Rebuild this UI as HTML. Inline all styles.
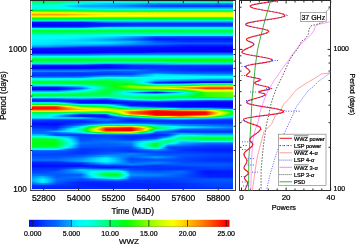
<!DOCTYPE html>
<html><head><meta charset="utf-8"><style>
html,body{margin:0;padding:0;background:#fff;width:357px;height:244px;overflow:hidden}
svg{display:block;will-change:transform}
</style></head><body>
<svg width="357" height="244" viewBox="0 0 357 244" shape-rendering="auto">
<defs><linearGradient id="g0"><stop offset="0.002" stop-color="#00ff32"/><stop offset="0.127" stop-color="#00ff36"/><stop offset="0.371" stop-color="#00ffc6"/><stop offset="0.495" stop-color="#00ff64"/><stop offset="0.644" stop-color="#00ff5e"/><stop offset="0.893" stop-color="#00ff32"/><stop offset="0.998" stop-color="#00ff32"/></linearGradient><linearGradient id="g1"><stop offset="0.002" stop-color="#00ff72"/><stop offset="0.122" stop-color="#00ff74"/><stop offset="0.206" stop-color="#00ffbc"/><stop offset="0.326" stop-color="#00fff1"/><stop offset="0.381" stop-color="#00fcfb"/><stop offset="0.505" stop-color="#00ffdd"/><stop offset="0.644" stop-color="#00ffec"/><stop offset="0.958" stop-color="#00ffdb"/><stop offset="0.998" stop-color="#00ffdb"/></linearGradient><linearGradient id="g2"><stop offset="0.002" stop-color="#00ff99"/><stop offset="0.122" stop-color="#00ff9c"/><stop offset="0.197" stop-color="#00ffea"/><stop offset="0.226" stop-color="#00f7fc"/><stop offset="0.371" stop-color="#00beff"/><stop offset="0.505" stop-color="#00b9ff"/><stop offset="0.629" stop-color="#0088ff"/><stop offset="0.998" stop-color="#0088ff"/></linearGradient><linearGradient id="g3"><stop offset="0.002" stop-color="#00ffc2"/><stop offset="0.122" stop-color="#00ffc5"/><stop offset="0.197" stop-color="#00fafb"/><stop offset="0.256" stop-color="#00d1ff"/><stop offset="0.460" stop-color="#00a7ff"/><stop offset="0.535" stop-color="#0090ff"/><stop offset="0.634" stop-color="#006eff"/><stop offset="0.998" stop-color="#0067ff"/></linearGradient><linearGradient id="g4"><stop offset="0.002" stop-color="#00ffe9"/><stop offset="0.122" stop-color="#00ffea"/><stop offset="0.152" stop-color="#00fafb"/><stop offset="0.211" stop-color="#00ccff"/><stop offset="0.246" stop-color="#00abff"/><stop offset="0.381" stop-color="#00a1ff"/><stop offset="0.634" stop-color="#0047ff"/><stop offset="0.794" stop-color="#0038ff"/><stop offset="0.998" stop-color="#0038ff"/></linearGradient><linearGradient id="g5"><stop offset="0.002" stop-color="#00ffed"/><stop offset="0.122" stop-color="#00ffee"/><stop offset="0.152" stop-color="#00f7fc"/><stop offset="0.226" stop-color="#00bdff"/><stop offset="0.251" stop-color="#00abff"/><stop offset="0.381" stop-color="#00a3ff"/><stop offset="0.634" stop-color="#004bff"/><stop offset="0.794" stop-color="#003bff"/><stop offset="0.998" stop-color="#003bff"/></linearGradient><linearGradient id="g6"><stop offset="0.002" stop-color="#00ffe2"/><stop offset="0.127" stop-color="#00ffe6"/><stop offset="0.177" stop-color="#00f9fc"/><stop offset="0.256" stop-color="#00d2ff"/><stop offset="0.525" stop-color="#00aaff"/><stop offset="0.644" stop-color="#008dff"/><stop offset="0.983" stop-color="#0086ff"/><stop offset="0.998" stop-color="#0086ff"/></linearGradient><linearGradient id="g7"><stop offset="0.002" stop-color="#00ffdb"/><stop offset="0.127" stop-color="#00ffdf"/><stop offset="0.201" stop-color="#00fafb"/><stop offset="0.361" stop-color="#00d6ff"/><stop offset="0.530" stop-color="#00ceff"/><stop offset="0.654" stop-color="#00beff"/><stop offset="0.998" stop-color="#00beff"/></linearGradient><linearGradient id="g8"><stop offset="0.002" stop-color="#00ff70"/><stop offset="0.137" stop-color="#00ff76"/><stop offset="0.381" stop-color="#00ffc2"/><stop offset="0.998" stop-color="#00ffc8"/></linearGradient><linearGradient id="g9"><stop offset="0.002" stop-color="#00ff23"/><stop offset="0.162" stop-color="#00ff2a"/><stop offset="0.286" stop-color="#00ff47"/><stop offset="0.386" stop-color="#00ff64"/><stop offset="0.998" stop-color="#00ff64"/></linearGradient><linearGradient id="g10"><stop offset="0.002" stop-color="#60ff00"/><stop offset="0.152" stop-color="#5aff00"/><stop offset="0.396" stop-color="#30ff00"/><stop offset="0.998" stop-color="#30ff00"/></linearGradient><linearGradient id="g11"><stop offset="0.002" stop-color="#f4ff00"/><stop offset="0.147" stop-color="#eeff00"/><stop offset="0.376" stop-color="#c3ff00"/><stop offset="0.998" stop-color="#c3ff00"/></linearGradient><linearGradient id="g12"><stop offset="0.002" stop-color="#ffd400"/><stop offset="0.137" stop-color="#ffd900"/><stop offset="0.331" stop-color="#faff00"/><stop offset="0.470" stop-color="#f3ff00"/><stop offset="0.998" stop-color="#f3ff00"/></linearGradient><linearGradient id="g13"><stop offset="0.002" stop-color="#ff9d00"/><stop offset="0.137" stop-color="#ffa200"/><stop offset="0.296" stop-color="#ffd700"/><stop offset="0.381" stop-color="#fdf200"/><stop offset="0.998" stop-color="#fdf200"/></linearGradient><linearGradient id="g14"><stop offset="0.002" stop-color="#ffc700"/><stop offset="0.137" stop-color="#ffcc00"/><stop offset="0.356" stop-color="#fcff00"/><stop offset="0.998" stop-color="#f9ff00"/></linearGradient><linearGradient id="g15"><stop offset="0.002" stop-color="#fef100"/><stop offset="0.147" stop-color="#fdf700"/><stop offset="0.236" stop-color="#f0ff00"/><stop offset="0.420" stop-color="#deff00"/><stop offset="0.998" stop-color="#deff00"/></linearGradient><linearGradient id="g16"><stop offset="0.002" stop-color="#6aff00"/><stop offset="0.152" stop-color="#64ff00"/><stop offset="0.396" stop-color="#39ff00"/><stop offset="0.998" stop-color="#39ff00"/></linearGradient><linearGradient id="g17"><stop offset="0.002" stop-color="#00ff0b"/><stop offset="0.600" stop-color="#00ff18"/><stop offset="0.998" stop-color="#00ff18"/></linearGradient><linearGradient id="g20"><stop offset="0.002" stop-color="#0088ff"/><stop offset="0.251" stop-color="#008bff"/><stop offset="0.381" stop-color="#00beff"/><stop offset="0.998" stop-color="#00beff"/></linearGradient><linearGradient id="g21"><stop offset="0.002" stop-color="#0010ff"/><stop offset="0.251" stop-color="#0015ff"/><stop offset="0.361" stop-color="#0063ff"/><stop offset="0.400" stop-color="#006cff"/><stop offset="0.998" stop-color="#0070ff"/></linearGradient><linearGradient id="g22"><stop offset="0.002" stop-color="#000dff"/><stop offset="0.286" stop-color="#0015ff"/><stop offset="0.535" stop-color="#0030ff"/><stop offset="0.998" stop-color="#0030ff"/></linearGradient><linearGradient id="g23"><stop offset="0.002" stop-color="#0006ff"/><stop offset="0.281" stop-color="#0012ff"/><stop offset="0.535" stop-color="#0030ff"/><stop offset="0.998" stop-color="#0030ff"/></linearGradient><linearGradient id="g24"><stop offset="0.002" stop-color="#0001ff"/><stop offset="0.246" stop-color="#000bff"/><stop offset="0.425" stop-color="#0034ff"/><stop offset="0.550" stop-color="#003fff"/><stop offset="0.998" stop-color="#003fff"/></linearGradient><linearGradient id="g25"><stop offset="0.002" stop-color="#001aff"/><stop offset="0.251" stop-color="#0023ff"/><stop offset="0.391" stop-color="#005cff"/><stop offset="0.525" stop-color="#0070ff"/><stop offset="0.998" stop-color="#0070ff"/></linearGradient><linearGradient id="g26"><stop offset="0.002" stop-color="#0065ff"/><stop offset="0.246" stop-color="#0067ff"/><stop offset="0.366" stop-color="#00e9ff"/><stop offset="0.998" stop-color="#00effe"/></linearGradient><linearGradient id="g27"><stop offset="0.002" stop-color="#00ffee"/><stop offset="0.321" stop-color="#00ffe8"/><stop offset="0.998" stop-color="#00ffe4"/></linearGradient><linearGradient id="g28"><stop offset="0.002" stop-color="#00ffac"/><stop offset="0.221" stop-color="#00ffb3"/><stop offset="0.276" stop-color="#00ffae"/><stop offset="0.391" stop-color="#00ff96"/><stop offset="0.595" stop-color="#00ff8c"/><stop offset="0.883" stop-color="#00ff96"/><stop offset="0.998" stop-color="#00ff96"/></linearGradient><linearGradient id="g29"><stop offset="0.002" stop-color="#00ff2f"/><stop offset="0.211" stop-color="#00ff36"/><stop offset="0.455" stop-color="#00ff3f"/><stop offset="0.634" stop-color="#00ff2d"/><stop offset="0.779" stop-color="#00ff3f"/><stop offset="0.998" stop-color="#00ff3f"/></linearGradient><linearGradient id="g30"><stop offset="0.002" stop-color="#00ff27"/><stop offset="0.266" stop-color="#00ff26"/><stop offset="0.396" stop-color="#00ff3d"/><stop offset="0.535" stop-color="#00ff36"/><stop offset="0.639" stop-color="#00ff2d"/><stop offset="0.789" stop-color="#00ff3d"/><stop offset="0.998" stop-color="#00ff3d"/></linearGradient><linearGradient id="g31"><stop offset="0.002" stop-color="#00ff59"/><stop offset="0.266" stop-color="#00ff5c"/><stop offset="0.396" stop-color="#00ff72"/><stop offset="0.998" stop-color="#00ff72"/></linearGradient><linearGradient id="g32"><stop offset="0.002" stop-color="#00ff72"/><stop offset="0.266" stop-color="#00ff78"/><stop offset="0.396" stop-color="#00ff8f"/><stop offset="0.998" stop-color="#00ff8f"/></linearGradient><linearGradient id="g33"><stop offset="0.002" stop-color="#00ffc6"/><stop offset="0.266" stop-color="#00ffcb"/><stop offset="0.400" stop-color="#00ffe0"/><stop offset="0.998" stop-color="#00ffe0"/></linearGradient><linearGradient id="g34"><stop offset="0.002" stop-color="#00ffee"/><stop offset="0.396" stop-color="#00fff6"/><stop offset="0.828" stop-color="#00f5fd"/><stop offset="0.998" stop-color="#00f5fd"/></linearGradient><linearGradient id="g35"><stop offset="0.002" stop-color="#00ffee"/><stop offset="0.197" stop-color="#00fff7"/><stop offset="0.376" stop-color="#00e8ff"/><stop offset="0.510" stop-color="#00aaff"/><stop offset="0.624" stop-color="#0060ff"/><stop offset="0.998" stop-color="#0060ff"/></linearGradient><linearGradient id="g36"><stop offset="0.002" stop-color="#00ffee"/><stop offset="0.137" stop-color="#00fff3"/><stop offset="0.301" stop-color="#00e3ff"/><stop offset="0.415" stop-color="#00c2ff"/><stop offset="0.505" stop-color="#0093ff"/><stop offset="0.614" stop-color="#0041ff"/><stop offset="0.998" stop-color="#003eff"/></linearGradient><linearGradient id="g37"><stop offset="0.002" stop-color="#00fff1"/><stop offset="0.167" stop-color="#00f9fb"/><stop offset="0.381" stop-color="#00bfff"/><stop offset="0.510" stop-color="#0072ff"/><stop offset="0.614" stop-color="#0029ff"/><stop offset="0.918" stop-color="#0020ff"/><stop offset="0.998" stop-color="#0020ff"/></linearGradient><linearGradient id="g38"><stop offset="0.002" stop-color="#00fbfb"/><stop offset="0.112" stop-color="#00f1fe"/><stop offset="0.266" stop-color="#00d4ff"/><stop offset="0.505" stop-color="#0067ff"/><stop offset="0.619" stop-color="#0021ff"/><stop offset="0.873" stop-color="#0017ff"/><stop offset="0.998" stop-color="#0017ff"/></linearGradient><linearGradient id="g39"><stop offset="0.002" stop-color="#00f9fc"/><stop offset="0.097" stop-color="#00effe"/><stop offset="0.291" stop-color="#00c5ff"/><stop offset="0.470" stop-color="#008eff"/><stop offset="0.510" stop-color="#007cff"/><stop offset="0.614" stop-color="#0038ff"/><stop offset="0.789" stop-color="#0026ff"/><stop offset="0.998" stop-color="#0026ff"/></linearGradient><linearGradient id="g40"><stop offset="0.002" stop-color="#00f5fd"/><stop offset="0.097" stop-color="#00ecff"/><stop offset="0.236" stop-color="#00ddff"/><stop offset="0.490" stop-color="#00b7ff"/><stop offset="0.624" stop-color="#0051ff"/><stop offset="0.759" stop-color="#0030ff"/><stop offset="0.998" stop-color="#0030ff"/></linearGradient><linearGradient id="g41"><stop offset="0.002" stop-color="#00effe"/><stop offset="0.082" stop-color="#00e8ff"/><stop offset="0.137" stop-color="#00ddff"/><stop offset="0.306" stop-color="#00e8ff"/><stop offset="0.381" stop-color="#00e1ff"/><stop offset="0.505" stop-color="#00afff"/><stop offset="0.624" stop-color="#005aff"/><stop offset="0.774" stop-color="#0044ff"/><stop offset="0.998" stop-color="#0044ff"/></linearGradient><linearGradient id="g42"><stop offset="0.002" stop-color="#00ecff"/><stop offset="0.077" stop-color="#00e4ff"/><stop offset="0.132" stop-color="#00d6ff"/><stop offset="0.296" stop-color="#00e4ff"/><stop offset="0.376" stop-color="#00deff"/><stop offset="0.545" stop-color="#0083ff"/><stop offset="0.679" stop-color="#0062ff"/><stop offset="0.803" stop-color="#0058ff"/><stop offset="0.998" stop-color="#0058ff"/></linearGradient><linearGradient id="g43"><stop offset="0.002" stop-color="#00e5ff"/><stop offset="0.072" stop-color="#00deff"/><stop offset="0.152" stop-color="#00cbff"/><stop offset="0.400" stop-color="#00a4ff"/><stop offset="0.759" stop-color="#003aff"/><stop offset="0.998" stop-color="#003aff"/></linearGradient><linearGradient id="g44"><stop offset="0.002" stop-color="#00bfff"/><stop offset="0.067" stop-color="#00baff"/><stop offset="0.132" stop-color="#00a4ff"/><stop offset="0.271" stop-color="#009dff"/><stop offset="0.410" stop-color="#0078ff"/><stop offset="0.585" stop-color="#003fff"/><stop offset="0.769" stop-color="#0020ff"/><stop offset="0.998" stop-color="#0020ff"/></linearGradient><linearGradient id="g45"><stop offset="0.002" stop-color="#00a3ff"/><stop offset="0.067" stop-color="#009eff"/><stop offset="0.261" stop-color="#0057ff"/><stop offset="0.410" stop-color="#0044ff"/><stop offset="0.530" stop-color="#002eff"/><stop offset="0.669" stop-color="#0020ff"/><stop offset="0.774" stop-color="#0010ff"/><stop offset="0.998" stop-color="#0010ff"/></linearGradient><linearGradient id="g46"><stop offset="0.002" stop-color="#0066ff"/><stop offset="0.087" stop-color="#005eff"/><stop offset="0.187" stop-color="#0037ff"/><stop offset="0.256" stop-color="#0020ff"/><stop offset="0.530" stop-color="#001aff"/><stop offset="0.789" stop-color="#0000ff"/><stop offset="0.998" stop-color="#0000ff"/></linearGradient><linearGradient id="g47"><stop offset="0.002" stop-color="#001bff"/><stop offset="0.649" stop-color="#0006ff"/><stop offset="0.998" stop-color="#0000fc"/></linearGradient><linearGradient id="g48"><stop offset="0.002" stop-color="#000fff"/><stop offset="0.540" stop-color="#0009ff"/><stop offset="0.813" stop-color="#0000f6"/><stop offset="0.998" stop-color="#0000f6"/></linearGradient><linearGradient id="g49"><stop offset="0.002" stop-color="#000aff"/><stop offset="0.475" stop-color="#0007ff"/><stop offset="0.595" stop-color="#0000f7"/><stop offset="0.998" stop-color="#0000f2"/></linearGradient><linearGradient id="g50"><stop offset="0.002" stop-color="#0003ff"/><stop offset="0.430" stop-color="#0006ff"/><stop offset="0.998" stop-color="#0000fe"/></linearGradient><linearGradient id="g51"><stop offset="0.002" stop-color="#0000ff"/><stop offset="0.281" stop-color="#0006ff"/><stop offset="0.396" stop-color="#0011ff"/><stop offset="0.530" stop-color="#000fff"/><stop offset="0.639" stop-color="#0028ff"/><stop offset="0.998" stop-color="#0028ff"/></linearGradient><linearGradient id="g52"><stop offset="0.002" stop-color="#0027ff"/><stop offset="0.261" stop-color="#002cff"/><stop offset="0.381" stop-color="#0053ff"/><stop offset="0.560" stop-color="#0055ff"/><stop offset="0.639" stop-color="#0067ff"/><stop offset="0.998" stop-color="#0067ff"/></linearGradient><linearGradient id="g53"><stop offset="0.002" stop-color="#0078ff"/><stop offset="0.286" stop-color="#007dff"/><stop offset="0.445" stop-color="#0088ff"/><stop offset="0.998" stop-color="#0088ff"/></linearGradient><linearGradient id="g54"><stop offset="0.002" stop-color="#00b0ff"/><stop offset="0.256" stop-color="#00b5ff"/><stop offset="0.386" stop-color="#00d4ff"/><stop offset="0.998" stop-color="#00d4ff"/></linearGradient><linearGradient id="g56"><stop offset="0.002" stop-color="#00ffc5"/><stop offset="0.719" stop-color="#00ffcc"/><stop offset="0.998" stop-color="#00ffce"/></linearGradient><linearGradient id="g57"><stop offset="0.002" stop-color="#00ff58"/><stop offset="0.485" stop-color="#00ff5e"/><stop offset="0.609" stop-color="#00ff5a"/><stop offset="0.704" stop-color="#00ff63"/><stop offset="0.779" stop-color="#00ff6c"/><stop offset="0.998" stop-color="#00ff6b"/></linearGradient><linearGradient id="g58"><stop offset="0.002" stop-color="#00ff1e"/><stop offset="0.525" stop-color="#00ff1b"/><stop offset="0.674" stop-color="#00ff12"/><stop offset="0.779" stop-color="#00ff18"/><stop offset="0.998" stop-color="#00ff12"/></linearGradient><linearGradient id="g59"><stop offset="0.002" stop-color="#00ff34"/><stop offset="0.316" stop-color="#00ff3b"/><stop offset="0.495" stop-color="#00ff3a"/><stop offset="0.699" stop-color="#00ff13"/><stop offset="0.799" stop-color="#07ff08"/><stop offset="0.898" stop-color="#17ff05"/><stop offset="0.998" stop-color="#17ff05"/></linearGradient><linearGradient id="g60"><stop offset="0.002" stop-color="#00ff75"/><stop offset="0.276" stop-color="#00ff7a"/><stop offset="0.405" stop-color="#00ff88"/><stop offset="0.644" stop-color="#00ff7c"/><stop offset="0.784" stop-color="#00ff53"/><stop offset="0.913" stop-color="#00ff45"/><stop offset="0.998" stop-color="#00ff45"/></linearGradient><linearGradient id="g61"><stop offset="0.002" stop-color="#00ff96"/><stop offset="0.256" stop-color="#00ff9b"/><stop offset="0.381" stop-color="#00ffc8"/><stop offset="0.629" stop-color="#00ffc3"/><stop offset="0.754" stop-color="#00ff96"/><stop offset="0.998" stop-color="#00ff96"/></linearGradient><linearGradient id="g62"><stop offset="0.002" stop-color="#00ebff"/><stop offset="0.256" stop-color="#00e6ff"/><stop offset="0.381" stop-color="#00beff"/><stop offset="0.629" stop-color="#00c2ff"/><stop offset="0.754" stop-color="#00ebff"/><stop offset="0.998" stop-color="#00ebff"/></linearGradient><linearGradient id="g63"><stop offset="0.002" stop-color="#0088ff"/><stop offset="0.246" stop-color="#0086ff"/><stop offset="0.366" stop-color="#0032ff"/><stop offset="0.450" stop-color="#0052ff"/><stop offset="0.500" stop-color="#0070ff"/><stop offset="0.590" stop-color="#007eff"/><stop offset="0.699" stop-color="#00a2ff"/><stop offset="0.998" stop-color="#00a6ff"/></linearGradient><linearGradient id="g64"><stop offset="0.002" stop-color="#0010ff"/><stop offset="0.386" stop-color="#0013ff"/><stop offset="0.530" stop-color="#0033ff"/><stop offset="0.779" stop-color="#0042ff"/><stop offset="0.998" stop-color="#0042ff"/></linearGradient><linearGradient id="g65"><stop offset="0.002" stop-color="#000aff"/><stop offset="0.381" stop-color="#000aff"/><stop offset="0.510" stop-color="#0030ff"/><stop offset="0.998" stop-color="#002fff"/></linearGradient><linearGradient id="g66"><stop offset="0.002" stop-color="#0002ff"/><stop offset="0.381" stop-color="#0005ff"/><stop offset="0.510" stop-color="#0031ff"/><stop offset="0.719" stop-color="#0031ff"/><stop offset="0.998" stop-color="#002bff"/></linearGradient><linearGradient id="g67"><stop offset="0.002" stop-color="#000cff"/><stop offset="0.266" stop-color="#0011ff"/><stop offset="0.405" stop-color="#002aff"/><stop offset="0.595" stop-color="#003dff"/><stop offset="0.938" stop-color="#0025ff"/><stop offset="0.998" stop-color="#0025ff"/></linearGradient><linearGradient id="g68"><stop offset="0.002" stop-color="#0049ff"/><stop offset="0.291" stop-color="#004fff"/><stop offset="0.505" stop-color="#0064ff"/><stop offset="0.674" stop-color="#003aff"/><stop offset="0.908" stop-color="#0021ff"/><stop offset="0.998" stop-color="#0021ff"/></linearGradient><linearGradient id="g69"><stop offset="0.002" stop-color="#006dff"/><stop offset="0.266" stop-color="#0072ff"/><stop offset="0.396" stop-color="#0088ff"/><stop offset="0.500" stop-color="#0084ff"/><stop offset="0.629" stop-color="#0046ff"/><stop offset="0.893" stop-color="#0023ff"/><stop offset="0.998" stop-color="#0023ff"/></linearGradient><linearGradient id="g70"><stop offset="0.002" stop-color="#008dff"/><stop offset="0.251" stop-color="#0089ff"/><stop offset="0.376" stop-color="#0054ff"/><stop offset="0.535" stop-color="#0063ff"/><stop offset="0.674" stop-color="#0054ff"/><stop offset="0.803" stop-color="#003fff"/><stop offset="0.998" stop-color="#003aff"/></linearGradient><linearGradient id="g71"><stop offset="0.002" stop-color="#0050ff"/><stop offset="0.291" stop-color="#004aff"/><stop offset="0.391" stop-color="#0045ff"/><stop offset="0.629" stop-color="#006dff"/><stop offset="0.769" stop-color="#0055ff"/><stop offset="0.998" stop-color="#0054ff"/></linearGradient><linearGradient id="g72"><stop offset="0.002" stop-color="#0042ff"/><stop offset="0.296" stop-color="#003bff"/><stop offset="0.391" stop-color="#0037ff"/><stop offset="0.500" stop-color="#004cff"/><stop offset="0.590" stop-color="#008bff"/><stop offset="0.619" stop-color="#009aff"/><stop offset="0.724" stop-color="#006cff"/><stop offset="0.863" stop-color="#0065ff"/><stop offset="0.998" stop-color="#0065ff"/></linearGradient><linearGradient id="g73"><stop offset="0.002" stop-color="#0037ff"/><stop offset="0.316" stop-color="#0038ff"/><stop offset="0.495" stop-color="#004fff"/><stop offset="0.619" stop-color="#00e0ff"/><stop offset="0.734" stop-color="#00bfff"/><stop offset="0.888" stop-color="#009eff"/><stop offset="0.998" stop-color="#009eff"/></linearGradient><linearGradient id="g74"><stop offset="0.002" stop-color="#0030ff"/><stop offset="0.246" stop-color="#0039ff"/><stop offset="0.376" stop-color="#007aff"/><stop offset="0.495" stop-color="#0080ff"/><stop offset="0.619" stop-color="#00edff"/><stop offset="0.759" stop-color="#00e5ff"/><stop offset="0.883" stop-color="#00c1ff"/><stop offset="0.998" stop-color="#00c1ff"/></linearGradient><linearGradient id="g75"><stop offset="0.002" stop-color="#0058ff"/><stop offset="0.211" stop-color="#0061ff"/><stop offset="0.271" stop-color="#0076ff"/><stop offset="0.376" stop-color="#00b0ff"/><stop offset="0.495" stop-color="#00a2ff"/><stop offset="0.609" stop-color="#00f6fc"/><stop offset="0.848" stop-color="#00fdfa"/><stop offset="0.998" stop-color="#00fffa"/></linearGradient><linearGradient id="g76"><stop offset="0.002" stop-color="#0088ff"/><stop offset="0.246" stop-color="#008bff"/><stop offset="0.326" stop-color="#00eaff"/><stop offset="0.361" stop-color="#00fff5"/><stop offset="0.386" stop-color="#00fff1"/><stop offset="0.535" stop-color="#00fefa"/><stop offset="0.699" stop-color="#00fff2"/><stop offset="0.998" stop-color="#00fff6"/></linearGradient><linearGradient id="g77"><stop offset="0.002" stop-color="#00f2fd"/><stop offset="0.251" stop-color="#00f6fc"/><stop offset="0.291" stop-color="#00ffef"/><stop offset="0.371" stop-color="#00ffbf"/><stop offset="0.450" stop-color="#00ffdd"/><stop offset="0.669" stop-color="#00fff7"/><stop offset="0.764" stop-color="#00f9fb"/><stop offset="0.878" stop-color="#00d4ff"/><stop offset="0.998" stop-color="#00d4ff"/></linearGradient><linearGradient id="g78"><stop offset="0.002" stop-color="#00ffe5"/><stop offset="0.246" stop-color="#00ffe1"/><stop offset="0.336" stop-color="#00ff81"/><stop offset="0.371" stop-color="#00ff5d"/><stop offset="0.500" stop-color="#00ffae"/><stop offset="0.570" stop-color="#00fff8"/><stop offset="0.629" stop-color="#00daff"/><stop offset="0.803" stop-color="#00a9ff"/><stop offset="0.883" stop-color="#0093ff"/><stop offset="0.998" stop-color="#0093ff"/></linearGradient><linearGradient id="g79"><stop offset="0.002" stop-color="#00ff9a"/><stop offset="0.142" stop-color="#00ff94"/><stop offset="0.236" stop-color="#00ff8a"/><stop offset="0.371" stop-color="#00ff48"/><stop offset="0.495" stop-color="#00ff93"/><stop offset="0.550" stop-color="#00ffe5"/><stop offset="0.570" stop-color="#00fbfb"/><stop offset="0.609" stop-color="#00c9ff"/><stop offset="0.634" stop-color="#00b6ff"/><stop offset="0.764" stop-color="#0084ff"/><stop offset="0.908" stop-color="#0073ff"/><stop offset="0.998" stop-color="#0073ff"/></linearGradient><linearGradient id="g80"><stop offset="0.002" stop-color="#00ff38"/><stop offset="0.147" stop-color="#00ff32"/><stop offset="0.351" stop-color="#00ff2c"/><stop offset="0.405" stop-color="#00ff3c"/><stop offset="0.495" stop-color="#00ff72"/><stop offset="0.540" stop-color="#00ffe1"/><stop offset="0.555" stop-color="#00fcfb"/><stop offset="0.585" stop-color="#00c9ff"/><stop offset="0.619" stop-color="#007dff"/><stop offset="0.699" stop-color="#004cff"/><stop offset="0.853" stop-color="#001dff"/><stop offset="0.998" stop-color="#001aff"/></linearGradient><linearGradient id="g81"><stop offset="0.002" stop-color="#00ff20"/><stop offset="0.321" stop-color="#00ff21"/><stop offset="0.381" stop-color="#00ff23"/><stop offset="0.490" stop-color="#00ff54"/><stop offset="0.510" stop-color="#00ff8c"/><stop offset="0.540" stop-color="#00ffe2"/><stop offset="0.550" stop-color="#00fffa"/><stop offset="0.565" stop-color="#00ddff"/><stop offset="0.609" stop-color="#0049ff"/><stop offset="0.619" stop-color="#0034ff"/><stop offset="0.749" stop-color="#0001ff"/><stop offset="0.953" stop-color="#000dff"/><stop offset="0.998" stop-color="#000dff"/></linearGradient><linearGradient id="g82"><stop offset="0.002" stop-color="#00ff6b"/><stop offset="0.157" stop-color="#00ff65"/><stop offset="0.256" stop-color="#00ff58"/><stop offset="0.376" stop-color="#00ff25"/><stop offset="0.490" stop-color="#00ff16"/><stop offset="0.505" stop-color="#00ff35"/><stop offset="0.570" stop-color="#00fff8"/><stop offset="0.585" stop-color="#00ddff"/><stop offset="0.614" stop-color="#0073ff"/><stop offset="0.624" stop-color="#0069ff"/><stop offset="0.694" stop-color="#0066ff"/><stop offset="0.744" stop-color="#0072ff"/><stop offset="0.858" stop-color="#00edff"/><stop offset="0.998" stop-color="#00f1fd"/></linearGradient><linearGradient id="g83"><stop offset="0.002" stop-color="#00ffc2"/><stop offset="0.132" stop-color="#00ffbd"/><stop offset="0.256" stop-color="#00ff89"/><stop offset="0.386" stop-color="#00ff28"/><stop offset="0.465" stop-color="#03ff09"/><stop offset="0.490" stop-color="#0dff07"/><stop offset="0.505" stop-color="#00ff14"/><stop offset="0.609" stop-color="#00ffd9"/><stop offset="0.624" stop-color="#00ffe3"/><stop offset="0.749" stop-color="#00ffcf"/><stop offset="0.868" stop-color="#00ff64"/><stop offset="0.998" stop-color="#00ff64"/></linearGradient><linearGradient id="g84"><stop offset="0.002" stop-color="#00ebff"/><stop offset="0.142" stop-color="#00f1fe"/><stop offset="0.197" stop-color="#00fff5"/><stop offset="0.256" stop-color="#00ffcc"/><stop offset="0.381" stop-color="#00ff2c"/><stop offset="0.425" stop-color="#04ff09"/><stop offset="0.490" stop-color="#5bff00"/><stop offset="0.500" stop-color="#50ff00"/><stop offset="0.545" stop-color="#00ff0c"/><stop offset="0.590" stop-color="#00ff5f"/><stop offset="0.619" stop-color="#00ff98"/><stop offset="0.704" stop-color="#00ff84"/><stop offset="0.744" stop-color="#00ff6f"/><stop offset="0.794" stop-color="#00ff0e"/><stop offset="0.833" stop-color="#4dff00"/><stop offset="0.868" stop-color="#8cff00"/><stop offset="0.998" stop-color="#8cff00"/></linearGradient><linearGradient id="g85"><stop offset="0.002" stop-color="#0075ff"/><stop offset="0.127" stop-color="#0079ff"/><stop offset="0.246" stop-color="#00c3ff"/><stop offset="0.276" stop-color="#00f6fc"/><stop offset="0.296" stop-color="#00ffe5"/><stop offset="0.341" stop-color="#00ff8e"/><stop offset="0.391" stop-color="#00ff2b"/><stop offset="0.415" stop-color="#05ff09"/><stop offset="0.470" stop-color="#67ff00"/><stop offset="0.495" stop-color="#8cff00"/><stop offset="0.619" stop-color="#7aff00"/><stop offset="0.694" stop-color="#a1ff00"/><stop offset="0.744" stop-color="#b1ff00"/><stop offset="0.803" stop-color="#faff00"/><stop offset="0.858" stop-color="#ffc900"/><stop offset="0.878" stop-color="#ffc000"/><stop offset="0.998" stop-color="#ffc000"/></linearGradient><linearGradient id="g86"><stop offset="0.002" stop-color="#000aff"/><stop offset="0.122" stop-color="#000cff"/><stop offset="0.206" stop-color="#005aff"/><stop offset="0.246" stop-color="#008eff"/><stop offset="0.286" stop-color="#00ecff"/><stop offset="0.301" stop-color="#00fff8"/><stop offset="0.341" stop-color="#00ffa6"/><stop offset="0.376" stop-color="#00ff58"/><stop offset="0.430" stop-color="#00ff0a"/><stop offset="0.495" stop-color="#64ff00"/><stop offset="0.604" stop-color="#efff00"/><stop offset="0.629" stop-color="#fdf800"/><stop offset="0.813" stop-color="#ff7c00"/><stop offset="0.873" stop-color="#ff5900"/><stop offset="0.998" stop-color="#ff5900"/></linearGradient><linearGradient id="g87"><stop offset="0.002" stop-color="#0005ff"/><stop offset="0.127" stop-color="#0009ff"/><stop offset="0.241" stop-color="#0056ff"/><stop offset="0.271" stop-color="#00a9ff"/><stop offset="0.296" stop-color="#00edfe"/><stop offset="0.306" stop-color="#00fefa"/><stop offset="0.336" stop-color="#00ffb2"/><stop offset="0.371" stop-color="#00ff50"/><stop offset="0.450" stop-color="#05ff09"/><stop offset="0.550" stop-color="#68ff00"/><stop offset="0.634" stop-color="#b9ff00"/><stop offset="0.694" stop-color="#f9ff00"/><stop offset="0.749" stop-color="#ffd400"/><stop offset="0.868" stop-color="#ff3600"/><stop offset="0.998" stop-color="#ff3600"/></linearGradient><linearGradient id="g88"><stop offset="0.002" stop-color="#0000ff"/><stop offset="0.122" stop-color="#0003ff"/><stop offset="0.197" stop-color="#0057ff"/><stop offset="0.246" stop-color="#00aaff"/><stop offset="0.276" stop-color="#00f0fe"/><stop offset="0.291" stop-color="#00fff1"/><stop offset="0.326" stop-color="#00ffa4"/><stop offset="0.366" stop-color="#00ff3d"/><stop offset="0.381" stop-color="#00ff39"/><stop offset="0.440" stop-color="#00ff40"/><stop offset="0.669" stop-color="#05ff09"/><stop offset="0.744" stop-color="#46ff00"/><stop offset="0.808" stop-color="#deff00"/><stop offset="0.828" stop-color="#fcfb00"/><stop offset="0.868" stop-color="#ffb800"/><stop offset="0.998" stop-color="#ffb800"/></linearGradient><linearGradient id="g89"><stop offset="0.002" stop-color="#005eff"/><stop offset="0.122" stop-color="#0061ff"/><stop offset="0.261" stop-color="#00fffa"/><stop offset="0.311" stop-color="#00ffa5"/><stop offset="0.366" stop-color="#00ff37"/><stop offset="0.381" stop-color="#00ff3c"/><stop offset="0.495" stop-color="#00ff95"/><stop offset="0.649" stop-color="#00ff54"/><stop offset="0.704" stop-color="#00ff3f"/><stop offset="0.739" stop-color="#00ff39"/><stop offset="0.759" stop-color="#00ff0f"/><stop offset="0.784" stop-color="#3eff00"/><stop offset="0.843" stop-color="#d1ff00"/><stop offset="0.868" stop-color="#fcff00"/><stop offset="0.998" stop-color="#fcff00"/></linearGradient><linearGradient id="g90"><stop offset="0.002" stop-color="#00b0ff"/><stop offset="0.122" stop-color="#00b3ff"/><stop offset="0.211" stop-color="#00fffa"/><stop offset="0.276" stop-color="#00ffb4"/><stop offset="0.366" stop-color="#00ff36"/><stop offset="0.376" stop-color="#00ff3e"/><stop offset="0.475" stop-color="#00ffd9"/><stop offset="0.510" stop-color="#00fffa"/><stop offset="0.555" stop-color="#00e6ff"/><stop offset="0.614" stop-color="#0089ff"/><stop offset="0.624" stop-color="#0094ff"/><stop offset="0.674" stop-color="#00eaff"/><stop offset="0.709" stop-color="#00fff4"/><stop offset="0.744" stop-color="#00ffcf"/><stop offset="0.799" stop-color="#00ff1a"/><stop offset="0.803" stop-color="#00ff0c"/><stop offset="0.828" stop-color="#51ff00"/><stop offset="0.863" stop-color="#b8ff00"/><stop offset="0.883" stop-color="#c1ff00"/><stop offset="0.998" stop-color="#ccff00"/></linearGradient><linearGradient id="g91"><stop offset="0.002" stop-color="#00ffee"/><stop offset="0.127" stop-color="#00ffea"/><stop offset="0.231" stop-color="#00ffa0"/><stop offset="0.366" stop-color="#00ff34"/><stop offset="0.376" stop-color="#00ff44"/><stop offset="0.440" stop-color="#00ffda"/><stop offset="0.460" stop-color="#00fbfb"/><stop offset="0.550" stop-color="#005cff"/><stop offset="0.614" stop-color="#000dff"/><stop offset="0.649" stop-color="#0032ff"/><stop offset="0.704" stop-color="#008eff"/><stop offset="0.744" stop-color="#00dcff"/><stop offset="0.759" stop-color="#00fdfb"/><stop offset="0.789" stop-color="#00ffad"/><stop offset="0.833" stop-color="#00ff22"/><stop offset="0.843" stop-color="#02ff0a"/><stop offset="0.863" stop-color="#3fff00"/><stop offset="0.878" stop-color="#4bff00"/><stop offset="0.998" stop-color="#70ff00"/></linearGradient><linearGradient id="g92"><stop offset="0.002" stop-color="#00ffb6"/><stop offset="0.127" stop-color="#00ffb1"/><stop offset="0.366" stop-color="#00ff37"/><stop offset="0.386" stop-color="#00ff5a"/><stop offset="0.445" stop-color="#00ffd1"/><stop offset="0.475" stop-color="#00fdfa"/><stop offset="0.614" stop-color="#0091ff"/><stop offset="0.714" stop-color="#00f2fd"/><stop offset="0.739" stop-color="#00fff7"/><stop offset="0.774" stop-color="#00ffb2"/><stop offset="0.838" stop-color="#00ff18"/><stop offset="0.848" stop-color="#07ff09"/><stop offset="0.868" stop-color="#31ff00"/><stop offset="0.998" stop-color="#5fff00"/></linearGradient><linearGradient id="g93"><stop offset="0.002" stop-color="#00ff3c"/><stop offset="0.236" stop-color="#00ff3b"/><stop offset="0.371" stop-color="#00ff4f"/><stop offset="0.475" stop-color="#00ffdc"/><stop offset="0.500" stop-color="#00ffee"/><stop offset="0.634" stop-color="#00ffe9"/><stop offset="0.744" stop-color="#00ffc3"/><stop offset="0.828" stop-color="#00ff1e"/><stop offset="0.843" stop-color="#05ff09"/><stop offset="0.868" stop-color="#31ff00"/><stop offset="0.998" stop-color="#5fff00"/></linearGradient><linearGradient id="g94"><stop offset="0.002" stop-color="#00ff27"/><stop offset="0.162" stop-color="#00ff2e"/><stop offset="0.376" stop-color="#00ff66"/><stop offset="0.445" stop-color="#00ffa1"/><stop offset="0.495" stop-color="#00ffd1"/><stop offset="0.624" stop-color="#00ffc8"/><stop offset="0.694" stop-color="#00ffa2"/><stop offset="0.744" stop-color="#00ff90"/><stop offset="0.823" stop-color="#00ff18"/><stop offset="0.838" stop-color="#06ff09"/><stop offset="0.868" stop-color="#31ff00"/><stop offset="0.998" stop-color="#5fff00"/></linearGradient><linearGradient id="g95"><stop offset="0.002" stop-color="#00ffa9"/><stop offset="0.197" stop-color="#00ffa1"/><stop offset="0.316" stop-color="#00ff8e"/><stop offset="0.405" stop-color="#00ff8f"/><stop offset="0.495" stop-color="#00ff88"/><stop offset="0.575" stop-color="#00ff6f"/><stop offset="0.629" stop-color="#00ff64"/><stop offset="0.689" stop-color="#00ff47"/><stop offset="0.749" stop-color="#00ff39"/><stop offset="0.813" stop-color="#02ff0a"/><stop offset="0.873" stop-color="#33ff00"/><stop offset="0.998" stop-color="#5fff00"/></linearGradient><linearGradient id="g96"><stop offset="0.002" stop-color="#00ffee"/><stop offset="0.137" stop-color="#00ffe9"/><stop offset="0.251" stop-color="#00ffca"/><stop offset="0.371" stop-color="#00ffec"/><stop offset="0.440" stop-color="#00ffa3"/><stop offset="0.500" stop-color="#00ff60"/><stop offset="0.619" stop-color="#00ff25"/><stop offset="0.699" stop-color="#00ff40"/><stop offset="0.749" stop-color="#00ff41"/><stop offset="0.863" stop-color="#04ff09"/><stop offset="0.998" stop-color="#2eff00"/></linearGradient><linearGradient id="g97"><stop offset="0.002" stop-color="#0088ff"/><stop offset="0.132" stop-color="#008dff"/><stop offset="0.246" stop-color="#00bdff"/><stop offset="0.366" stop-color="#0089ff"/><stop offset="0.440" stop-color="#00f8fc"/><stop offset="0.465" stop-color="#00ffde"/><stop offset="0.500" stop-color="#00ffa8"/><stop offset="0.619" stop-color="#00ff45"/><stop offset="0.749" stop-color="#00ffb6"/><stop offset="0.888" stop-color="#00ffcc"/><stop offset="0.998" stop-color="#00ffc7"/></linearGradient><linearGradient id="g98"><stop offset="0.002" stop-color="#0035ff"/><stop offset="0.132" stop-color="#0039ff"/><stop offset="0.251" stop-color="#0062ff"/><stop offset="0.371" stop-color="#0046ff"/><stop offset="0.470" stop-color="#00f0fe"/><stop offset="0.490" stop-color="#00fff2"/><stop offset="0.629" stop-color="#00ffda"/><stop offset="0.803" stop-color="#00f9fb"/><stop offset="0.898" stop-color="#00ebff"/><stop offset="0.998" stop-color="#00ebff"/></linearGradient><linearGradient id="g99"><stop offset="0.002" stop-color="#0025ff"/><stop offset="0.157" stop-color="#001fff"/><stop offset="0.326" stop-color="#000cff"/><stop offset="0.371" stop-color="#000cff"/><stop offset="0.455" stop-color="#005aff"/><stop offset="0.515" stop-color="#009cff"/><stop offset="0.614" stop-color="#00e9ff"/><stop offset="0.734" stop-color="#008eff"/><stop offset="0.878" stop-color="#0058ff"/><stop offset="0.998" stop-color="#0058ff"/></linearGradient><linearGradient id="g100"><stop offset="0.002" stop-color="#0039ff"/><stop offset="0.132" stop-color="#0034ff"/><stop offset="0.261" stop-color="#000dff"/><stop offset="0.376" stop-color="#000dff"/><stop offset="0.510" stop-color="#0047ff"/><stop offset="0.629" stop-color="#0056ff"/><stop offset="0.774" stop-color="#0032ff"/><stop offset="0.883" stop-color="#0014ff"/><stop offset="0.998" stop-color="#0014ff"/></linearGradient><linearGradient id="g101"><stop offset="0.002" stop-color="#00e8ff"/><stop offset="0.122" stop-color="#00e4ff"/><stop offset="0.206" stop-color="#003eff"/><stop offset="0.246" stop-color="#000aff"/><stop offset="0.550" stop-color="#0015ff"/><stop offset="0.639" stop-color="#0016ff"/><stop offset="0.769" stop-color="#0000ff"/><stop offset="0.998" stop-color="#0000ff"/></linearGradient><linearGradient id="g102"><stop offset="0.002" stop-color="#00ff9d"/><stop offset="0.117" stop-color="#00ff9d"/><stop offset="0.162" stop-color="#00fff9"/><stop offset="0.182" stop-color="#00deff"/><stop offset="0.241" stop-color="#0043ff"/><stop offset="0.400" stop-color="#002aff"/><stop offset="0.520" stop-color="#000fff"/><stop offset="0.858" stop-color="#0000ff"/><stop offset="0.998" stop-color="#0000ff"/></linearGradient><linearGradient id="g103"><stop offset="0.002" stop-color="#0bff08"/><stop offset="0.122" stop-color="#06ff09"/><stop offset="0.157" stop-color="#00ff43"/><stop offset="0.231" stop-color="#00ffda"/><stop offset="0.251" stop-color="#00fff1"/><stop offset="0.336" stop-color="#00f2fd"/><stop offset="0.371" stop-color="#00e6ff"/><stop offset="0.455" stop-color="#0044ff"/><stop offset="0.495" stop-color="#0010ff"/><stop offset="0.853" stop-color="#0000ff"/><stop offset="0.998" stop-color="#0000ff"/></linearGradient><linearGradient id="g104"><stop offset="0.002" stop-color="#ddff00"/><stop offset="0.122" stop-color="#d8ff00"/><stop offset="0.192" stop-color="#42ff00"/><stop offset="0.221" stop-color="#00ff0f"/><stop offset="0.246" stop-color="#00ff41"/><stop offset="0.366" stop-color="#00ffad"/><stop offset="0.396" stop-color="#00fff5"/><stop offset="0.410" stop-color="#00e7ff"/><stop offset="0.465" stop-color="#0053ff"/><stop offset="0.490" stop-color="#0022ff"/><stop offset="0.684" stop-color="#0004ff"/><stop offset="0.998" stop-color="#0000ff"/></linearGradient><linearGradient id="g105"><stop offset="0.002" stop-color="#ff4f00"/><stop offset="0.117" stop-color="#ff4f00"/><stop offset="0.127" stop-color="#ff6800"/><stop offset="0.172" stop-color="#feed00"/><stop offset="0.182" stop-color="#f7ff00"/><stop offset="0.216" stop-color="#8eff00"/><stop offset="0.241" stop-color="#34ff00"/><stop offset="0.251" stop-color="#25ff02"/><stop offset="0.306" stop-color="#00ff0c"/><stop offset="0.366" stop-color="#00ff30"/><stop offset="0.396" stop-color="#00ff84"/><stop offset="0.430" stop-color="#00ffe4"/><stop offset="0.440" stop-color="#00fffa"/><stop offset="0.460" stop-color="#00d4ff"/><stop offset="0.490" stop-color="#007aff"/><stop offset="0.540" stop-color="#0052ff"/><stop offset="0.629" stop-color="#0020ff"/><stop offset="0.759" stop-color="#0000ff"/><stop offset="0.998" stop-color="#0000ff"/></linearGradient><linearGradient id="g106"><stop offset="0.002" stop-color="#ff1800"/><stop offset="0.117" stop-color="#ff1800"/><stop offset="0.132" stop-color="#ff3500"/><stop offset="0.187" stop-color="#ffb200"/><stop offset="0.226" stop-color="#fcfc00"/><stop offset="0.281" stop-color="#b5ff00"/><stop offset="0.366" stop-color="#4bff00"/><stop offset="0.386" stop-color="#0bff08"/><stop offset="0.391" stop-color="#00ff0f"/><stop offset="0.420" stop-color="#00ff72"/><stop offset="0.450" stop-color="#00ffcf"/><stop offset="0.470" stop-color="#00fcfb"/><stop offset="0.495" stop-color="#00c8ff"/><stop offset="0.749" stop-color="#003fff"/><stop offset="0.888" stop-color="#0039ff"/><stop offset="0.998" stop-color="#0021ff"/></linearGradient><linearGradient id="g107"><stop offset="0.002" stop-color="#ff0500"/><stop offset="0.122" stop-color="#ff0a00"/><stop offset="0.192" stop-color="#ff9900"/><stop offset="0.241" stop-color="#feee00"/><stop offset="0.281" stop-color="#f4ff00"/><stop offset="0.371" stop-color="#aeff00"/><stop offset="0.430" stop-color="#18ff05"/><stop offset="0.440" stop-color="#00ff0c"/><stop offset="0.480" stop-color="#00ff73"/><stop offset="0.490" stop-color="#00ff8f"/><stop offset="0.500" stop-color="#00ff93"/><stop offset="0.614" stop-color="#00ff65"/><stop offset="0.654" stop-color="#00ffab"/><stop offset="0.704" stop-color="#00fffa"/><stop offset="0.744" stop-color="#00c9ff"/><stop offset="0.868" stop-color="#00c7ff"/><stop offset="0.998" stop-color="#0046ff"/></linearGradient><linearGradient id="g108"><stop offset="0.002" stop-color="#ff4500"/><stop offset="0.122" stop-color="#ff4700"/><stop offset="0.301" stop-color="#fdf400"/><stop offset="0.326" stop-color="#f2ff00"/><stop offset="0.396" stop-color="#b6ff00"/><stop offset="0.495" stop-color="#6cff00"/><stop offset="0.570" stop-color="#88ff00"/><stop offset="0.619" stop-color="#89ff00"/><stop offset="0.724" stop-color="#14ff06"/><stop offset="0.744" stop-color="#00ff0a"/><stop offset="0.868" stop-color="#00ff0e"/><stop offset="0.913" stop-color="#00ff6a"/><stop offset="0.968" stop-color="#00ffdd"/><stop offset="0.988" stop-color="#00fbfb"/><stop offset="0.998" stop-color="#00eefe"/></linearGradient><linearGradient id="g109"><stop offset="0.002" stop-color="#ffb300"/><stop offset="0.122" stop-color="#ffb500"/><stop offset="0.197" stop-color="#feee00"/><stop offset="0.241" stop-color="#f5ff00"/><stop offset="0.386" stop-color="#deff00"/><stop offset="0.495" stop-color="#f0ff00"/><stop offset="0.510" stop-color="#fdf400"/><stop offset="0.595" stop-color="#ff5700"/><stop offset="0.614" stop-color="#ff2a00"/><stop offset="0.624" stop-color="#ff2c00"/><stop offset="0.744" stop-color="#ff9d00"/><stop offset="0.863" stop-color="#ffb600"/><stop offset="0.893" stop-color="#fbff00"/><stop offset="0.928" stop-color="#8eff00"/><stop offset="0.958" stop-color="#1aff05"/><stop offset="0.963" stop-color="#06ff09"/><stop offset="0.983" stop-color="#00ff4d"/><stop offset="0.998" stop-color="#00ff8c"/></linearGradient><linearGradient id="g110"><stop offset="0.002" stop-color="#c2ff00"/><stop offset="0.152" stop-color="#bcff00"/><stop offset="0.221" stop-color="#a1ff00"/><stop offset="0.366" stop-color="#3eff00"/><stop offset="0.371" stop-color="#44ff00"/><stop offset="0.420" stop-color="#d9ff00"/><stop offset="0.435" stop-color="#fbff00"/><stop offset="0.465" stop-color="#ffbd00"/><stop offset="0.495" stop-color="#ff7500"/><stop offset="0.609" stop-color="#ff0200"/><stop offset="0.679" stop-color="#ff0900"/><stop offset="0.863" stop-color="#ff3900"/><stop offset="0.873" stop-color="#ff5900"/><stop offset="0.913" stop-color="#ffe800"/><stop offset="0.923" stop-color="#f8ff00"/><stop offset="0.953" stop-color="#89ff00"/><stop offset="0.978" stop-color="#18ff05"/><stop offset="0.983" stop-color="#00ff0a"/><stop offset="0.998" stop-color="#00ff49"/></linearGradient><linearGradient id="g111"><stop offset="0.002" stop-color="#00ff2f"/><stop offset="0.132" stop-color="#00ff34"/><stop offset="0.251" stop-color="#00ff63"/><stop offset="0.366" stop-color="#00ff4c"/><stop offset="0.376" stop-color="#00ff2b"/><stop offset="0.386" stop-color="#04ff09"/><stop offset="0.405" stop-color="#5bff00"/><stop offset="0.445" stop-color="#f5ff00"/><stop offset="0.455" stop-color="#fee900"/><stop offset="0.490" stop-color="#ff6400"/><stop offset="0.500" stop-color="#ff5400"/><stop offset="0.600" stop-color="#fc0000"/><stop offset="0.629" stop-color="#f00000"/><stop offset="0.803" stop-color="#f70000"/><stop offset="0.863" stop-color="#ff0000"/><stop offset="0.873" stop-color="#ff1b00"/><stop offset="0.913" stop-color="#ffb400"/><stop offset="0.933" stop-color="#fdf500"/><stop offset="0.938" stop-color="#f8ff00"/><stop offset="0.968" stop-color="#88ff00"/><stop offset="0.993" stop-color="#15ff06"/><stop offset="0.998" stop-color="#00ff0c"/></linearGradient><linearGradient id="g112"><stop offset="0.002" stop-color="#00ff60"/><stop offset="0.067" stop-color="#00ff66"/><stop offset="0.122" stop-color="#00ff84"/><stop offset="0.167" stop-color="#00ffdd"/><stop offset="0.187" stop-color="#00fefa"/><stop offset="0.221" stop-color="#00d5ff"/><stop offset="0.246" stop-color="#00b2ff"/><stop offset="0.366" stop-color="#00eaff"/><stop offset="0.371" stop-color="#00f4fd"/><stop offset="0.376" stop-color="#00ffef"/><stop offset="0.391" stop-color="#00ff9a"/><stop offset="0.410" stop-color="#00ff1d"/><stop offset="0.415" stop-color="#08ff08"/><stop offset="0.440" stop-color="#9dff00"/><stop offset="0.460" stop-color="#fcfe00"/><stop offset="0.480" stop-color="#ffaa00"/><stop offset="0.490" stop-color="#ff7b00"/><stop offset="0.495" stop-color="#ff6c00"/><stop offset="0.604" stop-color="#fb0000"/><stop offset="0.629" stop-color="#f00000"/><stop offset="0.774" stop-color="#f60000"/><stop offset="0.863" stop-color="#ff0800"/><stop offset="0.873" stop-color="#ff2300"/><stop offset="0.908" stop-color="#ffa900"/><stop offset="0.933" stop-color="#fdf900"/><stop offset="0.943" stop-color="#e4ff00"/><stop offset="0.978" stop-color="#5aff00"/><stop offset="0.993" stop-color="#15ff06"/><stop offset="0.998" stop-color="#00ff0c"/></linearGradient><linearGradient id="g113"><stop offset="0.002" stop-color="#00ffb9"/><stop offset="0.057" stop-color="#00ffbc"/><stop offset="0.117" stop-color="#00fcfb"/><stop offset="0.157" stop-color="#00d0ff"/><stop offset="0.241" stop-color="#004dff"/><stop offset="0.366" stop-color="#0049ff"/><stop offset="0.371" stop-color="#0057ff"/><stop offset="0.391" stop-color="#00e0ff"/><stop offset="0.396" stop-color="#00f8fc"/><stop offset="0.405" stop-color="#00ffce"/><stop offset="0.430" stop-color="#00ff25"/><stop offset="0.435" stop-color="#00ff0a"/><stop offset="0.455" stop-color="#83ff00"/><stop offset="0.475" stop-color="#eeff00"/><stop offset="0.480" stop-color="#fdf800"/><stop offset="0.495" stop-color="#ffbc00"/><stop offset="0.580" stop-color="#ff3600"/><stop offset="0.614" stop-color="#fe0000"/><stop offset="0.754" stop-color="#f30000"/><stop offset="0.828" stop-color="#ff0700"/><stop offset="0.863" stop-color="#ff1100"/><stop offset="0.868" stop-color="#ff1b00"/><stop offset="0.903" stop-color="#ffac00"/><stop offset="0.923" stop-color="#fdf300"/><stop offset="0.928" stop-color="#faff00"/><stop offset="0.953" stop-color="#98ff00"/><stop offset="0.978" stop-color="#20ff03"/><stop offset="0.983" stop-color="#06ff09"/><stop offset="0.998" stop-color="#00ff48"/></linearGradient><linearGradient id="g114"><stop offset="0.002" stop-color="#00ffc8"/><stop offset="0.057" stop-color="#00ffcb"/><stop offset="0.097" stop-color="#00fafb"/><stop offset="0.127" stop-color="#00d3ff"/><stop offset="0.211" stop-color="#0037ff"/><stop offset="0.246" stop-color="#000cff"/><stop offset="0.366" stop-color="#001cff"/><stop offset="0.376" stop-color="#0035ff"/><stop offset="0.396" stop-color="#008dff"/><stop offset="0.415" stop-color="#00edff"/><stop offset="0.420" stop-color="#00fbfb"/><stop offset="0.445" stop-color="#00ffa5"/><stop offset="0.480" stop-color="#00ff1e"/><stop offset="0.485" stop-color="#00ff0e"/><stop offset="0.500" stop-color="#39ff00"/><stop offset="0.535" stop-color="#c4ff00"/><stop offset="0.550" stop-color="#f5ff00"/><stop offset="0.565" stop-color="#ffde00"/><stop offset="0.609" stop-color="#ff4200"/><stop offset="0.619" stop-color="#ff2400"/><stop offset="0.744" stop-color="#ff1900"/><stop offset="0.868" stop-color="#ff9f00"/><stop offset="0.898" stop-color="#fdf800"/><stop offset="0.908" stop-color="#e9ff00"/><stop offset="0.948" stop-color="#5aff00"/><stop offset="0.968" stop-color="#06ff09"/><stop offset="0.983" stop-color="#00ff3c"/><stop offset="0.998" stop-color="#00ff7e"/></linearGradient><linearGradient id="g115"><stop offset="0.002" stop-color="#00ffc8"/><stop offset="0.057" stop-color="#00ffcc"/><stop offset="0.082" stop-color="#00fff9"/><stop offset="0.107" stop-color="#00d8ff"/><stop offset="0.147" stop-color="#0096ff"/><stop offset="0.226" stop-color="#0034ff"/><stop offset="0.256" stop-color="#0022ff"/><stop offset="0.371" stop-color="#0011ff"/><stop offset="0.410" stop-color="#0064ff"/><stop offset="0.435" stop-color="#00afff"/><stop offset="0.460" stop-color="#00f5fc"/><stop offset="0.465" stop-color="#00fffa"/><stop offset="0.500" stop-color="#00ff99"/><stop offset="0.545" stop-color="#00ff1d"/><stop offset="0.555" stop-color="#03ff09"/><stop offset="0.595" stop-color="#5dff00"/><stop offset="0.669" stop-color="#eeff00"/><stop offset="0.684" stop-color="#fdf700"/><stop offset="0.739" stop-color="#ffa000"/><stop offset="0.754" stop-color="#ffa900"/><stop offset="0.833" stop-color="#fdf900"/><stop offset="0.863" stop-color="#e6ff00"/><stop offset="0.873" stop-color="#ccff00"/><stop offset="0.913" stop-color="#39ff00"/><stop offset="0.928" stop-color="#00ff0d"/><stop offset="0.953" stop-color="#00ff6f"/><stop offset="0.978" stop-color="#00ffd5"/><stop offset="0.988" stop-color="#00fff6"/><stop offset="0.998" stop-color="#00e9ff"/></linearGradient><linearGradient id="g116"><stop offset="0.002" stop-color="#00ffe5"/><stop offset="0.057" stop-color="#00ffe7"/><stop offset="0.087" stop-color="#00f9fb"/><stop offset="0.132" stop-color="#00dcff"/><stop offset="0.246" stop-color="#00baff"/><stop offset="0.326" stop-color="#0048ff"/><stop offset="0.371" stop-color="#001dff"/><stop offset="0.475" stop-color="#0076ff"/><stop offset="0.495" stop-color="#008fff"/><stop offset="0.535" stop-color="#00effe"/><stop offset="0.550" stop-color="#00fff3"/><stop offset="0.585" stop-color="#00ffa9"/><stop offset="0.619" stop-color="#00ff56"/><stop offset="0.739" stop-color="#00ff0b"/><stop offset="0.803" stop-color="#00ff4b"/><stop offset="0.883" stop-color="#00ffb2"/><stop offset="0.943" stop-color="#00fbfb"/><stop offset="0.983" stop-color="#00ccff"/><stop offset="0.998" stop-color="#00b5ff"/></linearGradient><linearGradient id="g117"><stop offset="0.002" stop-color="#00beff"/><stop offset="0.157" stop-color="#00c6ff"/><stop offset="0.246" stop-color="#00bcff"/><stop offset="0.371" stop-color="#0058ff"/><stop offset="0.495" stop-color="#0046ff"/><stop offset="0.634" stop-color="#00c9ff"/><stop offset="0.724" stop-color="#00f9fb"/><stop offset="0.754" stop-color="#00fcfb"/><stop offset="0.853" stop-color="#00d0ff"/><stop offset="0.998" stop-color="#0089ff"/></linearGradient><linearGradient id="g118"><stop offset="0.002" stop-color="#005eff"/><stop offset="0.256" stop-color="#0052ff"/><stop offset="0.371" stop-color="#007aff"/><stop offset="0.460" stop-color="#003eff"/><stop offset="0.495" stop-color="#002fff"/><stop offset="0.744" stop-color="#0094ff"/><stop offset="0.878" stop-color="#0056ff"/><stop offset="0.998" stop-color="#0044ff"/></linearGradient><linearGradient id="g119"><stop offset="0.002" stop-color="#003aff"/><stop offset="0.092" stop-color="#0031ff"/><stop offset="0.246" stop-color="#002fff"/><stop offset="0.371" stop-color="#007aff"/><stop offset="0.475" stop-color="#002cff"/><stop offset="0.505" stop-color="#0025ff"/><stop offset="0.639" stop-color="#0038ff"/><stop offset="0.903" stop-color="#0030ff"/><stop offset="0.998" stop-color="#0030ff"/></linearGradient><linearGradient id="g120"><stop offset="0.002" stop-color="#002eff"/><stop offset="0.092" stop-color="#0025ff"/><stop offset="0.182" stop-color="#0021ff"/><stop offset="0.261" stop-color="#0029ff"/><stop offset="0.371" stop-color="#0057ff"/><stop offset="0.500" stop-color="#0028ff"/><stop offset="0.684" stop-color="#0031ff"/><stop offset="0.998" stop-color="#0030ff"/></linearGradient><linearGradient id="g121"><stop offset="0.002" stop-color="#0020ff"/><stop offset="0.142" stop-color="#0019ff"/><stop offset="0.271" stop-color="#002eff"/><stop offset="0.376" stop-color="#0057ff"/><stop offset="0.580" stop-color="#004aff"/><stop offset="0.779" stop-color="#0030ff"/><stop offset="0.998" stop-color="#0030ff"/></linearGradient><linearGradient id="g122"><stop offset="0.002" stop-color="#0012ff"/><stop offset="0.127" stop-color="#000fff"/><stop offset="0.336" stop-color="#0075ff"/><stop offset="0.391" stop-color="#008dff"/><stop offset="0.445" stop-color="#0091ff"/><stop offset="0.565" stop-color="#0074ff"/><stop offset="0.629" stop-color="#0050ff"/><stop offset="0.784" stop-color="#003bff"/><stop offset="0.998" stop-color="#0036ff"/></linearGradient><linearGradient id="g123"><stop offset="0.002" stop-color="#0012ff"/><stop offset="0.127" stop-color="#000fff"/><stop offset="0.246" stop-color="#005bff"/><stop offset="0.361" stop-color="#00edff"/><stop offset="0.470" stop-color="#00fff4"/><stop offset="0.500" stop-color="#00fff3"/><stop offset="0.560" stop-color="#00e4ff"/><stop offset="0.624" stop-color="#00a7ff"/><stop offset="0.769" stop-color="#0075ff"/><stop offset="0.998" stop-color="#0052ff"/></linearGradient><linearGradient id="g124"><stop offset="0.002" stop-color="#0020ff"/><stop offset="0.122" stop-color="#0017ff"/><stop offset="0.206" stop-color="#005fff"/><stop offset="0.246" stop-color="#0090ff"/><stop offset="0.286" stop-color="#00edff"/><stop offset="0.306" stop-color="#00ffee"/><stop offset="0.341" stop-color="#00ffa6"/><stop offset="0.371" stop-color="#00ff60"/><stop offset="0.435" stop-color="#00ff0e"/><stop offset="0.490" stop-color="#45ff00"/><stop offset="0.500" stop-color="#36ff00"/><stop offset="0.525" stop-color="#00ff0f"/><stop offset="0.555" stop-color="#00ff54"/><stop offset="0.590" stop-color="#00ffd2"/><stop offset="0.604" stop-color="#00fefa"/><stop offset="0.619" stop-color="#00deff"/><stop offset="0.759" stop-color="#0091ff"/><stop offset="0.998" stop-color="#005dff"/></linearGradient><linearGradient id="g125"><stop offset="0.002" stop-color="#002eff"/><stop offset="0.092" stop-color="#0025ff"/><stop offset="0.122" stop-color="#0021ff"/><stop offset="0.182" stop-color="#0074ff"/><stop offset="0.241" stop-color="#00daff"/><stop offset="0.251" stop-color="#00f8fc"/><stop offset="0.261" stop-color="#00ffde"/><stop offset="0.301" stop-color="#00ff23"/><stop offset="0.306" stop-color="#00ff10"/><stop offset="0.321" stop-color="#40ff00"/><stop offset="0.356" stop-color="#d3ff00"/><stop offset="0.366" stop-color="#f4ff00"/><stop offset="0.376" stop-color="#fcfc00"/><stop offset="0.490" stop-color="#ffc100"/><stop offset="0.500" stop-color="#ffd600"/><stop offset="0.515" stop-color="#fcfc00"/><stop offset="0.535" stop-color="#c6ff00"/><stop offset="0.565" stop-color="#5bff00"/><stop offset="0.585" stop-color="#06ff09"/><stop offset="0.600" stop-color="#00ff3b"/><stop offset="0.614" stop-color="#00ff7e"/><stop offset="0.624" stop-color="#00ff92"/><stop offset="0.709" stop-color="#00fffa"/><stop offset="0.754" stop-color="#00d9ff"/><stop offset="0.928" stop-color="#0090ff"/><stop offset="0.998" stop-color="#007aff"/></linearGradient><linearGradient id="g126"><stop offset="0.002" stop-color="#0033ff"/><stop offset="0.087" stop-color="#002bff"/><stop offset="0.122" stop-color="#0026ff"/><stop offset="0.177" stop-color="#007cff"/><stop offset="0.236" stop-color="#00ebff"/><stop offset="0.246" stop-color="#00fcfb"/><stop offset="0.256" stop-color="#00ffcc"/><stop offset="0.286" stop-color="#00ff12"/><stop offset="0.296" stop-color="#35ff00"/><stop offset="0.321" stop-color="#c2ff00"/><stop offset="0.331" stop-color="#f0ff00"/><stop offset="0.336" stop-color="#fdf700"/><stop offset="0.366" stop-color="#ff7100"/><stop offset="0.371" stop-color="#ff6300"/><stop offset="0.490" stop-color="#ff3000"/><stop offset="0.495" stop-color="#ff3900"/><stop offset="0.545" stop-color="#ffde00"/><stop offset="0.555" stop-color="#fdfa00"/><stop offset="0.565" stop-color="#d9ff00"/><stop offset="0.590" stop-color="#54ff00"/><stop offset="0.600" stop-color="#17ff05"/><stop offset="0.604" stop-color="#00ff10"/><stop offset="0.614" stop-color="#00ff48"/><stop offset="0.619" stop-color="#00ff5b"/><stop offset="0.704" stop-color="#00ffd8"/><stop offset="0.739" stop-color="#00fbfb"/><stop offset="0.978" stop-color="#0091ff"/><stop offset="0.998" stop-color="#0089ff"/></linearGradient><linearGradient id="g127"><stop offset="0.002" stop-color="#0044ff"/><stop offset="0.097" stop-color="#003bff"/><stop offset="0.122" stop-color="#003bff"/><stop offset="0.172" stop-color="#00a8ff"/><stop offset="0.206" stop-color="#00f1fd"/><stop offset="0.221" stop-color="#00fff2"/><stop offset="0.241" stop-color="#00ffce"/><stop offset="0.246" stop-color="#00ffba"/><stop offset="0.271" stop-color="#00ff1d"/><stop offset="0.276" stop-color="#08ff08"/><stop offset="0.301" stop-color="#9cff00"/><stop offset="0.321" stop-color="#fcff00"/><stop offset="0.341" stop-color="#ffab00"/><stop offset="0.366" stop-color="#ff2c00"/><stop offset="0.371" stop-color="#ff1e00"/><stop offset="0.490" stop-color="#fe0000"/><stop offset="0.500" stop-color="#ff1100"/><stop offset="0.550" stop-color="#ff9700"/><stop offset="0.560" stop-color="#ffc600"/><stop offset="0.570" stop-color="#fdf700"/><stop offset="0.575" stop-color="#edff00"/><stop offset="0.595" stop-color="#74ff00"/><stop offset="0.609" stop-color="#07ff08"/><stop offset="0.619" stop-color="#00ff38"/><stop offset="0.684" stop-color="#00ffd9"/><stop offset="0.704" stop-color="#00fafb"/><stop offset="0.729" stop-color="#00caff"/><stop offset="0.744" stop-color="#00a9ff"/><stop offset="0.918" stop-color="#007cff"/><stop offset="0.998" stop-color="#006fff"/></linearGradient><linearGradient id="g128"><stop offset="0.002" stop-color="#0055ff"/><stop offset="0.082" stop-color="#004eff"/><stop offset="0.117" stop-color="#0045ff"/><stop offset="0.132" stop-color="#005fff"/><stop offset="0.187" stop-color="#00ebff"/><stop offset="0.201" stop-color="#00fff7"/><stop offset="0.236" stop-color="#00ffaa"/><stop offset="0.246" stop-color="#00ff86"/><stop offset="0.266" stop-color="#00ff10"/><stop offset="0.276" stop-color="#36ff00"/><stop offset="0.301" stop-color="#c0ff00"/><stop offset="0.311" stop-color="#eeff00"/><stop offset="0.316" stop-color="#fdfa00"/><stop offset="0.346" stop-color="#ff7800"/><stop offset="0.366" stop-color="#ff1100"/><stop offset="0.371" stop-color="#ff0500"/><stop offset="0.490" stop-color="#f50000"/><stop offset="0.495" stop-color="#fb0000"/><stop offset="0.515" stop-color="#ff3c00"/><stop offset="0.550" stop-color="#ffac00"/><stop offset="0.565" stop-color="#fbff00"/><stop offset="0.575" stop-color="#b7ff00"/><stop offset="0.590" stop-color="#3bff00"/><stop offset="0.595" stop-color="#0dff07"/><stop offset="0.600" stop-color="#00ff25"/><stop offset="0.614" stop-color="#00ffb0"/><stop offset="0.619" stop-color="#00ffcc"/><stop offset="0.649" stop-color="#00fffa"/><stop offset="0.684" stop-color="#00cbff"/><stop offset="0.744" stop-color="#0058ff"/><stop offset="0.998" stop-color="#0058ff"/></linearGradient><linearGradient id="g129"><stop offset="0.002" stop-color="#005aff"/><stop offset="0.062" stop-color="#005eff"/><stop offset="0.122" stop-color="#0081ff"/><stop offset="0.177" stop-color="#00e8ff"/><stop offset="0.201" stop-color="#00fff3"/><stop offset="0.241" stop-color="#00ffb4"/><stop offset="0.246" stop-color="#00ff9f"/><stop offset="0.266" stop-color="#00ff25"/><stop offset="0.271" stop-color="#00ff0b"/><stop offset="0.286" stop-color="#59ff00"/><stop offset="0.311" stop-color="#dcff00"/><stop offset="0.321" stop-color="#fdf800"/><stop offset="0.351" stop-color="#ff7600"/><stop offset="0.366" stop-color="#ff2700"/><stop offset="0.371" stop-color="#ff1a00"/><stop offset="0.460" stop-color="#fa0000"/><stop offset="0.490" stop-color="#f00000"/><stop offset="0.500" stop-color="#ff0800"/><stop offset="0.550" stop-color="#ffc100"/><stop offset="0.560" stop-color="#fdfa00"/><stop offset="0.565" stop-color="#e0ff00"/><stop offset="0.580" stop-color="#61ff00"/><stop offset="0.585" stop-color="#30ff00"/><stop offset="0.590" stop-color="#00ff0c"/><stop offset="0.600" stop-color="#00ff6a"/><stop offset="0.609" stop-color="#00ffcf"/><stop offset="0.614" stop-color="#00fff7"/><stop offset="0.619" stop-color="#00f0fe"/><stop offset="0.679" stop-color="#00a0ff"/><stop offset="0.739" stop-color="#0047ff"/><stop offset="0.998" stop-color="#0044ff"/></linearGradient><linearGradient id="g130"><stop offset="0.002" stop-color="#0064ff"/><stop offset="0.057" stop-color="#0067ff"/><stop offset="0.142" stop-color="#00d6ff"/><stop offset="0.192" stop-color="#00fff8"/><stop offset="0.241" stop-color="#00ffca"/><stop offset="0.246" stop-color="#00ffba"/><stop offset="0.276" stop-color="#00ff18"/><stop offset="0.281" stop-color="#0aff08"/><stop offset="0.306" stop-color="#8cff00"/><stop offset="0.331" stop-color="#f6ff00"/><stop offset="0.341" stop-color="#ffe600"/><stop offset="0.366" stop-color="#ff8200"/><stop offset="0.371" stop-color="#ff7800"/><stop offset="0.490" stop-color="#ff8e00"/><stop offset="0.495" stop-color="#ff9a00"/><stop offset="0.515" stop-color="#fdf300"/><stop offset="0.520" stop-color="#f6ff00"/><stop offset="0.545" stop-color="#79ff00"/><stop offset="0.560" stop-color="#17ff05"/><stop offset="0.565" stop-color="#00ff14"/><stop offset="0.580" stop-color="#00ff7b"/><stop offset="0.590" stop-color="#00ffc5"/><stop offset="0.600" stop-color="#00fcfb"/><stop offset="0.609" stop-color="#00c3ff"/><stop offset="0.614" stop-color="#009cff"/><stop offset="0.619" stop-color="#0086ff"/><stop offset="0.744" stop-color="#0030ff"/><stop offset="0.998" stop-color="#0030ff"/></linearGradient><linearGradient id="g131"><stop offset="0.002" stop-color="#006eff"/><stop offset="0.122" stop-color="#0072ff"/><stop offset="0.187" stop-color="#00a9ff"/><stop offset="0.251" stop-color="#00fafb"/><stop offset="0.271" stop-color="#00ffcd"/><stop offset="0.326" stop-color="#00ff1a"/><stop offset="0.331" stop-color="#00ff0c"/><stop offset="0.356" stop-color="#4fff00"/><stop offset="0.371" stop-color="#78ff00"/><stop offset="0.490" stop-color="#daff00"/><stop offset="0.495" stop-color="#d1ff00"/><stop offset="0.525" stop-color="#40ff00"/><stop offset="0.535" stop-color="#0aff08"/><stop offset="0.540" stop-color="#00ff18"/><stop offset="0.575" stop-color="#00ffd4"/><stop offset="0.585" stop-color="#00fbfb"/><stop offset="0.595" stop-color="#00d1ff"/><stop offset="0.614" stop-color="#0060ff"/><stop offset="0.619" stop-color="#0053ff"/><stop offset="0.699" stop-color="#005eff"/><stop offset="0.913" stop-color="#0047ff"/><stop offset="0.998" stop-color="#0047ff"/></linearGradient><linearGradient id="g132"><stop offset="0.002" stop-color="#007bff"/><stop offset="0.062" stop-color="#0076ff"/><stop offset="0.122" stop-color="#0056ff"/><stop offset="0.241" stop-color="#0087ff"/><stop offset="0.291" stop-color="#00f3fd"/><stop offset="0.306" stop-color="#00ffee"/><stop offset="0.341" stop-color="#00ffa6"/><stop offset="0.366" stop-color="#00ff6a"/><stop offset="0.376" stop-color="#00ff6a"/><stop offset="0.495" stop-color="#00ffcd"/><stop offset="0.520" stop-color="#00fdfb"/><stop offset="0.545" stop-color="#00cfff"/><stop offset="0.604" stop-color="#0052ff"/><stop offset="0.619" stop-color="#003fff"/><stop offset="0.679" stop-color="#005cff"/><stop offset="0.744" stop-color="#00aeff"/><stop offset="0.878" stop-color="#0080ff"/><stop offset="0.998" stop-color="#0080ff"/></linearGradient><linearGradient id="g133"><stop offset="0.002" stop-color="#00b2ff"/><stop offset="0.057" stop-color="#00aeff"/><stop offset="0.117" stop-color="#004aff"/><stop offset="0.251" stop-color="#0048ff"/><stop offset="0.376" stop-color="#0088ff"/><stop offset="0.495" stop-color="#0080ff"/><stop offset="0.595" stop-color="#0031ff"/><stop offset="0.624" stop-color="#0027ff"/><stop offset="0.679" stop-color="#003cff"/><stop offset="0.724" stop-color="#00a6ff"/><stop offset="0.739" stop-color="#00ccff"/><stop offset="0.764" stop-color="#00cdff"/><stop offset="0.893" stop-color="#00b6ff"/><stop offset="0.998" stop-color="#00b6ff"/></linearGradient><linearGradient id="g134"><stop offset="0.002" stop-color="#00d2ff"/><stop offset="0.057" stop-color="#00ceff"/><stop offset="0.122" stop-color="#0058ff"/><stop offset="0.256" stop-color="#0033ff"/><stop offset="0.386" stop-color="#0041ff"/><stop offset="0.624" stop-color="#0025ff"/><stop offset="0.674" stop-color="#003bff"/><stop offset="0.684" stop-color="#0054ff"/><stop offset="0.719" stop-color="#00dfff"/><stop offset="0.729" stop-color="#00fbfb"/><stop offset="0.744" stop-color="#00ffda"/><stop offset="0.808" stop-color="#00fafb"/><stop offset="0.878" stop-color="#00dcff"/><stop offset="0.998" stop-color="#00dcff"/></linearGradient><linearGradient id="g135"><stop offset="0.002" stop-color="#00ffd9"/><stop offset="0.057" stop-color="#00ffdc"/><stop offset="0.087" stop-color="#00fafb"/><stop offset="0.137" stop-color="#00c8ff"/><stop offset="0.182" stop-color="#00a3ff"/><stop offset="0.241" stop-color="#003eff"/><stop offset="0.376" stop-color="#0048ff"/><stop offset="0.500" stop-color="#0022ff"/><stop offset="0.619" stop-color="#0033ff"/><stop offset="0.674" stop-color="#0077ff"/><stop offset="0.689" stop-color="#00a8ff"/><stop offset="0.709" stop-color="#00ebff"/><stop offset="0.719" stop-color="#00fffa"/><stop offset="0.744" stop-color="#00ffb9"/><stop offset="0.893" stop-color="#00ff9e"/><stop offset="0.998" stop-color="#00ff9e"/></linearGradient><linearGradient id="g136"><stop offset="0.002" stop-color="#00ffb2"/><stop offset="0.057" stop-color="#00ffb6"/><stop offset="0.117" stop-color="#00fbfb"/><stop offset="0.177" stop-color="#00c7ff"/><stop offset="0.241" stop-color="#0047ff"/><stop offset="0.376" stop-color="#0053ff"/><stop offset="0.500" stop-color="#0029ff"/><stop offset="0.619" stop-color="#0045ff"/><stop offset="0.674" stop-color="#009fff"/><stop offset="0.699" stop-color="#00f4fd"/><stop offset="0.704" stop-color="#00fffa"/><stop offset="0.729" stop-color="#00ffa5"/><stop offset="0.739" stop-color="#00ff7d"/><stop offset="0.749" stop-color="#00ff72"/><stop offset="0.933" stop-color="#00ff64"/><stop offset="0.998" stop-color="#00ff64"/></linearGradient><linearGradient id="g137"><stop offset="0.002" stop-color="#00ff48"/><stop offset="0.057" stop-color="#00ff4a"/><stop offset="0.122" stop-color="#00ff8f"/><stop offset="0.152" stop-color="#00ffdb"/><stop offset="0.167" stop-color="#00fefa"/><stop offset="0.192" stop-color="#00cdff"/><stop offset="0.241" stop-color="#004bff"/><stop offset="0.276" stop-color="#004bff"/><stop offset="0.376" stop-color="#0057ff"/><stop offset="0.500" stop-color="#0031ff"/><stop offset="0.614" stop-color="#0052ff"/><stop offset="0.624" stop-color="#006aff"/><stop offset="0.659" stop-color="#00e1ff"/><stop offset="0.674" stop-color="#00fff6"/><stop offset="0.729" stop-color="#00ff8d"/><stop offset="0.744" stop-color="#00ff71"/><stop offset="0.868" stop-color="#00ff1e"/><stop offset="0.998" stop-color="#00ff1e"/></linearGradient><linearGradient id="g138"><stop offset="0.002" stop-color="#00ff31"/><stop offset="0.117" stop-color="#00ff32"/><stop offset="0.127" stop-color="#00ff4c"/><stop offset="0.167" stop-color="#00ffd2"/><stop offset="0.182" stop-color="#00fffa"/><stop offset="0.201" stop-color="#00d2ff"/><stop offset="0.241" stop-color="#0054ff"/><stop offset="0.256" stop-color="#0050ff"/><stop offset="0.376" stop-color="#0061ff"/><stop offset="0.495" stop-color="#0037ff"/><stop offset="0.585" stop-color="#0086ff"/><stop offset="0.619" stop-color="#00b2ff"/><stop offset="0.644" stop-color="#00effe"/><stop offset="0.654" stop-color="#00fffa"/><stop offset="0.679" stop-color="#00ffca"/><stop offset="0.749" stop-color="#00ffb3"/><stop offset="0.868" stop-color="#00ff58"/><stop offset="0.998" stop-color="#00ff58"/></linearGradient><linearGradient id="g139"><stop offset="0.002" stop-color="#00ff27"/><stop offset="0.117" stop-color="#00ff2b"/><stop offset="0.122" stop-color="#00ff32"/><stop offset="0.172" stop-color="#00ffd9"/><stop offset="0.187" stop-color="#00fcfb"/><stop offset="0.206" stop-color="#00ccff"/><stop offset="0.241" stop-color="#005eff"/><stop offset="0.251" stop-color="#0058ff"/><stop offset="0.386" stop-color="#006dff"/><stop offset="0.495" stop-color="#005aff"/><stop offset="0.570" stop-color="#00a3ff"/><stop offset="0.619" stop-color="#00e1ff"/><stop offset="0.634" stop-color="#00fff3"/><stop offset="0.654" stop-color="#00ffb5"/><stop offset="0.674" stop-color="#00ff6a"/><stop offset="0.679" stop-color="#00ff66"/><stop offset="0.739" stop-color="#00ffd5"/><stop offset="0.813" stop-color="#00ffb4"/><stop offset="0.873" stop-color="#00ff96"/><stop offset="0.998" stop-color="#00ff96"/></linearGradient><linearGradient id="g140"><stop offset="0.002" stop-color="#00ff19"/><stop offset="0.117" stop-color="#00ff1c"/><stop offset="0.127" stop-color="#00ff31"/><stop offset="0.177" stop-color="#00ffd9"/><stop offset="0.192" stop-color="#00fbfb"/><stop offset="0.211" stop-color="#00c8ff"/><stop offset="0.241" stop-color="#0063ff"/><stop offset="0.251" stop-color="#005dff"/><stop offset="0.490" stop-color="#0081ff"/><stop offset="0.555" stop-color="#00eefe"/><stop offset="0.575" stop-color="#00fff5"/><stop offset="0.674" stop-color="#00ff5d"/><stop offset="0.679" stop-color="#00ff63"/><stop offset="0.714" stop-color="#00ffdd"/><stop offset="0.724" stop-color="#00fff9"/><stop offset="0.744" stop-color="#00d3ff"/><stop offset="0.858" stop-color="#00fefa"/><stop offset="0.998" stop-color="#00fff8"/></linearGradient><linearGradient id="g141"><stop offset="0.002" stop-color="#00ff0d"/><stop offset="0.117" stop-color="#00ff0e"/><stop offset="0.132" stop-color="#00ff30"/><stop offset="0.182" stop-color="#00ffd6"/><stop offset="0.197" stop-color="#00fdfa"/><stop offset="0.211" stop-color="#00daff"/><stop offset="0.241" stop-color="#0075ff"/><stop offset="0.251" stop-color="#006cff"/><stop offset="0.386" stop-color="#006dff"/><stop offset="0.495" stop-color="#008cff"/><stop offset="0.540" stop-color="#00ebff"/><stop offset="0.560" stop-color="#00fff3"/><stop offset="0.600" stop-color="#00ffaa"/><stop offset="0.619" stop-color="#00ff85"/><stop offset="0.674" stop-color="#00ff9f"/><stop offset="0.714" stop-color="#00fbfb"/><stop offset="0.734" stop-color="#00cfff"/><stop offset="0.744" stop-color="#00baff"/><stop offset="0.898" stop-color="#00a3ff"/><stop offset="0.998" stop-color="#00a3ff"/></linearGradient><linearGradient id="g142"><stop offset="0.002" stop-color="#00ff0a"/><stop offset="0.117" stop-color="#00ff0a"/><stop offset="0.132" stop-color="#00ff2c"/><stop offset="0.187" stop-color="#00ffdc"/><stop offset="0.197" stop-color="#00fff7"/><stop offset="0.211" stop-color="#00dfff"/><stop offset="0.241" stop-color="#0077ff"/><stop offset="0.251" stop-color="#006dff"/><stop offset="0.381" stop-color="#0063ff"/><stop offset="0.490" stop-color="#007bff"/><stop offset="0.500" stop-color="#0092ff"/><stop offset="0.530" stop-color="#00e8ff"/><stop offset="0.545" stop-color="#00fff5"/><stop offset="0.575" stop-color="#00ffaa"/><stop offset="0.614" stop-color="#00ff33"/><stop offset="0.619" stop-color="#00ff32"/><stop offset="0.689" stop-color="#00ffe0"/><stop offset="0.704" stop-color="#00fbfb"/><stop offset="0.724" stop-color="#00d3ff"/><stop offset="0.744" stop-color="#00a2ff"/><stop offset="0.873" stop-color="#006aff"/><stop offset="0.998" stop-color="#006aff"/></linearGradient><linearGradient id="g143"><stop offset="0.002" stop-color="#00ff14"/><stop offset="0.117" stop-color="#00ff14"/><stop offset="0.132" stop-color="#00ff36"/><stop offset="0.182" stop-color="#00ffd9"/><stop offset="0.197" stop-color="#00fafb"/><stop offset="0.216" stop-color="#00c4ff"/><stop offset="0.241" stop-color="#006cff"/><stop offset="0.251" stop-color="#0063ff"/><stop offset="0.386" stop-color="#005cff"/><stop offset="0.490" stop-color="#0071ff"/><stop offset="0.500" stop-color="#0089ff"/><stop offset="0.530" stop-color="#00e8ff"/><stop offset="0.545" stop-color="#00fff3"/><stop offset="0.575" stop-color="#00ffa0"/><stop offset="0.614" stop-color="#00ff24"/><stop offset="0.619" stop-color="#00ff28"/><stop offset="0.654" stop-color="#00ffd0"/><stop offset="0.664" stop-color="#00fff6"/><stop offset="0.679" stop-color="#00d4ff"/><stop offset="0.749" stop-color="#0088ff"/><stop offset="0.873" stop-color="#0055ff"/><stop offset="0.998" stop-color="#0055ff"/></linearGradient><linearGradient id="g144"><stop offset="0.002" stop-color="#00ff24"/><stop offset="0.117" stop-color="#00ff24"/><stop offset="0.127" stop-color="#00ff3b"/><stop offset="0.172" stop-color="#00ffd7"/><stop offset="0.187" stop-color="#00fdfb"/><stop offset="0.201" stop-color="#00ddff"/><stop offset="0.241" stop-color="#0061ff"/><stop offset="0.256" stop-color="#0059ff"/><stop offset="0.405" stop-color="#005eff"/><stop offset="0.490" stop-color="#006cff"/><stop offset="0.500" stop-color="#0084ff"/><stop offset="0.530" stop-color="#00e4ff"/><stop offset="0.545" stop-color="#00fff6"/><stop offset="0.575" stop-color="#00ffa3"/><stop offset="0.614" stop-color="#00ff24"/><stop offset="0.619" stop-color="#00ff2a"/><stop offset="0.644" stop-color="#00ffc5"/><stop offset="0.654" stop-color="#00fff6"/><stop offset="0.659" stop-color="#00f0fe"/><stop offset="0.674" stop-color="#0099ff"/><stop offset="0.679" stop-color="#0088ff"/><stop offset="0.759" stop-color="#0075ff"/><stop offset="0.873" stop-color="#0044ff"/><stop offset="0.998" stop-color="#0044ff"/></linearGradient><linearGradient id="g145"><stop offset="0.002" stop-color="#00ff30"/><stop offset="0.117" stop-color="#00ff30"/><stop offset="0.127" stop-color="#00ff4c"/><stop offset="0.167" stop-color="#00ffdb"/><stop offset="0.177" stop-color="#00fff8"/><stop offset="0.201" stop-color="#00cdff"/><stop offset="0.241" stop-color="#005dff"/><stop offset="0.261" stop-color="#0056ff"/><stop offset="0.490" stop-color="#0058ff"/><stop offset="0.500" stop-color="#0070ff"/><stop offset="0.535" stop-color="#00e2ff"/><stop offset="0.550" stop-color="#00fff7"/><stop offset="0.580" stop-color="#00ffa6"/><stop offset="0.614" stop-color="#00ff37"/><stop offset="0.619" stop-color="#00ff3f"/><stop offset="0.644" stop-color="#00ffdc"/><stop offset="0.649" stop-color="#00fff5"/><stop offset="0.654" stop-color="#00f0fe"/><stop offset="0.669" stop-color="#0094ff"/><stop offset="0.674" stop-color="#0074ff"/><stop offset="0.679" stop-color="#0063ff"/><stop offset="0.818" stop-color="#003dff"/><stop offset="0.918" stop-color="#0033ff"/><stop offset="0.998" stop-color="#0033ff"/></linearGradient><linearGradient id="g146"><stop offset="0.002" stop-color="#00ff4f"/><stop offset="0.117" stop-color="#00ff4f"/><stop offset="0.127" stop-color="#00ff69"/><stop offset="0.162" stop-color="#00ffdc"/><stop offset="0.172" stop-color="#00fff7"/><stop offset="0.197" stop-color="#00ccff"/><stop offset="0.241" stop-color="#0051ff"/><stop offset="0.291" stop-color="#004dff"/><stop offset="0.490" stop-color="#0047ff"/><stop offset="0.510" stop-color="#006eff"/><stop offset="0.560" stop-color="#00ecff"/><stop offset="0.575" stop-color="#00fff7"/><stop offset="0.609" stop-color="#00ffac"/><stop offset="0.614" stop-color="#00ff9f"/><stop offset="0.619" stop-color="#00ffa6"/><stop offset="0.634" stop-color="#00ffec"/><stop offset="0.639" stop-color="#00fafb"/><stop offset="0.649" stop-color="#00d2ff"/><stop offset="0.674" stop-color="#004fff"/><stop offset="0.679" stop-color="#0044ff"/><stop offset="0.828" stop-color="#0035ff"/><stop offset="0.998" stop-color="#002fff"/></linearGradient><linearGradient id="g147"><stop offset="0.002" stop-color="#00ffd8"/><stop offset="0.122" stop-color="#00ffdc"/><stop offset="0.142" stop-color="#00fafb"/><stop offset="0.172" stop-color="#00c3ff"/><stop offset="0.226" stop-color="#0057ff"/><stop offset="0.246" stop-color="#003dff"/><stop offset="0.425" stop-color="#0046ff"/><stop offset="0.495" stop-color="#0047ff"/><stop offset="0.575" stop-color="#00ebff"/><stop offset="0.595" stop-color="#00fff3"/><stop offset="0.614" stop-color="#00ffd2"/><stop offset="0.619" stop-color="#00ffd6"/><stop offset="0.629" stop-color="#00fff7"/><stop offset="0.644" stop-color="#00d4ff"/><stop offset="0.674" stop-color="#0054ff"/><stop offset="0.684" stop-color="#0049ff"/><stop offset="0.868" stop-color="#0028ff"/><stop offset="0.998" stop-color="#0028ff"/></linearGradient><linearGradient id="g148"><stop offset="0.002" stop-color="#00f7fc"/><stop offset="0.122" stop-color="#00f3fd"/><stop offset="0.157" stop-color="#009fff"/><stop offset="0.182" stop-color="#0061ff"/><stop offset="0.246" stop-color="#0032ff"/><stop offset="0.391" stop-color="#0042ff"/><stop offset="0.495" stop-color="#003cff"/><stop offset="0.595" stop-color="#0093ff"/><stop offset="0.614" stop-color="#00a9ff"/><stop offset="0.634" stop-color="#0091ff"/><stop offset="0.684" stop-color="#0053ff"/><stop offset="0.754" stop-color="#002fff"/><stop offset="0.923" stop-color="#0021ff"/><stop offset="0.998" stop-color="#0021ff"/></linearGradient><linearGradient id="g149"><stop offset="0.002" stop-color="#0074ff"/><stop offset="0.127" stop-color="#0070ff"/><stop offset="0.251" stop-color="#0031ff"/><stop offset="0.386" stop-color="#0043ff"/><stop offset="0.500" stop-color="#0035ff"/><stop offset="0.609" stop-color="#0078ff"/><stop offset="0.624" stop-color="#0078ff"/><stop offset="0.749" stop-color="#0030ff"/><stop offset="0.923" stop-color="#0021ff"/><stop offset="0.998" stop-color="#0021ff"/></linearGradient><linearGradient id="g150"><stop offset="0.002" stop-color="#0057ff"/><stop offset="0.152" stop-color="#0051ff"/><stop offset="0.251" stop-color="#0032ff"/><stop offset="0.381" stop-color="#0049ff"/><stop offset="0.500" stop-color="#0037ff"/><stop offset="0.614" stop-color="#004dff"/><stop offset="0.898" stop-color="#0027ff"/><stop offset="0.998" stop-color="#0027ff"/></linearGradient><linearGradient id="g151"><stop offset="0.002" stop-color="#0052ff"/><stop offset="0.137" stop-color="#004dff"/><stop offset="0.251" stop-color="#0032ff"/><stop offset="0.396" stop-color="#0057ff"/><stop offset="0.515" stop-color="#0053ff"/><stop offset="0.659" stop-color="#0043ff"/><stop offset="0.789" stop-color="#003cff"/><stop offset="0.918" stop-color="#0030ff"/><stop offset="0.998" stop-color="#0030ff"/></linearGradient><linearGradient id="g152"><stop offset="0.002" stop-color="#004aff"/><stop offset="0.162" stop-color="#0044ff"/><stop offset="0.251" stop-color="#0035ff"/><stop offset="0.495" stop-color="#0080ff"/><stop offset="0.624" stop-color="#004eff"/><stop offset="0.779" stop-color="#004aff"/><stop offset="0.913" stop-color="#003cff"/><stop offset="0.998" stop-color="#003cff"/></linearGradient><linearGradient id="g153"><stop offset="0.002" stop-color="#0045ff"/><stop offset="0.256" stop-color="#0048ff"/><stop offset="0.386" stop-color="#0072ff"/><stop offset="0.500" stop-color="#0081ff"/><stop offset="0.629" stop-color="#0057ff"/><stop offset="0.784" stop-color="#0050ff"/><stop offset="0.918" stop-color="#0043ff"/><stop offset="0.998" stop-color="#0043ff"/></linearGradient><linearGradient id="g154"><stop offset="0.002" stop-color="#0045ff"/><stop offset="0.182" stop-color="#004dff"/><stop offset="0.261" stop-color="#005eff"/><stop offset="0.371" stop-color="#009aff"/><stop offset="0.515" stop-color="#0072ff"/><stop offset="0.908" stop-color="#0044ff"/><stop offset="0.998" stop-color="#0044ff"/></linearGradient><linearGradient id="g155"><stop offset="0.002" stop-color="#004eff"/><stop offset="0.201" stop-color="#0057ff"/><stop offset="0.256" stop-color="#0064ff"/><stop offset="0.371" stop-color="#00acff"/><stop offset="0.495" stop-color="#006dff"/><stop offset="0.604" stop-color="#0091ff"/><stop offset="0.624" stop-color="#0093ff"/><stop offset="0.754" stop-color="#0052ff"/><stop offset="0.908" stop-color="#0040ff"/><stop offset="0.998" stop-color="#0040ff"/></linearGradient><linearGradient id="g156"><stop offset="0.002" stop-color="#0057ff"/><stop offset="0.137" stop-color="#005cff"/><stop offset="0.251" stop-color="#007eff"/><stop offset="0.366" stop-color="#00e0ff"/><stop offset="0.425" stop-color="#00a1ff"/><stop offset="0.495" stop-color="#0059ff"/><stop offset="0.619" stop-color="#009cff"/><stop offset="0.749" stop-color="#004dff"/><stop offset="0.908" stop-color="#003aff"/><stop offset="0.998" stop-color="#003aff"/></linearGradient><linearGradient id="g157"><stop offset="0.002" stop-color="#005cff"/><stop offset="0.132" stop-color="#0060ff"/><stop offset="0.251" stop-color="#0090ff"/><stop offset="0.346" stop-color="#00ecff"/><stop offset="0.371" stop-color="#00f7fc"/><stop offset="0.415" stop-color="#00beff"/><stop offset="0.490" stop-color="#004aff"/><stop offset="0.580" stop-color="#0069ff"/><stop offset="0.619" stop-color="#007bff"/><stop offset="0.764" stop-color="#0045ff"/><stop offset="0.908" stop-color="#0034ff"/><stop offset="0.998" stop-color="#0034ff"/></linearGradient><linearGradient id="g158"><stop offset="0.002" stop-color="#006cff"/><stop offset="0.137" stop-color="#0072ff"/><stop offset="0.246" stop-color="#0094ff"/><stop offset="0.341" stop-color="#00effe"/><stop offset="0.371" stop-color="#00fcfb"/><stop offset="0.410" stop-color="#00c9ff"/><stop offset="0.490" stop-color="#0049ff"/><stop offset="0.629" stop-color="#005aff"/><stop offset="0.898" stop-color="#0030ff"/><stop offset="0.998" stop-color="#0030ff"/></linearGradient><linearGradient id="g159"><stop offset="0.002" stop-color="#006aff"/><stop offset="0.132" stop-color="#006eff"/><stop offset="0.241" stop-color="#009fff"/><stop offset="0.336" stop-color="#00f4fd"/><stop offset="0.371" stop-color="#00fff3"/><stop offset="0.405" stop-color="#00deff"/><stop offset="0.490" stop-color="#0051ff"/><stop offset="0.634" stop-color="#0058ff"/><stop offset="0.898" stop-color="#0031ff"/><stop offset="0.998" stop-color="#0031ff"/></linearGradient><linearGradient id="g160"><stop offset="0.002" stop-color="#0044ff"/><stop offset="0.127" stop-color="#0049ff"/><stop offset="0.256" stop-color="#00a4ff"/><stop offset="0.341" stop-color="#00f2fd"/><stop offset="0.371" stop-color="#00fff9"/><stop offset="0.405" stop-color="#00d9ff"/><stop offset="0.490" stop-color="#005aff"/><stop offset="0.624" stop-color="#006eff"/><stop offset="0.774" stop-color="#0044ff"/><stop offset="0.933" stop-color="#0038ff"/><stop offset="0.998" stop-color="#0038ff"/></linearGradient><linearGradient id="g161"><stop offset="0.002" stop-color="#0024ff"/><stop offset="0.142" stop-color="#002aff"/><stop offset="0.246" stop-color="#0055ff"/><stop offset="0.366" stop-color="#00dbff"/><stop offset="0.430" stop-color="#00a7ff"/><stop offset="0.495" stop-color="#005dff"/><stop offset="0.619" stop-color="#0084ff"/><stop offset="0.754" stop-color="#004dff"/><stop offset="0.998" stop-color="#0044ff"/></linearGradient><linearGradient id="g162"><stop offset="0.002" stop-color="#001fff"/><stop offset="0.172" stop-color="#0026ff"/><stop offset="0.246" stop-color="#0032ff"/><stop offset="0.336" stop-color="#0094ff"/><stop offset="0.371" stop-color="#00bdff"/><stop offset="0.500" stop-color="#0077ff"/><stop offset="0.600" stop-color="#007eff"/><stop offset="0.634" stop-color="#007aff"/><stop offset="0.754" stop-color="#0053ff"/><stop offset="0.998" stop-color="#0050ff"/></linearGradient><linearGradient id="g163"><stop offset="0.002" stop-color="#0018ff"/><stop offset="0.236" stop-color="#0022ff"/><stop offset="0.321" stop-color="#0055ff"/><stop offset="0.371" stop-color="#007bff"/><stop offset="0.435" stop-color="#0070ff"/><stop offset="0.495" stop-color="#0087ff"/><stop offset="0.634" stop-color="#0056ff"/><stop offset="0.998" stop-color="#0057ff"/></linearGradient><linearGradient id="g164"><stop offset="0.002" stop-color="#0011ff"/><stop offset="0.256" stop-color="#0012ff"/><stop offset="0.381" stop-color="#0044ff"/><stop offset="0.440" stop-color="#004aff"/><stop offset="0.495" stop-color="#0066ff"/><stop offset="0.614" stop-color="#0036ff"/><stop offset="0.764" stop-color="#0056ff"/><stop offset="0.998" stop-color="#0057ff"/></linearGradient><linearGradient id="g165"><stop offset="0.002" stop-color="#0012ff"/><stop offset="0.281" stop-color="#001aff"/><stop offset="0.530" stop-color="#0037ff"/><stop offset="0.639" stop-color="#0035ff"/><stop offset="0.888" stop-color="#004eff"/><stop offset="0.998" stop-color="#004eff"/></linearGradient><linearGradient id="g166"><stop offset="0.002" stop-color="#0020ff"/><stop offset="0.132" stop-color="#0024ff"/><stop offset="0.246" stop-color="#004aff"/><stop offset="0.371" stop-color="#0011ff"/><stop offset="0.510" stop-color="#0032ff"/><stop offset="0.779" stop-color="#0038ff"/><stop offset="0.918" stop-color="#0045ff"/><stop offset="0.998" stop-color="#0045ff"/></linearGradient><linearGradient id="g167"><stop offset="0.002" stop-color="#002eff"/><stop offset="0.127" stop-color="#0031ff"/><stop offset="0.246" stop-color="#0069ff"/><stop offset="0.376" stop-color="#0045ff"/><stop offset="0.440" stop-color="#004bff"/><stop offset="0.565" stop-color="#0036ff"/><stop offset="0.729" stop-color="#0032ff"/><stop offset="0.938" stop-color="#0042ff"/><stop offset="0.998" stop-color="#0042ff"/></linearGradient><linearGradient id="g168"><stop offset="0.002" stop-color="#0031ff"/><stop offset="0.122" stop-color="#0035ff"/><stop offset="0.197" stop-color="#0083ff"/><stop offset="0.246" stop-color="#00c3ff"/><stop offset="0.376" stop-color="#0088ff"/><stop offset="0.430" stop-color="#0085ff"/><stop offset="0.495" stop-color="#0044ff"/><stop offset="0.644" stop-color="#0035ff"/><stop offset="0.764" stop-color="#003fff"/><stop offset="0.903" stop-color="#0033ff"/><stop offset="0.998" stop-color="#0038ff"/></linearGradient><linearGradient id="g169"><stop offset="0.002" stop-color="#003aff"/><stop offset="0.117" stop-color="#0044ff"/><stop offset="0.192" stop-color="#008eff"/><stop offset="0.246" stop-color="#00d0ff"/><stop offset="0.425" stop-color="#00dfff"/><stop offset="0.455" stop-color="#00a3ff"/><stop offset="0.490" stop-color="#0056ff"/><stop offset="0.619" stop-color="#0044ff"/><stop offset="0.749" stop-color="#0056ff"/><stop offset="0.868" stop-color="#001fff"/><stop offset="0.998" stop-color="#002aff"/></linearGradient><linearGradient id="g170"><stop offset="0.002" stop-color="#0043ff"/><stop offset="0.082" stop-color="#004bff"/><stop offset="0.142" stop-color="#0064ff"/><stop offset="0.241" stop-color="#00b3ff"/><stop offset="0.296" stop-color="#00f6fc"/><stop offset="0.316" stop-color="#00ffef"/><stop offset="0.371" stop-color="#00ffae"/><stop offset="0.425" stop-color="#00ffae"/><stop offset="0.450" stop-color="#00fff8"/><stop offset="0.465" stop-color="#00d8ff"/><stop offset="0.490" stop-color="#0075ff"/><stop offset="0.500" stop-color="#006aff"/><stop offset="0.629" stop-color="#0057ff"/><stop offset="0.744" stop-color="#006bff"/><stop offset="0.853" stop-color="#0019ff"/><stop offset="0.883" stop-color="#0014ff"/><stop offset="0.998" stop-color="#0021ff"/></linearGradient><linearGradient id="g171"><stop offset="0.002" stop-color="#0047ff"/><stop offset="0.082" stop-color="#004eff"/><stop offset="0.147" stop-color="#0068ff"/><stop offset="0.246" stop-color="#00a8ff"/><stop offset="0.291" stop-color="#00f4fd"/><stop offset="0.306" stop-color="#00fff3"/><stop offset="0.351" stop-color="#00ffab"/><stop offset="0.371" stop-color="#00ff8a"/><stop offset="0.425" stop-color="#00ff8d"/><stop offset="0.430" stop-color="#00ff98"/><stop offset="0.450" stop-color="#00ffe6"/><stop offset="0.455" stop-color="#00fff7"/><stop offset="0.465" stop-color="#00e8ff"/><stop offset="0.490" stop-color="#007dff"/><stop offset="0.500" stop-color="#0071ff"/><stop offset="0.629" stop-color="#005dff"/><stop offset="0.744" stop-color="#006dff"/><stop offset="0.853" stop-color="#0018ff"/><stop offset="0.883" stop-color="#0013ff"/><stop offset="0.998" stop-color="#0020ff"/></linearGradient><linearGradient id="g172"><stop offset="0.002" stop-color="#0058ff"/><stop offset="0.132" stop-color="#005dff"/><stop offset="0.241" stop-color="#0086ff"/><stop offset="0.286" stop-color="#00f2fd"/><stop offset="0.301" stop-color="#00ffed"/><stop offset="0.336" stop-color="#00ff9b"/><stop offset="0.366" stop-color="#00ff4b"/><stop offset="0.381" stop-color="#00ff48"/><stop offset="0.425" stop-color="#00ff57"/><stop offset="0.430" stop-color="#00ff64"/><stop offset="0.455" stop-color="#00ffda"/><stop offset="0.465" stop-color="#00fbfb"/><stop offset="0.475" stop-color="#00d8ff"/><stop offset="0.490" stop-color="#008dff"/><stop offset="0.495" stop-color="#0080ff"/><stop offset="0.744" stop-color="#0066ff"/><stop offset="0.863" stop-color="#0016ff"/><stop offset="0.998" stop-color="#0020ff"/></linearGradient><linearGradient id="g173"><stop offset="0.002" stop-color="#006dff"/><stop offset="0.077" stop-color="#0066ff"/><stop offset="0.137" stop-color="#0059ff"/><stop offset="0.241" stop-color="#005fff"/><stop offset="0.251" stop-color="#0077ff"/><stop offset="0.286" stop-color="#00eaff"/><stop offset="0.296" stop-color="#00fefa"/><stop offset="0.321" stop-color="#00ffb8"/><stop offset="0.366" stop-color="#00ff25"/><stop offset="0.381" stop-color="#00ff1f"/><stop offset="0.425" stop-color="#00ff24"/><stop offset="0.430" stop-color="#00ff30"/><stop offset="0.460" stop-color="#00ffd2"/><stop offset="0.470" stop-color="#00fdfa"/><stop offset="0.480" stop-color="#00d6ff"/><stop offset="0.490" stop-color="#009fff"/><stop offset="0.495" stop-color="#0090ff"/><stop offset="0.644" stop-color="#007cff"/><stop offset="0.754" stop-color="#0057ff"/><stop offset="0.868" stop-color="#001bff"/><stop offset="0.998" stop-color="#0020ff"/></linearGradient><linearGradient id="g174"><stop offset="0.002" stop-color="#0074ff"/><stop offset="0.062" stop-color="#0077ff"/><stop offset="0.127" stop-color="#0058ff"/><stop offset="0.241" stop-color="#005bff"/><stop offset="0.256" stop-color="#0080ff"/><stop offset="0.291" stop-color="#00e9ff"/><stop offset="0.306" stop-color="#00fff4"/><stop offset="0.336" stop-color="#00ffa7"/><stop offset="0.366" stop-color="#00ff4c"/><stop offset="0.386" stop-color="#00ff3b"/><stop offset="0.425" stop-color="#00ff29"/><stop offset="0.430" stop-color="#00ff33"/><stop offset="0.460" stop-color="#00ffd4"/><stop offset="0.470" stop-color="#00fcfb"/><stop offset="0.480" stop-color="#00d4ff"/><stop offset="0.490" stop-color="#009dff"/><stop offset="0.495" stop-color="#008eff"/><stop offset="0.634" stop-color="#007eff"/><stop offset="0.789" stop-color="#0041ff"/><stop offset="0.878" stop-color="#001fff"/><stop offset="0.998" stop-color="#0020ff"/></linearGradient><linearGradient id="g175"><stop offset="0.002" stop-color="#008aff"/><stop offset="0.052" stop-color="#00b0ff"/><stop offset="0.122" stop-color="#0059ff"/><stop offset="0.241" stop-color="#006cff"/><stop offset="0.266" stop-color="#00a2ff"/><stop offset="0.301" stop-color="#00eefe"/><stop offset="0.316" stop-color="#00fff6"/><stop offset="0.356" stop-color="#00ffa7"/><stop offset="0.371" stop-color="#00ff89"/><stop offset="0.425" stop-color="#00ff6c"/><stop offset="0.430" stop-color="#00ff77"/><stop offset="0.450" stop-color="#00ffd4"/><stop offset="0.460" stop-color="#00fff9"/><stop offset="0.475" stop-color="#00cbff"/><stop offset="0.490" stop-color="#0080ff"/><stop offset="0.495" stop-color="#0075ff"/><stop offset="0.679" stop-color="#0067ff"/><stop offset="0.779" stop-color="#0046ff"/><stop offset="0.878" stop-color="#0022ff"/><stop offset="0.998" stop-color="#0022ff"/></linearGradient><linearGradient id="g176"><stop offset="0.002" stop-color="#0091ff"/><stop offset="0.052" stop-color="#00c1ff"/><stop offset="0.072" stop-color="#00a7ff"/><stop offset="0.122" stop-color="#0060ff"/><stop offset="0.246" stop-color="#0072ff"/><stop offset="0.306" stop-color="#00eaff"/><stop offset="0.326" stop-color="#00fff6"/><stop offset="0.371" stop-color="#00ffad"/><stop offset="0.425" stop-color="#00ff97"/><stop offset="0.430" stop-color="#00ffa1"/><stop offset="0.450" stop-color="#00fff0"/><stop offset="0.460" stop-color="#00ecff"/><stop offset="0.490" stop-color="#0067ff"/><stop offset="0.495" stop-color="#005cff"/><stop offset="0.744" stop-color="#0051ff"/><stop offset="0.883" stop-color="#002fff"/><stop offset="0.998" stop-color="#002fff"/></linearGradient><linearGradient id="g177"><stop offset="0.002" stop-color="#00a0ff"/><stop offset="0.052" stop-color="#00ddff"/><stop offset="0.067" stop-color="#00cbff"/><stop offset="0.122" stop-color="#0068ff"/><stop offset="0.246" stop-color="#005bff"/><stop offset="0.386" stop-color="#00f0fe"/><stop offset="0.410" stop-color="#00fff5"/><stop offset="0.425" stop-color="#00ffe6"/><stop offset="0.440" stop-color="#00f8fc"/><stop offset="0.460" stop-color="#00c3ff"/><stop offset="0.490" stop-color="#005dff"/><stop offset="0.505" stop-color="#0055ff"/><stop offset="0.729" stop-color="#004bff"/><stop offset="0.998" stop-color="#0045ff"/></linearGradient><linearGradient id="g178"><stop offset="0.002" stop-color="#00aeff"/><stop offset="0.052" stop-color="#00f4fd"/><stop offset="0.067" stop-color="#00e4ff"/><stop offset="0.122" stop-color="#006eff"/><stop offset="0.246" stop-color="#0048ff"/><stop offset="0.425" stop-color="#00a1ff"/><stop offset="0.495" stop-color="#0044ff"/><stop offset="0.764" stop-color="#0048ff"/><stop offset="0.923" stop-color="#0056ff"/><stop offset="0.998" stop-color="#0056ff"/></linearGradient><linearGradient id="g179"><stop offset="0.002" stop-color="#00adff"/><stop offset="0.047" stop-color="#00f2fd"/><stop offset="0.057" stop-color="#00f6fc"/><stop offset="0.087" stop-color="#00bdff"/><stop offset="0.122" stop-color="#006dff"/><stop offset="0.251" stop-color="#0043ff"/><stop offset="0.430" stop-color="#0077ff"/><stop offset="0.495" stop-color="#0033ff"/><stop offset="0.659" stop-color="#0039ff"/><stop offset="0.903" stop-color="#0058ff"/><stop offset="0.998" stop-color="#0058ff"/></linearGradient><linearGradient id="g180"><stop offset="0.002" stop-color="#0099ff"/><stop offset="0.047" stop-color="#00f0fe"/><stop offset="0.057" stop-color="#00f6fc"/><stop offset="0.087" stop-color="#00b7ff"/><stop offset="0.122" stop-color="#0063ff"/><stop offset="0.251" stop-color="#0030ff"/><stop offset="0.450" stop-color="#0037ff"/><stop offset="0.575" stop-color="#002fff"/><stop offset="0.813" stop-color="#004bff"/><stop offset="0.948" stop-color="#0054ff"/><stop offset="0.998" stop-color="#0054ff"/></linearGradient><linearGradient id="g181"><stop offset="0.002" stop-color="#0083ff"/><stop offset="0.052" stop-color="#00ecff"/><stop offset="0.057" stop-color="#00ebff"/><stop offset="0.122" stop-color="#0058ff"/><stop offset="0.246" stop-color="#0022ff"/><stop offset="0.440" stop-color="#002fff"/><stop offset="0.659" stop-color="#0030ff"/><stop offset="0.908" stop-color="#004eff"/><stop offset="0.998" stop-color="#004eff"/></linearGradient><linearGradient id="g182"><stop offset="0.002" stop-color="#0071ff"/><stop offset="0.057" stop-color="#0099ff"/><stop offset="0.127" stop-color="#0052ff"/><stop offset="0.251" stop-color="#0020ff"/><stop offset="0.525" stop-color="#0027ff"/><stop offset="0.674" stop-color="#002cff"/><stop offset="0.908" stop-color="#0048ff"/><stop offset="0.998" stop-color="#0048ff"/></linearGradient><linearGradient id="g183"><stop offset="0.002" stop-color="#0053ff"/><stop offset="0.057" stop-color="#0078ff"/><stop offset="0.127" stop-color="#0042ff"/><stop offset="0.261" stop-color="#0020ff"/><stop offset="0.659" stop-color="#0026ff"/><stop offset="0.903" stop-color="#0044ff"/><stop offset="0.998" stop-color="#0044ff"/></linearGradient><linearGradient id="g184"><stop offset="0.002" stop-color="#0035ff"/><stop offset="0.082" stop-color="#0038ff"/><stop offset="0.286" stop-color="#0020ff"/><stop offset="0.659" stop-color="#0025ff"/><stop offset="0.903" stop-color="#0044ff"/><stop offset="0.998" stop-color="#0044ff"/></linearGradient><linearGradient id="g185"><stop offset="0.002" stop-color="#002fff"/><stop offset="0.177" stop-color="#0028ff"/><stop offset="0.311" stop-color="#0022ff"/><stop offset="0.669" stop-color="#0025ff"/><stop offset="0.908" stop-color="#0040ff"/><stop offset="0.998" stop-color="#0040ff"/></linearGradient><linearGradient id="g186"><stop offset="0.002" stop-color="#0028ff"/><stop offset="0.192" stop-color="#0025ff"/><stop offset="0.336" stop-color="#0026ff"/><stop offset="0.674" stop-color="#0024ff"/><stop offset="0.923" stop-color="#003aff"/><stop offset="0.998" stop-color="#003aff"/></linearGradient><linearGradient id="g187"><stop offset="0.002" stop-color="#0021ff"/><stop offset="0.301" stop-color="#0026ff"/><stop offset="0.405" stop-color="#0029ff"/><stop offset="0.619" stop-color="#0020ff"/><stop offset="0.823" stop-color="#002eff"/><stop offset="0.998" stop-color="#0034ff"/></linearGradient><linearGradient id="cb"><stop offset="0.0000" stop-color="#0010ff"/><stop offset="0.0025" stop-color="#0010ff"/><stop offset="0.0050" stop-color="#0010ff"/><stop offset="0.0075" stop-color="#0010ff"/><stop offset="0.0100" stop-color="#0010ff"/><stop offset="0.0125" stop-color="#0010ff"/><stop offset="0.0150" stop-color="#0010ff"/><stop offset="0.0175" stop-color="#0010ff"/><stop offset="0.0200" stop-color="#0011ff"/><stop offset="0.0225" stop-color="#0013ff"/><stop offset="0.0250" stop-color="#0015ff"/><stop offset="0.0275" stop-color="#0017ff"/><stop offset="0.0300" stop-color="#001aff"/><stop offset="0.0325" stop-color="#001cff"/><stop offset="0.0350" stop-color="#001eff"/><stop offset="0.0375" stop-color="#0020ff"/><stop offset="0.0400" stop-color="#0022ff"/><stop offset="0.0425" stop-color="#0024ff"/><stop offset="0.0450" stop-color="#0026ff"/><stop offset="0.0475" stop-color="#0028ff"/><stop offset="0.0500" stop-color="#002aff"/><stop offset="0.0525" stop-color="#002cff"/><stop offset="0.0550" stop-color="#002eff"/><stop offset="0.0575" stop-color="#0030ff"/><stop offset="0.0600" stop-color="#0032ff"/><stop offset="0.0625" stop-color="#0034ff"/><stop offset="0.0650" stop-color="#0036ff"/><stop offset="0.0675" stop-color="#0039ff"/><stop offset="0.0700" stop-color="#003bff"/><stop offset="0.0725" stop-color="#003dff"/><stop offset="0.0750" stop-color="#003fff"/><stop offset="0.0775" stop-color="#0041ff"/><stop offset="0.0800" stop-color="#0043ff"/><stop offset="0.0825" stop-color="#0045ff"/><stop offset="0.0850" stop-color="#0047ff"/><stop offset="0.0875" stop-color="#0049ff"/><stop offset="0.0900" stop-color="#004bff"/><stop offset="0.0925" stop-color="#004dff"/><stop offset="0.0950" stop-color="#004fff"/><stop offset="0.0975" stop-color="#0051ff"/><stop offset="0.1000" stop-color="#0052ff"/><stop offset="0.1025" stop-color="#0053ff"/><stop offset="0.1050" stop-color="#0055ff"/><stop offset="0.1075" stop-color="#0056ff"/><stop offset="0.1100" stop-color="#0057ff"/><stop offset="0.1125" stop-color="#0059ff"/><stop offset="0.1150" stop-color="#005aff"/><stop offset="0.1175" stop-color="#005bff"/><stop offset="0.1200" stop-color="#005cff"/><stop offset="0.1225" stop-color="#005eff"/><stop offset="0.1250" stop-color="#005fff"/><stop offset="0.1275" stop-color="#0060ff"/><stop offset="0.1300" stop-color="#0062ff"/><stop offset="0.1325" stop-color="#0063ff"/><stop offset="0.1350" stop-color="#0064ff"/><stop offset="0.1375" stop-color="#0067ff"/><stop offset="0.1400" stop-color="#006aff"/><stop offset="0.1425" stop-color="#006cff"/><stop offset="0.1450" stop-color="#006fff"/><stop offset="0.1475" stop-color="#0071ff"/><stop offset="0.1500" stop-color="#0074ff"/><stop offset="0.1525" stop-color="#0077ff"/><stop offset="0.1550" stop-color="#0079ff"/><stop offset="0.1575" stop-color="#007cff"/><stop offset="0.1600" stop-color="#007eff"/><stop offset="0.1625" stop-color="#0081ff"/><stop offset="0.1650" stop-color="#0083ff"/><stop offset="0.1675" stop-color="#0086ff"/><stop offset="0.1700" stop-color="#0089ff"/><stop offset="0.1725" stop-color="#008bff"/><stop offset="0.1750" stop-color="#008dff"/><stop offset="0.1775" stop-color="#008fff"/><stop offset="0.1800" stop-color="#0091ff"/><stop offset="0.1825" stop-color="#0093ff"/><stop offset="0.1850" stop-color="#0095ff"/><stop offset="0.1875" stop-color="#0097ff"/><stop offset="0.1900" stop-color="#0099ff"/><stop offset="0.1925" stop-color="#009bff"/><stop offset="0.1950" stop-color="#009dff"/><stop offset="0.1975" stop-color="#009fff"/><stop offset="0.2000" stop-color="#00a1ff"/><stop offset="0.2025" stop-color="#00a3ff"/><stop offset="0.2050" stop-color="#00a5ff"/><stop offset="0.2075" stop-color="#00a7ff"/><stop offset="0.2100" stop-color="#00a9ff"/><stop offset="0.2125" stop-color="#00e0ff"/><stop offset="0.2150" stop-color="#00e2ff"/><stop offset="0.2175" stop-color="#00e3ff"/><stop offset="0.2200" stop-color="#00e5ff"/><stop offset="0.2225" stop-color="#00e6ff"/><stop offset="0.2250" stop-color="#00e8ff"/><stop offset="0.2275" stop-color="#00e9ff"/><stop offset="0.2300" stop-color="#00ebff"/><stop offset="0.2325" stop-color="#00edff"/><stop offset="0.2350" stop-color="#00eeff"/><stop offset="0.2375" stop-color="#00f0ff"/><stop offset="0.2400" stop-color="#00f1ff"/><stop offset="0.2425" stop-color="#00f3ff"/><stop offset="0.2450" stop-color="#00f4ff"/><stop offset="0.2475" stop-color="#00f6ff"/><stop offset="0.2500" stop-color="#00f8ff"/><stop offset="0.2525" stop-color="#00f8fe"/><stop offset="0.2550" stop-color="#00f9fd"/><stop offset="0.2575" stop-color="#00f9fb"/><stop offset="0.2600" stop-color="#00fafa"/><stop offset="0.2625" stop-color="#00faf9"/><stop offset="0.2650" stop-color="#00fbf8"/><stop offset="0.2675" stop-color="#00fbf6"/><stop offset="0.2700" stop-color="#00fbf5"/><stop offset="0.2725" stop-color="#00fcf4"/><stop offset="0.2750" stop-color="#00fcf2"/><stop offset="0.2775" stop-color="#00fdf1"/><stop offset="0.2800" stop-color="#00fdf0"/><stop offset="0.2825" stop-color="#00feef"/><stop offset="0.2850" stop-color="#00feed"/><stop offset="0.2875" stop-color="#00ffec"/><stop offset="0.2900" stop-color="#00ffee"/><stop offset="0.2925" stop-color="#00ffeb"/><stop offset="0.2950" stop-color="#00ffe9"/><stop offset="0.2975" stop-color="#00ffe6"/><stop offset="0.3000" stop-color="#00ffe4"/><stop offset="0.3025" stop-color="#00ffe1"/><stop offset="0.3050" stop-color="#00ffdf"/><stop offset="0.3075" stop-color="#00ffdc"/><stop offset="0.3100" stop-color="#00ffda"/><stop offset="0.3125" stop-color="#00ffd8"/><stop offset="0.3150" stop-color="#00ffd5"/><stop offset="0.3175" stop-color="#00ffd3"/><stop offset="0.3200" stop-color="#00ffd0"/><stop offset="0.3225" stop-color="#00ffce"/><stop offset="0.3250" stop-color="#00ffcb"/><stop offset="0.3275" stop-color="#00ffc9"/><stop offset="0.3300" stop-color="#00ffc6"/><stop offset="0.3325" stop-color="#00ffc2"/><stop offset="0.3350" stop-color="#00ffbf"/><stop offset="0.3375" stop-color="#00ffbc"/><stop offset="0.3400" stop-color="#00ffb9"/><stop offset="0.3425" stop-color="#00ffb5"/><stop offset="0.3450" stop-color="#00ffb2"/><stop offset="0.3475" stop-color="#00ffaf"/><stop offset="0.3500" stop-color="#00ffac"/><stop offset="0.3525" stop-color="#00ffa8"/><stop offset="0.3550" stop-color="#00ffa5"/><stop offset="0.3575" stop-color="#00ffa2"/><stop offset="0.3600" stop-color="#00ff9f"/><stop offset="0.3625" stop-color="#00ff9c"/><stop offset="0.3650" stop-color="#00ff98"/><stop offset="0.3675" stop-color="#00ff95"/><stop offset="0.3700" stop-color="#00ff92"/><stop offset="0.3725" stop-color="#00ff8f"/><stop offset="0.3750" stop-color="#00ff8b"/><stop offset="0.3775" stop-color="#00ff88"/><stop offset="0.3800" stop-color="#00ff85"/><stop offset="0.3825" stop-color="#00ff82"/><stop offset="0.3850" stop-color="#00ff7e"/><stop offset="0.3875" stop-color="#00ff7b"/><stop offset="0.3900" stop-color="#00ff78"/><stop offset="0.3925" stop-color="#00ff75"/><stop offset="0.3950" stop-color="#00ff72"/><stop offset="0.3975" stop-color="#00ff6e"/><stop offset="0.4000" stop-color="#00ff6b"/><stop offset="0.4025" stop-color="#00ff68"/><stop offset="0.4050" stop-color="#00ff65"/><stop offset="0.4075" stop-color="#00ff61"/><stop offset="0.4100" stop-color="#00ff5e"/><stop offset="0.4125" stop-color="#00ff5b"/><stop offset="0.4150" stop-color="#00ff58"/><stop offset="0.4175" stop-color="#00ff54"/><stop offset="0.4200" stop-color="#00ff51"/><stop offset="0.4225" stop-color="#00ff4e"/><stop offset="0.4250" stop-color="#00ff4b"/><stop offset="0.4275" stop-color="#00ff48"/><stop offset="0.4300" stop-color="#00ff44"/><stop offset="0.4325" stop-color="#00ff41"/><stop offset="0.4350" stop-color="#00ff3e"/><stop offset="0.4375" stop-color="#00ff3b"/><stop offset="0.4400" stop-color="#00ff37"/><stop offset="0.4425" stop-color="#00ff34"/><stop offset="0.4450" stop-color="#00ff31"/><stop offset="0.4475" stop-color="#00ff2f"/><stop offset="0.4500" stop-color="#00ff2c"/><stop offset="0.4525" stop-color="#00ff29"/><stop offset="0.4550" stop-color="#00ff27"/><stop offset="0.4575" stop-color="#00ff24"/><stop offset="0.4600" stop-color="#00ff22"/><stop offset="0.4625" stop-color="#00ff1f"/><stop offset="0.4650" stop-color="#00ff1d"/><stop offset="0.4675" stop-color="#00ff1a"/><stop offset="0.4700" stop-color="#00ff17"/><stop offset="0.4725" stop-color="#00ff15"/><stop offset="0.4750" stop-color="#00ff12"/><stop offset="0.4775" stop-color="#00ff10"/><stop offset="0.4800" stop-color="#00ff0d"/><stop offset="0.4825" stop-color="#00ff0a"/><stop offset="0.4850" stop-color="#03ff09"/><stop offset="0.4875" stop-color="#06ff09"/><stop offset="0.4900" stop-color="#09ff08"/><stop offset="0.4925" stop-color="#0cff08"/><stop offset="0.4950" stop-color="#0fff07"/><stop offset="0.4975" stop-color="#12ff06"/><stop offset="0.5000" stop-color="#15ff06"/><stop offset="0.5025" stop-color="#18ff05"/><stop offset="0.5050" stop-color="#1bff04"/><stop offset="0.5075" stop-color="#1fff04"/><stop offset="0.5100" stop-color="#22ff03"/><stop offset="0.5125" stop-color="#25ff02"/><stop offset="0.5150" stop-color="#28ff02"/><stop offset="0.5175" stop-color="#2bff01"/><stop offset="0.5200" stop-color="#2eff00"/><stop offset="0.5225" stop-color="#31ff00"/><stop offset="0.5250" stop-color="#34ff00"/><stop offset="0.5275" stop-color="#37ff00"/><stop offset="0.5300" stop-color="#3aff00"/><stop offset="0.5325" stop-color="#3eff00"/><stop offset="0.5350" stop-color="#41ff00"/><stop offset="0.5375" stop-color="#44ff00"/><stop offset="0.5400" stop-color="#47ff00"/><stop offset="0.5425" stop-color="#4aff00"/><stop offset="0.5450" stop-color="#4dff00"/><stop offset="0.5475" stop-color="#50ff00"/><stop offset="0.5500" stop-color="#53ff00"/><stop offset="0.5525" stop-color="#56ff00"/><stop offset="0.5550" stop-color="#59ff00"/><stop offset="0.5575" stop-color="#5dff00"/><stop offset="0.5600" stop-color="#60ff00"/><stop offset="0.5625" stop-color="#63ff00"/><stop offset="0.5650" stop-color="#65ff00"/><stop offset="0.5675" stop-color="#68ff00"/><stop offset="0.5700" stop-color="#6bff00"/><stop offset="0.5725" stop-color="#6eff00"/><stop offset="0.5750" stop-color="#71ff00"/><stop offset="0.5775" stop-color="#74ff00"/><stop offset="0.5800" stop-color="#76ff00"/><stop offset="0.5825" stop-color="#79ff00"/><stop offset="0.5850" stop-color="#7cff00"/><stop offset="0.5875" stop-color="#7fff00"/><stop offset="0.5900" stop-color="#82ff00"/><stop offset="0.5925" stop-color="#85ff00"/><stop offset="0.5950" stop-color="#87ff00"/><stop offset="0.5975" stop-color="#8aff00"/><stop offset="0.6000" stop-color="#8dff00"/><stop offset="0.6025" stop-color="#90ff00"/><stop offset="0.6050" stop-color="#92ff00"/><stop offset="0.6075" stop-color="#95ff00"/><stop offset="0.6100" stop-color="#97ff00"/><stop offset="0.6125" stop-color="#9aff00"/><stop offset="0.6150" stop-color="#9dff00"/><stop offset="0.6175" stop-color="#9fff00"/><stop offset="0.6200" stop-color="#a2ff00"/><stop offset="0.6225" stop-color="#a4ff00"/><stop offset="0.6250" stop-color="#a7ff00"/><stop offset="0.6275" stop-color="#a9ff00"/><stop offset="0.6300" stop-color="#acff00"/><stop offset="0.6325" stop-color="#afff00"/><stop offset="0.6350" stop-color="#b1ff00"/><stop offset="0.6375" stop-color="#b4ff00"/><stop offset="0.6400" stop-color="#b6ff00"/><stop offset="0.6425" stop-color="#b9ff00"/><stop offset="0.6450" stop-color="#bcff00"/><stop offset="0.6475" stop-color="#beff00"/><stop offset="0.6500" stop-color="#c1ff00"/><stop offset="0.6525" stop-color="#c3ff00"/><stop offset="0.6550" stop-color="#c6ff00"/><stop offset="0.6575" stop-color="#c8ff00"/><stop offset="0.6600" stop-color="#cbff00"/><stop offset="0.6625" stop-color="#ceff00"/><stop offset="0.6650" stop-color="#d0ff00"/><stop offset="0.6675" stop-color="#d3ff00"/><stop offset="0.6700" stop-color="#d5ff00"/><stop offset="0.6725" stop-color="#d8ff00"/><stop offset="0.6750" stop-color="#dbff00"/><stop offset="0.6775" stop-color="#ddff00"/><stop offset="0.6800" stop-color="#dfff00"/><stop offset="0.6825" stop-color="#e1ff00"/><stop offset="0.6850" stop-color="#e3ff00"/><stop offset="0.6875" stop-color="#e5ff00"/><stop offset="0.6900" stop-color="#e7ff00"/><stop offset="0.6925" stop-color="#e9ff00"/><stop offset="0.6950" stop-color="#ebff00"/><stop offset="0.6975" stop-color="#edff00"/><stop offset="0.7000" stop-color="#f0ff00"/><stop offset="0.7025" stop-color="#f2ff00"/><stop offset="0.7050" stop-color="#f4ff00"/><stop offset="0.7075" stop-color="#f6ff00"/><stop offset="0.7100" stop-color="#f8ff00"/><stop offset="0.7125" stop-color="#faff00"/><stop offset="0.7150" stop-color="#fcff00"/><stop offset="0.7175" stop-color="#fcfd00"/><stop offset="0.7200" stop-color="#fcfc00"/><stop offset="0.7225" stop-color="#fdfa00"/><stop offset="0.7250" stop-color="#fdf800"/><stop offset="0.7275" stop-color="#fdf600"/><stop offset="0.7300" stop-color="#fdf500"/><stop offset="0.7325" stop-color="#fdf300"/><stop offset="0.7350" stop-color="#fef100"/><stop offset="0.7375" stop-color="#feef00"/><stop offset="0.7400" stop-color="#feee00"/><stop offset="0.7425" stop-color="#feec00"/><stop offset="0.7450" stop-color="#feea00"/><stop offset="0.7475" stop-color="#ffe800"/><stop offset="0.7500" stop-color="#ffe700"/><stop offset="0.7525" stop-color="#ffe500"/><stop offset="0.7550" stop-color="#ffe300"/><stop offset="0.7575" stop-color="#ffe100"/><stop offset="0.7600" stop-color="#ffde00"/><stop offset="0.7625" stop-color="#ffdc00"/><stop offset="0.7650" stop-color="#ffda00"/><stop offset="0.7675" stop-color="#ffd700"/><stop offset="0.7700" stop-color="#ffd500"/><stop offset="0.7725" stop-color="#ffd300"/><stop offset="0.7750" stop-color="#ffd000"/><stop offset="0.7775" stop-color="#ffce00"/><stop offset="0.7800" stop-color="#ffcc00"/><stop offset="0.7825" stop-color="#ffc900"/><stop offset="0.7850" stop-color="#ffc700"/><stop offset="0.7875" stop-color="#ffc500"/><stop offset="0.7900" stop-color="#ffc200"/><stop offset="0.7925" stop-color="#ffc000"/><stop offset="0.7950" stop-color="#ffbe00"/><stop offset="0.7975" stop-color="#ffbb00"/><stop offset="0.8000" stop-color="#ffb900"/><stop offset="0.8025" stop-color="#ffb700"/><stop offset="0.8050" stop-color="#ffb400"/><stop offset="0.8075" stop-color="#ffb200"/><stop offset="0.8100" stop-color="#ffb000"/><stop offset="0.8125" stop-color="#ffad00"/><stop offset="0.8150" stop-color="#ffab00"/><stop offset="0.8175" stop-color="#ffa900"/><stop offset="0.8200" stop-color="#ffa600"/><stop offset="0.8225" stop-color="#ffa400"/><stop offset="0.8250" stop-color="#ffa200"/><stop offset="0.8275" stop-color="#ff9f00"/><stop offset="0.8300" stop-color="#ff9d00"/><stop offset="0.8325" stop-color="#ff9b00"/><stop offset="0.8350" stop-color="#ff9800"/><stop offset="0.8375" stop-color="#ff9600"/><stop offset="0.8400" stop-color="#ff9400"/><stop offset="0.8425" stop-color="#ff9100"/><stop offset="0.8450" stop-color="#ff8f00"/><stop offset="0.8475" stop-color="#ff8d00"/><stop offset="0.8500" stop-color="#ff8b00"/><stop offset="0.8525" stop-color="#ff8800"/><stop offset="0.8550" stop-color="#ff8600"/><stop offset="0.8575" stop-color="#ff8400"/><stop offset="0.8600" stop-color="#ff8100"/><stop offset="0.8625" stop-color="#ff7f00"/><stop offset="0.8650" stop-color="#ff7d00"/><stop offset="0.8675" stop-color="#ff7a00"/><stop offset="0.8700" stop-color="#ff7800"/><stop offset="0.8725" stop-color="#ff7500"/><stop offset="0.8750" stop-color="#ff7300"/><stop offset="0.8775" stop-color="#ff7000"/><stop offset="0.8800" stop-color="#ff6e00"/><stop offset="0.8825" stop-color="#ff6b00"/><stop offset="0.8850" stop-color="#ff6800"/><stop offset="0.8875" stop-color="#ff6600"/><stop offset="0.8900" stop-color="#ff6300"/><stop offset="0.8925" stop-color="#ff6100"/><stop offset="0.8950" stop-color="#ff5e00"/><stop offset="0.8975" stop-color="#ff5b00"/><stop offset="0.9000" stop-color="#ff5900"/><stop offset="0.9025" stop-color="#ff5600"/><stop offset="0.9050" stop-color="#ff5400"/><stop offset="0.9075" stop-color="#ff5100"/><stop offset="0.9100" stop-color="#ff4e00"/><stop offset="0.9125" stop-color="#ff4c00"/><stop offset="0.9150" stop-color="#ff4900"/><stop offset="0.9175" stop-color="#ff4600"/><stop offset="0.9200" stop-color="#ff4300"/><stop offset="0.9225" stop-color="#ff4000"/><stop offset="0.9250" stop-color="#ff3d00"/><stop offset="0.9275" stop-color="#ff3b00"/><stop offset="0.9300" stop-color="#ff3800"/><stop offset="0.9325" stop-color="#ff3500"/><stop offset="0.9350" stop-color="#ff3200"/><stop offset="0.9375" stop-color="#ff2f00"/><stop offset="0.9400" stop-color="#ff2c00"/><stop offset="0.9425" stop-color="#ff2900"/><stop offset="0.9450" stop-color="#ff2700"/><stop offset="0.9475" stop-color="#ff2400"/><stop offset="0.9500" stop-color="#ff2100"/><stop offset="0.9525" stop-color="#ff1f00"/><stop offset="0.9550" stop-color="#ff1d00"/><stop offset="0.9575" stop-color="#ff1b00"/><stop offset="0.9600" stop-color="#ff1800"/><stop offset="0.9625" stop-color="#ff1600"/><stop offset="0.9650" stop-color="#ff1400"/><stop offset="0.9675" stop-color="#ff1100"/><stop offset="0.9700" stop-color="#ff0f00"/><stop offset="0.9725" stop-color="#ff0d00"/><stop offset="0.9750" stop-color="#ff0a00"/><stop offset="0.9775" stop-color="#ff0800"/><stop offset="0.9800" stop-color="#ff0600"/><stop offset="0.9825" stop-color="#ff0300"/><stop offset="0.9850" stop-color="#ff0100"/><stop offset="0.9875" stop-color="#fe0000"/><stop offset="0.9900" stop-color="#fc0000"/><stop offset="0.9925" stop-color="#fa0000"/><stop offset="0.9950" stop-color="#f80000"/><stop offset="0.9975" stop-color="#f60000"/><stop offset="1.0000" stop-color="#f40000"/></linearGradient><clipPath id="rp"><rect x="239.5" y="0.5" width="91.0" height="190.0"/></clipPath></defs>
<rect x="31" y="1" width="202" height="189" fill="#e2dad8"/><rect x="32" y="1" width="201" height="1" fill="url(#g0)"/><rect x="32" y="2" width="201" height="1" fill="url(#g1)"/><rect x="32" y="3" width="201" height="1" fill="url(#g2)"/><rect x="32" y="4" width="201" height="1" fill="url(#g3)"/><rect x="32" y="5" width="201" height="1" fill="url(#g4)"/><rect x="32" y="6" width="201" height="1" fill="url(#g5)"/><rect x="32" y="7" width="201" height="1" fill="url(#g6)"/><rect x="32" y="8" width="201" height="1" fill="url(#g7)"/><rect x="32" y="9" width="201" height="1" fill="url(#g8)"/><rect x="32" y="10" width="201" height="1" fill="url(#g9)"/><rect x="32" y="11" width="201" height="1" fill="url(#g10)"/><rect x="32" y="12" width="201" height="1" fill="url(#g11)"/><rect x="32" y="13" width="201" height="1" fill="url(#g12)"/><rect x="32" y="14" width="201" height="1" fill="url(#g13)"/><rect x="32" y="15" width="201" height="1" fill="url(#g14)"/><rect x="32" y="16" width="201" height="1" fill="url(#g15)"/><rect x="32" y="17" width="201" height="1" fill="url(#g16)"/><rect x="32" y="18" width="201" height="1" fill="url(#g17)"/><rect x="32" y="19" width="201" height="1" fill="#00ff58"/><rect x="32" y="20" width="201" height="1" fill="#00ffc8"/><rect x="32" y="21" width="201" height="1" fill="url(#g20)"/><rect x="32" y="22" width="201" height="1" fill="url(#g21)"/><rect x="32" y="23" width="201" height="1" fill="url(#g22)"/><rect x="32" y="24" width="201" height="1" fill="url(#g23)"/><rect x="32" y="25" width="201" height="1" fill="url(#g24)"/><rect x="32" y="26" width="201" height="1" fill="url(#g25)"/><rect x="32" y="27" width="201" height="1" fill="url(#g26)"/><rect x="32" y="28" width="201" height="1" fill="url(#g27)"/><rect x="32" y="29" width="201" height="1" fill="url(#g28)"/><rect x="32" y="30" width="201" height="1" fill="url(#g29)"/><rect x="32" y="31" width="201" height="1" fill="url(#g30)"/><rect x="32" y="32" width="201" height="1" fill="url(#g31)"/><rect x="32" y="33" width="201" height="1" fill="url(#g32)"/><rect x="32" y="34" width="201" height="1" fill="url(#g33)"/><rect x="32" y="35" width="201" height="1" fill="url(#g34)"/><rect x="32" y="36" width="201" height="1" fill="url(#g35)"/><rect x="32" y="37" width="201" height="1" fill="url(#g36)"/><rect x="32" y="38" width="201" height="1" fill="url(#g37)"/><rect x="32" y="39" width="201" height="1" fill="url(#g38)"/><rect x="32" y="40" width="201" height="1" fill="url(#g39)"/><rect x="32" y="41" width="201" height="1" fill="url(#g40)"/><rect x="32" y="42" width="201" height="1" fill="url(#g41)"/><rect x="32" y="43" width="201" height="1" fill="url(#g42)"/><rect x="32" y="44" width="201" height="1" fill="url(#g43)"/><rect x="32" y="45" width="201" height="1" fill="url(#g44)"/><rect x="32" y="46" width="201" height="1" fill="url(#g45)"/><rect x="32" y="47" width="201" height="1" fill="url(#g46)"/><rect x="32" y="48" width="201" height="1" fill="url(#g47)"/><rect x="32" y="49" width="201" height="1" fill="url(#g48)"/><rect x="32" y="50" width="201" height="1" fill="url(#g49)"/><rect x="32" y="51" width="201" height="1" fill="url(#g50)"/><rect x="32" y="52" width="201" height="1" fill="url(#g51)"/><rect x="32" y="53" width="201" height="1" fill="url(#g52)"/><rect x="32" y="54" width="201" height="1" fill="url(#g53)"/><rect x="32" y="55" width="201" height="1" fill="url(#g54)"/><rect x="32" y="56" width="201" height="1" fill="#00ffee"/><rect x="32" y="57" width="201" height="1" fill="url(#g56)"/><rect x="32" y="58" width="201" height="1" fill="url(#g57)"/><rect x="32" y="59" width="201" height="1" fill="url(#g58)"/><rect x="32" y="60" width="201" height="1" fill="url(#g59)"/><rect x="32" y="61" width="201" height="1" fill="url(#g60)"/><rect x="32" y="62" width="201" height="1" fill="url(#g61)"/><rect x="32" y="63" width="201" height="1" fill="url(#g62)"/><rect x="32" y="64" width="201" height="1" fill="url(#g63)"/><rect x="32" y="65" width="201" height="1" fill="url(#g64)"/><rect x="32" y="66" width="201" height="1" fill="url(#g65)"/><rect x="32" y="67" width="201" height="1" fill="url(#g66)"/><rect x="32" y="68" width="201" height="1" fill="url(#g67)"/><rect x="32" y="69" width="201" height="1" fill="url(#g68)"/><rect x="32" y="70" width="201" height="1" fill="url(#g69)"/><rect x="32" y="71" width="201" height="1" fill="url(#g70)"/><rect x="32" y="72" width="201" height="1" fill="url(#g71)"/><rect x="32" y="73" width="201" height="1" fill="url(#g72)"/><rect x="32" y="74" width="201" height="1" fill="url(#g73)"/><rect x="32" y="75" width="201" height="1" fill="url(#g74)"/><rect x="32" y="76" width="201" height="1" fill="url(#g75)"/><rect x="32" y="77" width="201" height="1" fill="url(#g76)"/><rect x="32" y="78" width="201" height="1" fill="url(#g77)"/><rect x="32" y="79" width="201" height="1" fill="url(#g78)"/><rect x="32" y="80" width="201" height="1" fill="url(#g79)"/><rect x="32" y="81" width="201" height="1" fill="url(#g80)"/><rect x="32" y="82" width="201" height="1" fill="url(#g81)"/><rect x="32" y="83" width="201" height="1" fill="url(#g82)"/><rect x="32" y="84" width="201" height="1" fill="url(#g83)"/><rect x="32" y="85" width="201" height="1" fill="url(#g84)"/><rect x="32" y="86" width="201" height="1" fill="url(#g85)"/><rect x="32" y="87" width="201" height="1" fill="url(#g86)"/><rect x="32" y="88" width="201" height="1" fill="url(#g87)"/><rect x="32" y="89" width="201" height="1" fill="url(#g88)"/><rect x="32" y="90" width="201" height="1" fill="url(#g89)"/><rect x="32" y="91" width="201" height="1" fill="url(#g90)"/><rect x="32" y="92" width="201" height="1" fill="url(#g91)"/><rect x="32" y="93" width="201" height="1" fill="url(#g92)"/><rect x="32" y="94" width="201" height="1" fill="url(#g93)"/><rect x="32" y="95" width="201" height="1" fill="url(#g94)"/><rect x="32" y="96" width="201" height="1" fill="url(#g95)"/><rect x="32" y="97" width="201" height="1" fill="url(#g96)"/><rect x="32" y="98" width="201" height="1" fill="url(#g97)"/><rect x="32" y="99" width="201" height="1" fill="url(#g98)"/><rect x="32" y="100" width="201" height="1" fill="url(#g99)"/><rect x="32" y="101" width="201" height="1" fill="url(#g100)"/><rect x="32" y="102" width="201" height="1" fill="url(#g101)"/><rect x="32" y="103" width="201" height="1" fill="url(#g102)"/><rect x="32" y="104" width="201" height="1" fill="url(#g103)"/><rect x="32" y="105" width="201" height="1" fill="url(#g104)"/><rect x="32" y="106" width="201" height="1" fill="url(#g105)"/><rect x="32" y="107" width="201" height="1" fill="url(#g106)"/><rect x="32" y="108" width="201" height="1" fill="url(#g107)"/><rect x="32" y="109" width="201" height="1" fill="url(#g108)"/><rect x="32" y="110" width="201" height="1" fill="url(#g109)"/><rect x="32" y="111" width="201" height="1" fill="url(#g110)"/><rect x="32" y="112" width="201" height="1" fill="url(#g111)"/><rect x="32" y="113" width="201" height="1" fill="url(#g112)"/><rect x="32" y="114" width="201" height="1" fill="url(#g113)"/><rect x="32" y="115" width="201" height="1" fill="url(#g114)"/><rect x="32" y="116" width="201" height="1" fill="url(#g115)"/><rect x="32" y="117" width="201" height="1" fill="url(#g116)"/><rect x="32" y="118" width="201" height="1" fill="url(#g117)"/><rect x="32" y="119" width="201" height="1" fill="url(#g118)"/><rect x="32" y="120" width="201" height="1" fill="url(#g119)"/><rect x="32" y="121" width="201" height="1" fill="url(#g120)"/><rect x="32" y="122" width="201" height="1" fill="url(#g121)"/><rect x="32" y="123" width="201" height="1" fill="url(#g122)"/><rect x="32" y="124" width="201" height="1" fill="url(#g123)"/><rect x="32" y="125" width="201" height="1" fill="url(#g124)"/><rect x="32" y="126" width="201" height="1" fill="url(#g125)"/><rect x="32" y="127" width="201" height="1" fill="url(#g126)"/><rect x="32" y="128" width="201" height="1" fill="url(#g127)"/><rect x="32" y="129" width="201" height="1" fill="url(#g128)"/><rect x="32" y="130" width="201" height="1" fill="url(#g129)"/><rect x="32" y="131" width="201" height="1" fill="url(#g130)"/><rect x="32" y="132" width="201" height="1" fill="url(#g131)"/><rect x="32" y="133" width="201" height="1" fill="url(#g132)"/><rect x="32" y="134" width="201" height="1" fill="url(#g133)"/><rect x="32" y="135" width="201" height="1" fill="url(#g134)"/><rect x="32" y="136" width="201" height="1" fill="url(#g135)"/><rect x="32" y="137" width="201" height="1" fill="url(#g136)"/><rect x="32" y="138" width="201" height="1" fill="url(#g137)"/><rect x="32" y="139" width="201" height="1" fill="url(#g138)"/><rect x="32" y="140" width="201" height="1" fill="url(#g139)"/><rect x="32" y="141" width="201" height="1" fill="url(#g140)"/><rect x="32" y="142" width="201" height="1" fill="url(#g141)"/><rect x="32" y="143" width="201" height="1" fill="url(#g142)"/><rect x="32" y="144" width="201" height="1" fill="url(#g143)"/><rect x="32" y="145" width="201" height="1" fill="url(#g144)"/><rect x="32" y="146" width="201" height="1" fill="url(#g145)"/><rect x="32" y="147" width="201" height="1" fill="url(#g146)"/><rect x="32" y="148" width="201" height="1" fill="url(#g147)"/><rect x="32" y="149" width="201" height="1" fill="url(#g148)"/><rect x="32" y="150" width="201" height="1" fill="url(#g149)"/><rect x="32" y="151" width="201" height="1" fill="url(#g150)"/><rect x="32" y="152" width="201" height="1" fill="url(#g151)"/><rect x="32" y="153" width="201" height="1" fill="url(#g152)"/><rect x="32" y="154" width="201" height="1" fill="url(#g153)"/><rect x="32" y="155" width="201" height="1" fill="url(#g154)"/><rect x="32" y="156" width="201" height="1" fill="url(#g155)"/><rect x="32" y="157" width="201" height="1" fill="url(#g156)"/><rect x="32" y="158" width="201" height="1" fill="url(#g157)"/><rect x="32" y="159" width="201" height="1" fill="url(#g158)"/><rect x="32" y="160" width="201" height="1" fill="url(#g159)"/><rect x="32" y="161" width="201" height="1" fill="url(#g160)"/><rect x="32" y="162" width="201" height="1" fill="url(#g161)"/><rect x="32" y="163" width="201" height="1" fill="url(#g162)"/><rect x="32" y="164" width="201" height="1" fill="url(#g163)"/><rect x="32" y="165" width="201" height="1" fill="url(#g164)"/><rect x="32" y="166" width="201" height="1" fill="url(#g165)"/><rect x="32" y="167" width="201" height="1" fill="url(#g166)"/><rect x="32" y="168" width="201" height="1" fill="url(#g167)"/><rect x="32" y="169" width="201" height="1" fill="url(#g168)"/><rect x="32" y="170" width="201" height="1" fill="url(#g169)"/><rect x="32" y="171" width="201" height="1" fill="url(#g170)"/><rect x="32" y="172" width="201" height="1" fill="url(#g171)"/><rect x="32" y="173" width="201" height="1" fill="url(#g172)"/><rect x="32" y="174" width="201" height="1" fill="url(#g173)"/><rect x="32" y="175" width="201" height="1" fill="url(#g174)"/><rect x="32" y="176" width="201" height="1" fill="url(#g175)"/><rect x="32" y="177" width="201" height="1" fill="url(#g176)"/><rect x="32" y="178" width="201" height="1" fill="url(#g177)"/><rect x="32" y="179" width="201" height="1" fill="url(#g178)"/><rect x="32" y="180" width="201" height="1" fill="url(#g179)"/><rect x="32" y="181" width="201" height="1" fill="url(#g180)"/><rect x="32" y="182" width="201" height="1" fill="url(#g181)"/><rect x="32" y="183" width="201" height="1" fill="url(#g182)"/><rect x="32" y="184" width="201" height="1" fill="url(#g183)"/><rect x="32" y="185" width="201" height="1" fill="url(#g184)"/><rect x="32" y="186" width="201" height="1" fill="url(#g185)"/><rect x="32" y="187" width="201" height="1" fill="url(#g186)"/><rect x="32" y="188" width="201" height="1" fill="url(#g187)"/><line x1="30.5" y1="0" x2="30.5" y2="191" stroke="#707070"/><line x1="30" y1="0.5" x2="236" y2="0.5" stroke="#202020"/><line x1="235.5" y1="0" x2="235.5" y2="191" stroke="#404040"/><line x1="30" y1="190.5" x2="236" y2="190.5" stroke="#404040"/><line x1="43.7" y1="190.5" x2="43.7" y2="187.5" stroke="#2a2a2a"/><line x1="43.7" y1="0.5" x2="43.7" y2="3.5" stroke="#2a2a2a"/><text x="43.7" y="201.2" font-family="'Liberation Sans', sans-serif" stroke="#000" stroke-width="0.22" fill="#000" font-size="8.5" text-anchor="middle">52800</text><line x1="78.6" y1="190.5" x2="78.6" y2="187.5" stroke="#2a2a2a"/><line x1="78.6" y1="0.5" x2="78.6" y2="3.5" stroke="#2a2a2a"/><text x="78.6" y="201.2" font-family="'Liberation Sans', sans-serif" stroke="#000" stroke-width="0.22" fill="#000" font-size="8.5" text-anchor="middle">54000</text><line x1="113.5" y1="190.5" x2="113.5" y2="187.5" stroke="#2a2a2a"/><line x1="113.5" y1="0.5" x2="113.5" y2="3.5" stroke="#2a2a2a"/><text x="113.5" y="201.2" font-family="'Liberation Sans', sans-serif" stroke="#000" stroke-width="0.22" fill="#000" font-size="8.5" text-anchor="middle">55200</text><line x1="148.4" y1="190.5" x2="148.4" y2="187.5" stroke="#2a2a2a"/><line x1="148.4" y1="0.5" x2="148.4" y2="3.5" stroke="#2a2a2a"/><text x="148.4" y="201.2" font-family="'Liberation Sans', sans-serif" stroke="#000" stroke-width="0.22" fill="#000" font-size="8.5" text-anchor="middle">56400</text><line x1="183.3" y1="190.5" x2="183.3" y2="187.5" stroke="#2a2a2a"/><line x1="183.3" y1="0.5" x2="183.3" y2="3.5" stroke="#2a2a2a"/><text x="183.3" y="201.2" font-family="'Liberation Sans', sans-serif" stroke="#000" stroke-width="0.22" fill="#000" font-size="8.5" text-anchor="middle">57600</text><line x1="218.2" y1="190.5" x2="218.2" y2="187.5" stroke="#2a2a2a"/><line x1="218.2" y1="0.5" x2="218.2" y2="3.5" stroke="#2a2a2a"/><text x="218.2" y="201.2" font-family="'Liberation Sans', sans-serif" stroke="#000" stroke-width="0.22" fill="#000" font-size="8.5" text-anchor="middle">58800</text><line x1="30.5" y1="49.4" x2="33.5" y2="49.4" stroke="#2a2a2a"/><line x1="235.5" y1="49.4" x2="232.5" y2="49.4" stroke="#2a2a2a"/><line x1="30.5" y1="10.4" x2="32.5" y2="10.4" stroke="#2a2a2a"/><line x1="235.5" y1="10.4" x2="233.5" y2="10.4" stroke="#2a2a2a"/><line x1="30.5" y1="54.5" x2="32.5" y2="54.5" stroke="#2a2a2a"/><line x1="235.5" y1="54.5" x2="233.5" y2="54.5" stroke="#2a2a2a"/><line x1="30.5" y1="61.2" x2="32.5" y2="61.2" stroke="#2a2a2a"/><line x1="235.5" y1="61.2" x2="233.5" y2="61.2" stroke="#2a2a2a"/><line x1="30.5" y1="68.4" x2="32.5" y2="68.4" stroke="#2a2a2a"/><line x1="235.5" y1="68.4" x2="233.5" y2="68.4" stroke="#2a2a2a"/><line x1="30.5" y1="76.4" x2="32.5" y2="76.4" stroke="#2a2a2a"/><line x1="235.5" y1="76.4" x2="233.5" y2="76.4" stroke="#2a2a2a"/><line x1="30.5" y1="85.5" x2="32.5" y2="85.5" stroke="#2a2a2a"/><line x1="235.5" y1="85.5" x2="233.5" y2="85.5" stroke="#2a2a2a"/><line x1="30.5" y1="96.1" x2="32.5" y2="96.1" stroke="#2a2a2a"/><line x1="235.5" y1="96.1" x2="233.5" y2="96.1" stroke="#2a2a2a"/><line x1="30.5" y1="109.3" x2="32.5" y2="109.3" stroke="#2a2a2a"/><line x1="235.5" y1="109.3" x2="233.5" y2="109.3" stroke="#2a2a2a"/><line x1="30.5" y1="126.3" x2="32.5" y2="126.3" stroke="#2a2a2a"/><line x1="235.5" y1="126.3" x2="233.5" y2="126.3" stroke="#2a2a2a"/><line x1="30.5" y1="150.5" x2="32.5" y2="150.5" stroke="#2a2a2a"/><line x1="235.5" y1="150.5" x2="233.5" y2="150.5" stroke="#2a2a2a"/><text x="26.8" y="52.1" font-family="'Liberation Sans', sans-serif" stroke="#000" stroke-width="0.22" fill="#000" font-size="8.2" text-anchor="end">1000</text><text x="26.8" y="191.8" font-family="'Liberation Sans', sans-serif" stroke="#000" stroke-width="0.22" fill="#000" font-size="8.2" text-anchor="end">100</text><text transform="translate(6.4,95.6) rotate(-90)" font-family="'Liberation Sans', sans-serif" stroke="#000" stroke-width="0.22" fill="#000" font-size="8.2" text-anchor="middle">Period (days)</text><text x="132.7" y="214" font-family="'Liberation Sans', sans-serif" stroke="#000" stroke-width="0.22" fill="#000" font-size="8.2" text-anchor="middle">Time (MJD)</text><rect x="29" y="219.8" width="200.5" height="7" fill="url(#cb)"/><line x1="29" y1="226.4" x2="229.5" y2="226.4" stroke="#000" stroke-opacity="0.25" stroke-width="0.8"/><line x1="32.7" y1="220" x2="32.7" y2="226.5" stroke="#222" stroke-width="0.8"/><text x="32.7" y="235.5" font-family="'Liberation Sans', sans-serif" stroke="#000" stroke-width="0.22" fill="#000" font-size="7" text-anchor="middle">0.000</text><line x1="71.4" y1="220" x2="71.4" y2="226.5" stroke="#222" stroke-width="0.8"/><text x="71.4" y="235.5" font-family="'Liberation Sans', sans-serif" stroke="#000" stroke-width="0.22" fill="#000" font-size="7" text-anchor="middle">5.000</text><line x1="110.1" y1="220" x2="110.1" y2="226.5" stroke="#222" stroke-width="0.8"/><text x="110.1" y="235.5" font-family="'Liberation Sans', sans-serif" stroke="#000" stroke-width="0.22" fill="#000" font-size="7" text-anchor="middle">10.00</text><line x1="148.8" y1="220" x2="148.8" y2="226.5" stroke="#222" stroke-width="0.8"/><text x="148.8" y="235.5" font-family="'Liberation Sans', sans-serif" stroke="#000" stroke-width="0.22" fill="#000" font-size="7" text-anchor="middle">15.00</text><line x1="187.5" y1="220" x2="187.5" y2="226.5" stroke="#222" stroke-width="0.8"/><text x="187.5" y="235.5" font-family="'Liberation Sans', sans-serif" stroke="#000" stroke-width="0.22" fill="#000" font-size="7" text-anchor="middle">20.00</text><line x1="226.2" y1="220" x2="226.2" y2="226.5" stroke="#222" stroke-width="0.8"/><text x="226.2" y="235.5" font-family="'Liberation Sans', sans-serif" stroke="#000" stroke-width="0.22" fill="#000" font-size="7" text-anchor="middle">25.00</text><text x="129" y="243.6" font-family="'Liberation Sans', sans-serif" stroke="#000" stroke-width="0.22" fill="#000" font-size="8" text-anchor="middle">WWZ</text><rect x="239.5" y="0.5" width="91.0" height="190.0" fill="#fff" stroke="#2a2a2a" stroke-width="1"/><line x1="241.5" y1="190.5" x2="241.5" y2="187.5" stroke="#2a2a2a"/><line x1="241.5" y1="0.5" x2="241.5" y2="3.5" stroke="#2a2a2a"/><line x1="250.4" y1="190.5" x2="250.4" y2="188.5" stroke="#2a2a2a"/><line x1="250.4" y1="0.5" x2="250.4" y2="2.5" stroke="#2a2a2a"/><line x1="259.3" y1="190.5" x2="259.3" y2="188.5" stroke="#2a2a2a"/><line x1="259.3" y1="0.5" x2="259.3" y2="2.5" stroke="#2a2a2a"/><line x1="268.3" y1="190.5" x2="268.3" y2="188.5" stroke="#2a2a2a"/><line x1="268.3" y1="0.5" x2="268.3" y2="2.5" stroke="#2a2a2a"/><line x1="277.2" y1="190.5" x2="277.2" y2="188.5" stroke="#2a2a2a"/><line x1="277.2" y1="0.5" x2="277.2" y2="2.5" stroke="#2a2a2a"/><line x1="286.1" y1="190.5" x2="286.1" y2="187.5" stroke="#2a2a2a"/><line x1="286.1" y1="0.5" x2="286.1" y2="3.5" stroke="#2a2a2a"/><line x1="295.0" y1="190.5" x2="295.0" y2="188.5" stroke="#2a2a2a"/><line x1="295.0" y1="0.5" x2="295.0" y2="2.5" stroke="#2a2a2a"/><line x1="303.9" y1="190.5" x2="303.9" y2="188.5" stroke="#2a2a2a"/><line x1="303.9" y1="0.5" x2="303.9" y2="2.5" stroke="#2a2a2a"/><line x1="312.9" y1="190.5" x2="312.9" y2="188.5" stroke="#2a2a2a"/><line x1="312.9" y1="0.5" x2="312.9" y2="2.5" stroke="#2a2a2a"/><line x1="321.8" y1="190.5" x2="321.8" y2="188.5" stroke="#2a2a2a"/><line x1="321.8" y1="0.5" x2="321.8" y2="2.5" stroke="#2a2a2a"/><line x1="330.7" y1="190.5" x2="330.7" y2="187.5" stroke="#2a2a2a"/><line x1="330.7" y1="0.5" x2="330.7" y2="3.5" stroke="#2a2a2a"/><text x="241.5" y="200" font-family="'Liberation Sans', sans-serif" stroke="#000" stroke-width="0.22" fill="#000" font-size="8" text-anchor="middle">0</text><text x="286.1" y="200" font-family="'Liberation Sans', sans-serif" stroke="#000" stroke-width="0.22" fill="#000" font-size="8" text-anchor="middle">20</text><text x="330.7" y="200" font-family="'Liberation Sans', sans-serif" stroke="#000" stroke-width="0.22" fill="#000" font-size="8" text-anchor="middle">40</text><text x="283.8" y="209.6" font-family="'Liberation Sans', sans-serif" stroke="#000" stroke-width="0.22" fill="#000" font-size="7.3" text-anchor="middle">Powers</text><line x1="239.5" y1="147.3" x2="241.5" y2="147.3" stroke="#2a2a2a"/><line x1="330.5" y1="147.3" x2="328.5" y2="147.3" stroke="#2a2a2a"/><line x1="239.5" y1="122.7" x2="241.5" y2="122.7" stroke="#2a2a2a"/><line x1="330.5" y1="122.7" x2="328.5" y2="122.7" stroke="#2a2a2a"/><line x1="239.5" y1="105.2" x2="241.5" y2="105.2" stroke="#2a2a2a"/><line x1="330.5" y1="105.2" x2="328.5" y2="105.2" stroke="#2a2a2a"/><line x1="239.5" y1="91.6" x2="241.5" y2="91.6" stroke="#2a2a2a"/><line x1="330.5" y1="91.6" x2="328.5" y2="91.6" stroke="#2a2a2a"/><line x1="239.5" y1="80.5" x2="241.5" y2="80.5" stroke="#2a2a2a"/><line x1="330.5" y1="80.5" x2="328.5" y2="80.5" stroke="#2a2a2a"/><line x1="239.5" y1="71.1" x2="241.5" y2="71.1" stroke="#2a2a2a"/><line x1="330.5" y1="71.1" x2="328.5" y2="71.1" stroke="#2a2a2a"/><line x1="239.5" y1="63.0" x2="241.5" y2="63.0" stroke="#2a2a2a"/><line x1="330.5" y1="63.0" x2="328.5" y2="63.0" stroke="#2a2a2a"/><line x1="239.5" y1="55.8" x2="241.5" y2="55.8" stroke="#2a2a2a"/><line x1="330.5" y1="55.8" x2="328.5" y2="55.8" stroke="#2a2a2a"/><line x1="239.5" y1="7.2" x2="241.5" y2="7.2" stroke="#2a2a2a"/><line x1="330.5" y1="7.2" x2="328.5" y2="7.2" stroke="#2a2a2a"/><line x1="239.5" y1="49.4" x2="242.5" y2="49.4" stroke="#2a2a2a"/><line x1="330.5" y1="49.4" x2="327.5" y2="49.4" stroke="#2a2a2a"/><text x="333.6" y="51.1" font-family="'Liberation Sans', sans-serif" stroke="#000" stroke-width="0.22" fill="#000" font-size="6.9">1000</text><text x="333.6" y="191.1" font-family="'Liberation Sans', sans-serif" stroke="#000" stroke-width="0.22" fill="#000" font-size="6.9">100</text><text transform="translate(350.3,94.3) rotate(90)" font-family="'Liberation Sans', sans-serif" stroke="#000" stroke-width="0.22" fill="#000" font-size="7.0" text-anchor="middle">Period (days)</text><g fill="none" clip-path="url(#rp)"><polyline points="270.8,0.0 265.5,18.0 260.8,36.0 257.5,50.0 255.3,66.0 253.5,84.0 252.0,100.0 251.0,120.0 249.9,140.0 248.8,160.0 248.6,191.0" stroke="#3cb43c" stroke-width="1"/><polyline points="330.5,71.0 329.3,73.1 321.2,74.0 315.8,77.7 309.5,81.3 302.2,85.8 296.8,89.4 294.0,92.6 289.7,98.0 284.3,103.4 279.8,111.6 275.2,116.0 271.6,124.0 264.0,131.6 259.0,150.0 256.7,160.0 254.5,175.0 252.3,191.0" stroke="#ff8a8a" stroke-width="0.8"/><polyline points="330.5,21.6 325.0,23.0 318.1,24.4 315.3,26.5 313.9,30.6 311.0,34.5 306.0,39.5 300.8,44.0 297.0,48.5 292.0,55.0 288.0,61.0 282.0,69.0 277.5,76.0 274.6,79.7 268.0,90.8 263.5,101.6 259.9,112.5 258.1,122.0 255.1,130.0 253.0,140.0 252.2,150.0 251.5,160.0 250.8,191.0" stroke="#ff80ff" stroke-width="0.8"/><polyline points="330.5,5.5 328.6,9.7 326.5,11.1 322.3,22.3 316.7,24.4 311.1,25.8 309.0,29.2 308.4,34.0 305.3,38.8 301.7,41.0 297.5,49.0 292.7,55.0 289.0,61.5 286.5,67.0 283.0,75.0 279.0,83.0 276.1,89.0 273.4,96.2 270.7,105.2 268.9,114.3 267.1,122.0 266.2,126.0 263.5,145.0 262.0,160.0 261.1,170.0 261.1,191.0" stroke="#333" stroke-width="0.8" stroke-dasharray="1.5,1.5"/><polyline points="330.5,72.5 324.8,76.8 318.5,81.3 313.1,86.7 307.7,91.2 303.1,97.5 296.5,106.6 292.4,115.9 286.2,129.2 279.7,144.5 275.1,157.5 270.0,175.0 266.3,191.0" stroke="#3030ff" stroke-width="0.8" stroke-dasharray="1,1.5"/><polyline points="280.4,-1.0 280.3,-0.7 280.0,-0.5 279.5,-0.2 278.9,0.0 278.1,0.3 277.1,0.5 276.0,0.8 274.7,1.1 273.3,1.3 271.8,1.6 270.3,1.8 268.6,2.1 266.9,2.3 265.2,2.6 263.6,2.9 261.9,3.1 260.2,3.4 258.7,3.6 257.2,3.9 255.8,4.1 254.5,4.4 253.4,4.7 252.4,4.9 251.6,5.2 251.0,5.4 250.5,5.7 250.2,5.9 250.1,6.2 250.2,6.5 250.3,6.7 250.7,7.0 251.1,7.2 251.6,7.5 252.3,7.7 253.1,8.0 254.0,8.2 254.9,8.5 256.0,8.7 257.1,9.0 258.4,9.2 259.6,9.5 261.0,9.7 262.4,10.0 263.8,10.2 265.2,10.5 266.7,10.7 268.2,11.0 269.7,11.2 271.1,11.5 272.5,11.7 273.9,12.0 275.3,12.2 276.5,12.5 277.8,12.7 278.9,13.0 280.0,13.2 280.9,13.5 281.8,13.7 282.6,14.0 283.3,14.2 283.8,14.5 284.2,14.7 284.6,15.0 284.7,15.2 284.8,15.5 284.7,15.8 284.5,16.0 284.1,16.3 283.6,16.5 282.9,16.8 282.0,17.0 281.1,17.3 280.0,17.5 278.7,17.8 277.4,18.0 276.0,18.3 274.5,18.6 272.9,18.8 271.3,19.1 269.6,19.3 267.8,19.6 266.1,19.8 264.3,20.1 262.6,20.3 260.8,20.6 259.1,20.8 257.5,21.1 255.9,21.3 254.4,21.6 253.0,21.9 251.7,22.1 250.4,22.4 249.3,22.6 248.4,22.9 247.5,23.1 246.8,23.4 246.3,23.6 245.9,23.9 245.7,24.1 245.6,24.4 245.7,24.7 245.9,24.9 246.3,25.2 246.8,25.4 247.5,25.7 248.3,25.9 249.2,26.2 250.2,26.4 251.3,26.7 252.5,27.0 253.8,27.2 255.1,27.5 256.4,27.7 257.7,28.0 259.0,28.2 260.3,28.5 261.6,28.7 262.8,29.0 263.9,29.3 264.9,29.5 265.8,29.8 266.6,30.0 267.3,30.3 267.8,30.5 268.2,30.8 268.4,31.0 268.5,31.3 268.4,31.6 268.3,31.8 268.1,32.1 267.7,32.3 267.3,32.6 266.7,32.8 266.1,33.1 265.4,33.3 264.7,33.6 263.9,33.8 263.0,34.1 262.0,34.3 261.1,34.6 260.1,34.8 259.0,35.1 258.0,35.3 256.9,35.6 255.9,35.8 254.8,36.1 253.8,36.3 252.9,36.6 251.9,36.8 251.0,37.1 250.2,37.3 249.5,37.6 248.8,37.8 248.2,38.1 247.6,38.3 247.2,38.6 246.8,38.8 246.6,39.1 246.5,39.3 246.4,39.6 246.5,39.9 246.6,40.1 247.0,40.4 247.4,40.6 247.9,40.9 248.5,41.2 249.1,41.4 249.8,41.7 250.4,41.9 251.1,42.2 251.7,42.4 252.3,42.7 252.8,43.0 253.2,43.2 253.6,43.5 253.7,43.7 253.8,44.0 253.8,44.3 253.7,44.5 253.5,44.8 253.4,45.0 253.1,45.3 252.8,45.5 252.5,45.8 252.1,46.0 251.6,46.3 251.2,46.6 250.7,46.8 250.2,47.1 249.6,47.3 249.1,47.6 248.5,47.8 247.9,48.1 247.3,48.4 246.7,48.6 246.2,48.9 245.6,49.1 245.1,49.4 244.6,49.6 244.2,49.9 243.7,50.2 243.3,50.4 243.0,50.7 242.7,50.9 242.4,51.2 242.3,51.4 242.1,51.7 242.0,51.9 242.0,52.2 242.1,52.5 242.3,52.7 242.7,53.0 243.1,53.2 243.8,53.5 244.5,53.7 245.4,54.0 246.4,54.2 247.5,54.5 248.7,54.7 250.0,55.0 251.3,55.2 252.7,55.5 254.2,55.7 255.6,56.0 257.1,56.2 258.6,56.5 260.0,56.8 261.5,57.0 262.9,57.3 264.2,57.5 265.5,57.8 266.7,58.0 267.8,58.3 268.8,58.5 269.7,58.8 270.4,59.0 271.1,59.3 271.5,59.5 271.9,59.8 272.1,60.0 272.2,60.3 272.1,60.6 271.7,60.8 271.2,61.1 270.4,61.3 269.5,61.6 268.3,61.8 267.0,62.1 265.6,62.4 264.0,62.6 262.3,62.9 260.6,63.1 258.9,63.4 257.2,63.7 255.5,63.9 253.8,64.2 252.2,64.4 250.8,64.7 249.5,65.0 248.3,65.2 247.4,65.5 246.6,65.7 246.1,66.0 245.7,66.2 245.6,66.5 245.6,66.8 245.7,67.0 245.8,67.3 246.0,67.5 246.3,67.8 246.5,68.0 246.8,68.3 247.1,68.6 247.5,68.8 247.8,69.1 248.2,69.3 248.5,69.6 248.8,69.9 249.0,70.1 249.3,70.4 249.5,70.6 249.6,70.9 249.7,71.1 249.7,71.4 249.7,71.7 249.6,71.9 249.4,72.2 249.2,72.4 249.0,72.7 248.7,72.9 248.4,73.2 248.1,73.5 247.7,73.7 247.4,74.0 247.1,74.2 246.9,74.5 246.7,74.7 246.5,75.0 246.4,75.2 246.4,75.5 246.5,75.8 246.9,76.0 247.6,76.3 248.4,76.5 249.5,76.8 250.7,77.0 252.0,77.3 253.3,77.5 254.7,77.8 256.0,78.1 257.2,78.3 258.3,78.6 259.1,78.8 259.8,79.1 260.2,79.3 260.3,79.6 260.2,79.9 260.0,80.1 259.6,80.4 259.1,80.6 258.5,80.9 257.8,81.1 257.1,81.4 256.4,81.6 255.8,81.9 255.3,82.1 254.9,82.4 254.7,82.6 254.6,82.9 254.7,83.2 254.9,83.4 255.3,83.7 255.8,83.9 256.5,84.2 257.3,84.5 258.2,84.7 259.1,85.0 260.2,85.2 261.2,85.5 262.4,85.8 263.5,86.0 264.5,86.3 265.6,86.5 266.5,86.8 267.4,87.0 268.2,87.3 268.9,87.6 269.4,87.8 269.8,88.1 270.0,88.3 270.1,88.6 269.9,88.9 269.4,89.1 268.7,89.4 267.6,89.6 266.4,89.9 265.1,90.1 263.7,90.4 262.4,90.6 261.2,90.9 260.1,91.1 259.4,91.4 258.9,91.6 258.7,91.9 258.9,92.2 259.5,92.4 260.3,92.7 261.4,93.0 262.5,93.2 263.6,93.5 264.4,93.8 265.0,94.0 265.2,94.3 265.2,94.5 265.0,94.8 264.8,95.0 264.5,95.3 264.1,95.5 263.6,95.8 263.1,96.0 262.5,96.3 261.8,96.5 261.1,96.8 260.3,97.0 259.5,97.3 258.6,97.5 257.8,97.8 256.9,98.0 255.9,98.3 255.0,98.5 254.1,98.8 253.3,99.0 252.4,99.3 251.6,99.5 250.8,99.8 250.1,100.0 249.4,100.3 248.8,100.5 248.3,100.8 247.8,101.0 247.4,101.3 247.1,101.5 246.9,101.8 246.7,102.0 246.7,102.3 246.8,102.6 247.0,102.8 247.3,103.1 247.8,103.3 248.3,103.6 249.0,103.8 249.9,104.1 250.8,104.3 251.8,104.6 252.9,104.8 254.2,105.1 255.5,105.3 256.8,105.6 258.2,105.8 259.7,106.1 261.2,106.3 262.8,106.6 264.3,106.8 265.9,107.1 267.4,107.3 269.0,107.6 270.5,107.8 272.0,108.1 273.4,108.3 274.7,108.6 276.0,108.8 277.3,109.1 278.4,109.3 279.4,109.6 280.3,109.8 281.2,110.1 281.9,110.3 282.4,110.6 282.9,110.8 283.2,111.1 283.4,111.3 283.5,111.6 283.4,111.9 283.1,112.1 282.6,112.4 281.9,112.6 281.0,112.9 279.9,113.1 278.7,113.4 277.3,113.6 275.8,113.9 274.1,114.1 272.3,114.4 270.5,114.7 268.6,114.9 266.6,115.2 264.6,115.4 262.5,115.7 260.5,115.9 258.5,116.2 256.6,116.4 254.8,116.7 253.0,117.0 251.3,117.2 249.8,117.5 248.4,117.7 247.2,118.0 246.1,118.2 245.2,118.5 244.5,118.7 244.0,119.0 243.7,119.2 243.6,119.5 243.6,119.8 243.7,120.0 243.9,120.3 244.1,120.5 244.4,120.8 244.8,121.0 245.2,121.3 245.7,121.5 246.2,121.8 246.8,122.0 247.4,122.3 248.1,122.6 248.8,122.8 249.5,123.1 250.2,123.3 251.0,123.6 251.7,123.8 252.5,124.1 253.2,124.3 254.0,124.6 254.7,124.8 255.4,125.1 256.1,125.3 256.8,125.6 257.4,125.9 258.0,126.1 258.5,126.4 259.0,126.6 259.4,126.9 259.8,127.1 260.1,127.4 260.3,127.6 260.5,127.9 260.6,128.1 260.6,128.4 260.6,128.7 260.5,128.9 260.5,129.2 260.4,129.4 260.3,129.7 260.2,129.9 260.0,130.2 259.8,130.4 259.6,130.7 259.4,130.9 259.1,131.2 258.9,131.4 258.6,131.7 258.3,131.9 258.0,132.2 257.7,132.4 257.4,132.7 257.0,132.9 256.7,133.2 256.3,133.4 255.9,133.7 255.6,133.9 255.2,134.2 254.8,134.5 254.5,134.7 254.1,135.0 253.7,135.2 253.4,135.5 253.0,135.7 252.7,136.0 252.4,136.2 252.1,136.5 251.8,136.7 251.5,137.0 251.3,137.2 251.0,137.5 250.8,137.7 250.6,138.0 250.4,138.2 250.2,138.5 250.1,138.7 250.0,139.0 249.9,139.2 249.9,139.5 249.8,139.7 249.8,140.0 249.8,140.3 249.9,140.5 250.0,140.8 250.2,141.0 250.4,141.3 250.6,141.5 250.8,141.8 251.1,142.0 251.3,142.3 251.6,142.5 251.8,142.8 252.0,143.0 252.2,143.3 252.4,143.5 252.5,143.8 252.6,144.0 252.6,144.3 252.6,144.6 252.5,144.8 252.5,145.1 252.4,145.3 252.3,145.6 252.1,145.8 252.0,146.1 251.8,146.3 251.6,146.6 251.3,146.8 251.1,147.1 250.8,147.3 250.5,147.6 250.3,147.8 249.9,148.1 249.6,148.3 249.3,148.6 249.0,148.8 248.6,149.1 248.3,149.3 248.0,149.6 247.6,149.8 247.3,150.1 247.0,150.3 246.7,150.6 246.3,150.8 246.1,151.1 245.8,151.3 245.5,151.6 245.3,151.8 245.0,152.1 244.8,152.3 244.6,152.6 244.5,152.8 244.3,153.1 244.2,153.3 244.1,153.6 244.1,153.8 244.0,154.1 244.0,154.3 244.0,154.6 244.0,154.8 244.1,155.1 244.2,155.3 244.3,155.6 244.4,155.8 244.5,156.1 244.6,156.4 244.8,156.6 244.9,156.9 245.1,157.1 245.3,157.4 245.4,157.7 245.6,157.9 245.8,158.2 246.0,158.4 246.1,158.7 246.3,158.9 246.4,159.2 246.5,159.5 246.6,159.7 246.7,160.0 246.8,160.2 246.9,160.5 246.9,160.7 246.9,161.0 246.9,161.2 246.9,161.5 246.8,161.8 246.8,162.0 246.7,162.2 246.6,162.5 246.5,162.8 246.4,163.0 246.2,163.2 246.1,163.5 245.9,163.8 245.8,164.0 245.6,164.2 245.5,164.5 245.3,164.8 245.1,165.0 245.0,165.2 244.8,165.5 244.7,165.8 244.5,166.0 244.4,166.2 244.3,166.5 244.2,166.8 244.1,167.0 244.1,167.2 244.0,167.5 244.0,167.8 244.0,168.0 244.0,168.2 244.1,168.5 244.2,168.8 244.4,169.0 244.6,169.2 244.9,169.5 245.2,169.8 245.5,170.0 245.8,170.2 246.2,170.5 246.5,170.8 246.8,171.0 247.1,171.2 247.4,171.5 247.7,171.8 247.9,172.0 248.1,172.2 248.2,172.5 248.3,172.8 248.3,173.0 248.3,173.2 248.2,173.5 248.1,173.8 247.9,174.0 247.7,174.2 247.5,174.5 247.3,174.8 247.0,175.0 246.7,175.2 246.4,175.5 246.1,175.8 245.8,176.0 245.5,176.2 245.3,176.5 245.1,176.8 244.9,177.0 244.7,177.2 244.6,177.5 244.5,177.8 244.5,178.0 244.5,178.2 244.6,178.5 244.7,178.8 244.8,179.0 244.9,179.2 245.1,179.5 245.3,179.8 245.5,180.0 245.8,180.2 246.0,180.5 246.2,180.8 246.5,181.0 246.7,181.2 246.9,181.5 247.1,181.8 247.2,182.0 247.3,182.2 247.4,182.5 247.5,182.8 247.5,183.0 247.5,183.2 247.5,183.5 247.4,183.8 247.4,184.0 247.3,184.2 247.3,184.5 247.2,184.8 247.1,185.0 247.0,185.2 246.9,185.5 246.8,185.8 246.7,186.0 246.6,186.2 246.5,186.5 246.3,186.8 246.2,187.0 246.1,187.2 245.9,187.5 245.8,187.8 245.7,188.0 245.6,188.2 245.5,188.5 245.4,188.8 245.3,189.0 245.2,189.2 245.1,189.5 245.1,189.8 245.0,190.0 245.0,190.2 244.9,190.5 244.9,190.8 244.9,191.0" stroke="#ff1a1a" stroke-width="1.15" stroke-linejoin="round"/><polyline points="282.3,-1.0 282.2,-0.7 281.9,-0.5 281.5,-0.2 280.8,0.0 279.9,0.3 278.9,0.5 277.7,0.8 276.4,1.1 274.9,1.3 273.3,1.6 271.7,1.8 270.0,2.1 268.2,2.3 266.4,2.6 264.7,2.9 262.9,3.1 261.2,3.4 259.5,3.6 258.0,3.9 256.5,4.1 255.2,4.4 254.0,4.7 253.0,4.9 252.1,5.2 251.4,5.4 250.9,5.7 250.6,5.9 250.5,6.2 250.6,6.5 250.8,6.7 251.1,7.0 251.6,7.2 252.1,7.5 252.8,7.7 253.7,8.0 254.6,8.2 255.6,8.5 256.7,8.7 257.9,9.0 259.2,9.2 260.5,9.5 262.0,9.7 263.4,10.0 264.9,10.2 266.4,10.5 268.0,10.7 269.5,11.0 271.1,11.2 272.6,11.5 274.1,11.7 275.5,12.0 276.9,12.2 278.3,12.5 279.6,12.7 280.8,13.0 281.9,13.2 282.9,13.5 283.8,13.7 284.7,14.0 285.3,14.2 285.9,14.5 286.4,14.7 286.7,15.0 286.9,15.2 287.0,15.5 286.9,15.8 286.6,16.0 286.2,16.3 285.7,16.5 284.9,16.8 284.1,17.0 283.0,17.3 281.9,17.5 280.6,17.8 279.2,18.0 277.7,18.3 276.1,18.6 274.5,18.8 272.7,19.1 271.0,19.3 269.1,19.6 267.3,19.8 265.5,20.1 263.6,20.3 261.8,20.6 260.0,20.8 258.3,21.1 256.6,21.3 255.0,21.6 253.6,21.9 252.2,22.1 250.9,22.4 249.7,22.6 248.7,22.9 247.8,23.1 247.1,23.4 246.5,23.6 246.1,23.9 245.9,24.1 245.8,24.4 245.9,24.7 246.1,24.9 246.5,25.2 247.1,25.4 247.8,25.7 248.6,25.9 249.6,26.2 250.6,26.4 251.8,26.7 253.1,27.0 254.4,27.2 255.7,27.5 257.1,27.7 258.5,28.0 259.9,28.2 261.3,28.5 262.6,28.7 263.8,29.0 265.0,29.3 266.1,29.5 267.0,29.8 267.9,30.0 268.6,30.3 269.1,30.5 269.5,30.8 269.8,31.0 269.9,31.3 269.8,31.6 269.6,31.8 269.4,32.1 269.0,32.3 268.6,32.6 268.0,32.8 267.4,33.1 266.6,33.3 265.8,33.6 265.0,33.8 264.0,34.1 263.1,34.3 262.0,34.6 261.0,34.8 259.9,35.1 258.8,35.3 257.7,35.6 256.6,35.8 255.5,36.1 254.5,36.3 253.4,36.6 252.4,36.8 251.5,37.1 250.6,37.3 249.9,37.6 249.1,37.8 248.5,38.1 247.9,38.3 247.5,38.6 247.1,38.8 246.9,39.1 246.7,39.3 246.6,39.6 246.7,39.9 246.9,40.1 247.2,40.4 247.7,40.6 248.2,40.9 248.8,41.2 249.5,41.4 250.2,41.7 250.9,41.9 251.6,42.2 252.3,42.4 252.9,42.7 253.4,43.0 253.8,43.2 254.2,43.5 254.3,43.7 254.4,44.0 254.4,44.3 254.3,44.5 254.1,44.8 253.9,45.0 253.7,45.3 253.4,45.5 253.0,45.8 252.6,46.0 252.2,46.3 251.7,46.6 251.1,46.8 250.6,47.1 250.0,47.3 249.4,47.6 248.8,47.8 248.2,48.1 247.6,48.4 247.0,48.6 246.4,48.9 245.8,49.1 245.3,49.4 244.8,49.6 244.3,49.9 243.8,50.2 243.4,50.4 243.1,50.7 242.8,50.9 242.5,51.2 242.3,51.4 242.1,51.7 242.1,51.9 242.0,52.2 242.1,52.5 242.3,52.7 242.7,53.0 243.2,53.2 243.9,53.5 244.7,53.7 245.6,54.0 246.7,54.2 247.8,54.5 249.1,54.7 250.4,55.0 251.8,55.2 253.3,55.5 254.8,55.7 256.3,56.0 257.9,56.2 259.4,56.5 261.0,56.8 262.5,57.0 263.9,57.3 265.4,57.5 266.7,57.8 267.9,58.0 269.1,58.3 270.1,58.5 271.1,58.8 271.9,59.0 272.5,59.3 273.1,59.5 273.4,59.8 273.7,60.0 273.7,60.3 273.6,60.6 273.3,60.8 272.7,61.1 271.9,61.3 270.8,61.6 269.6,61.8 268.3,62.1 266.8,62.4 265.1,62.6 263.4,62.9 261.6,63.1 259.8,63.4 257.9,63.7 256.2,63.9 254.4,64.2 252.8,64.4 251.3,64.7 249.9,65.0 248.7,65.2 247.7,65.5 246.9,65.7 246.3,66.0 245.9,66.2 245.8,66.5 245.8,66.8 245.9,67.0 246.1,67.3 246.3,67.5 246.5,67.8 246.8,68.0 247.1,68.3 247.4,68.6 247.8,68.8 248.1,69.1 248.5,69.3 248.8,69.6 249.1,69.9 249.4,70.1 249.7,70.4 249.9,70.6 250.0,70.9 250.1,71.1 250.1,71.4 250.1,71.7 250.0,71.9 249.8,72.2 249.6,72.4 249.3,72.7 249.0,72.9 248.7,73.2 248.4,73.5 248.0,73.7 247.7,74.0 247.4,74.2 247.2,74.5 246.9,74.7 246.8,75.0 246.7,75.2 246.6,75.5 246.8,75.8 247.2,76.0 247.9,76.3 248.8,76.5 249.9,76.8 251.1,77.0 252.5,77.3 253.9,77.5 255.4,77.8 256.7,78.1 258.0,78.3 259.1,78.6 260.0,78.8 260.7,79.1 261.1,79.3 261.2,79.6 261.2,79.9 260.9,80.1 260.5,80.4 259.9,80.6 259.3,80.9 258.6,81.1 257.9,81.4 257.2,81.6 256.5,81.9 256.0,82.1 255.6,82.4 255.3,82.6 255.3,82.9 255.3,83.2 255.6,83.4 256.0,83.7 256.5,83.9 257.2,84.2 258.1,84.5 259.0,84.7 260.0,85.0 261.1,85.2 262.2,85.5 263.4,85.8 264.6,86.0 265.7,86.3 266.8,86.5 267.8,86.8 268.7,87.0 269.5,87.3 270.2,87.6 270.8,87.8 271.2,88.1 271.4,88.3 271.5,88.6 271.4,88.9 270.8,89.1 270.0,89.4 268.9,89.6 267.7,89.9 266.3,90.1 264.8,90.4 263.4,90.6 262.1,90.9 261.1,91.1 260.2,91.4 259.7,91.6 259.6,91.9 259.8,92.2 260.4,92.4 261.3,92.7 262.4,93.0 263.6,93.2 264.7,93.5 265.6,93.8 266.2,94.0 266.4,94.3 266.3,94.5 266.2,94.8 266.0,95.0 265.6,95.3 265.2,95.5 264.7,95.8 264.2,96.0 263.5,96.3 262.8,96.5 262.1,96.8 261.3,97.0 260.4,97.3 259.5,97.5 258.6,97.8 257.6,98.0 256.7,98.3 255.7,98.5 254.8,98.8 253.9,99.0 253.0,99.3 252.1,99.5 251.3,99.8 250.5,100.0 249.8,100.3 249.2,100.5 248.6,100.8 248.1,101.0 247.7,101.3 247.4,101.5 247.1,101.8 247.0,102.0 247.0,102.3 247.0,102.6 247.2,102.8 247.6,103.1 248.1,103.3 248.7,103.6 249.4,103.8 250.3,104.1 251.2,104.3 252.3,104.6 253.5,104.8 254.8,105.1 256.2,105.3 257.6,105.6 259.1,105.8 260.6,106.1 262.2,106.3 263.8,106.6 265.5,106.8 267.1,107.1 268.7,107.3 270.4,107.6 271.9,107.8 273.5,108.1 275.0,108.3 276.4,108.6 277.8,108.8 279.0,109.1 280.2,109.3 281.3,109.6 282.3,109.8 283.1,110.1 283.9,110.3 284.5,110.6 285.0,110.8 285.3,111.1 285.5,111.3 285.6,111.6 285.5,111.9 285.2,112.1 284.6,112.4 283.9,112.6 283.0,112.9 281.8,113.1 280.5,113.4 279.1,113.6 277.5,113.9 275.7,114.1 273.9,114.4 271.9,114.7 269.9,114.9 267.8,115.2 265.7,115.4 263.6,115.7 261.5,115.9 259.4,116.2 257.4,116.4 255.4,116.7 253.6,117.0 251.8,117.2 250.2,117.5 248.8,117.7 247.5,118.0 246.3,118.2 245.4,118.5 244.7,118.7 244.1,119.0 243.8,119.2 243.7,119.5 243.7,119.8 243.8,120.0 244.0,120.3 244.3,120.5 244.6,120.8 245.0,121.0 245.4,121.3 245.9,121.5 246.5,121.8 247.1,122.0 247.7,122.3 248.4,122.6 249.1,122.8 249.9,123.1 250.6,123.3 251.4,123.6 252.2,123.8 253.0,124.1 253.8,124.3 254.6,124.6 255.4,124.8 256.1,125.1 256.9,125.3 257.5,125.6 258.2,125.9 258.8,126.1 259.4,126.4 259.9,126.6 260.3,126.9 260.7,127.1 261.0,127.4 261.2,127.6 261.4,127.9 261.5,128.1 261.6,128.4 261.5,128.7 261.5,128.9 261.4,129.2 261.3,129.4 261.2,129.7 261.1,129.9 260.9,130.2 260.7,130.4 260.5,130.7 260.3,130.9 260.0,131.2 259.8,131.4 259.5,131.7 259.2,131.9 258.8,132.2 258.5,132.4 258.1,132.7 257.8,132.9 257.4,133.2 257.0,133.4 256.7,133.7 256.3,133.9 255.9,134.2 255.5,134.5 255.1,134.7 254.7,135.0 254.4,135.2 254.0,135.5 253.6,135.7 253.3,136.0 252.9,136.2 252.6,136.5 252.3,136.7 252.0,137.0 251.7,137.2 251.5,137.5 251.3,137.7 251.0,138.0 250.9,138.2 250.7,138.5 250.5,138.7 250.4,139.0 250.3,139.2 250.3,139.5 250.2,139.7 250.2,140.0 250.2,140.3 250.3,140.5 250.4,140.8 250.6,141.0 250.8,141.3 251.0,141.5 251.3,141.8 251.5,142.0 251.8,142.3 252.1,142.5 252.3,142.8 252.6,143.0 252.8,143.3 252.9,143.5 253.1,143.8 253.1,144.0 253.2,144.3 253.1,144.6 253.1,144.8 253.0,145.1 252.9,145.3 252.8,145.6 252.7,145.8 252.5,146.1 252.3,146.3 252.1,146.6 251.8,146.8 251.6,147.1 251.3,147.3 251.0,147.6 250.7,147.8 250.4,148.1 250.0,148.3 249.7,148.6 249.3,148.8 249.0,149.1 248.6,149.3 248.3,149.6 247.9,149.8 247.6,150.1 247.2,150.3 246.9,150.6 246.6,150.8 246.3,151.1 246.0,151.3 245.7,151.6 245.4,151.8 245.2,152.1 245.0,152.3 244.8,152.6 244.6,152.8 244.5,153.1 244.3,153.3 244.2,153.6 244.2,153.8 244.1,154.1 244.1,154.3 244.1,154.6 244.2,154.8 244.2,155.1 244.3,155.3 244.4,155.6 244.5,155.8 244.6,156.1 244.8,156.4 244.9,156.6 245.1,156.9 245.3,157.1 245.5,157.4 245.6,157.7 245.8,157.9 246.0,158.2 246.2,158.4 246.4,158.7 246.5,158.9 246.7,159.2 246.8,159.5 246.9,159.7 247.0,160.0 247.1,160.2 247.1,160.5 247.2,160.7 247.2,161.0 247.2,161.2 247.1,161.5 247.1,161.8 247.0,162.0 246.9,162.2 246.8,162.5 246.7,162.8 246.6,163.0 246.5,163.2 246.3,163.5 246.2,163.8 246.0,164.0 245.8,164.2 245.6,164.5 245.5,164.8 245.3,165.0 245.1,165.2 245.0,165.5 244.8,165.8 244.7,166.0 244.6,166.2 244.5,166.5 244.4,166.8 244.3,167.0 244.2,167.2 244.2,167.5 244.1,167.8 244.1,168.0 244.2,168.2 244.2,168.5 244.4,168.8 244.6,169.0 244.8,169.2 245.1,169.5 245.4,169.8 245.7,170.0 246.0,170.2 246.4,170.5 246.7,170.8 247.1,171.0 247.4,171.2 247.7,171.5 248.0,171.8 248.2,172.0 248.4,172.2 248.5,172.5 248.6,172.8 248.6,173.0 248.6,173.2 248.5,173.5 248.4,173.8 248.3,174.0 248.1,174.2 247.8,174.5 247.6,174.8 247.3,175.0 247.0,175.2 246.6,175.5 246.3,175.8 246.0,176.0 245.7,176.2 245.5,176.5 245.2,176.8 245.0,177.0 244.9,177.2 244.7,177.5 244.7,177.8 244.7,178.0 244.7,178.2 244.7,178.5 244.8,178.8 245.0,179.0 245.1,179.2 245.3,179.5 245.5,179.8 245.7,180.0 246.0,180.2 246.2,180.5 246.5,180.8 246.7,181.0 246.9,181.2 247.2,181.5 247.3,181.8 247.5,182.0 247.6,182.2 247.7,182.5 247.8,182.8 247.8,183.0 247.8,183.2 247.8,183.5 247.7,183.8 247.7,184.0 247.6,184.2 247.6,184.5 247.5,184.8 247.4,185.0 247.3,185.2 247.2,185.5 247.1,185.8 247.0,186.0 246.8,186.2 246.7,186.5 246.6,186.8 246.4,187.0 246.3,187.2 246.2,187.5 246.0,187.8 245.9,188.0 245.8,188.2 245.7,188.5 245.6,188.8 245.5,189.0 245.4,189.2 245.3,189.5 245.2,189.8 245.2,190.0 245.1,190.2 245.1,190.5 245.1,190.8 245.1,191.0" stroke="#3030ff" stroke-width="0.8" stroke-dasharray="0.9,2.6"/><line x1="283" y1="111.2" x2="300.6" y2="111.2" stroke="#3a3aff" stroke-width="0.9" stroke-dasharray="1,1.6"/><line x1="242" y1="141.8" x2="253" y2="141.8" stroke="#3a3aff" stroke-width="0.9" stroke-dasharray="1,1.6"/><line x1="243" y1="145.5" x2="248" y2="145.5" stroke="#3a3aff" stroke-width="0.9" stroke-dasharray="1,1.6"/><line x1="242" y1="149.5" x2="247" y2="149.5" stroke="#3a3aff" stroke-width="0.9" stroke-dasharray="1,1.6"/><line x1="247.6" y1="158.6" x2="255" y2="158.6" stroke="#3a3aff" stroke-width="0.9" stroke-dasharray="1,1.6"/><line x1="247.6" y1="165" x2="255" y2="165" stroke="#3a3aff" stroke-width="0.9" stroke-dasharray="1,1.6"/><line x1="252" y1="172.2" x2="258" y2="172.2" stroke="#3a3aff" stroke-width="0.9" stroke-dasharray="1,1.6"/><line x1="241" y1="176.5" x2="246" y2="176.5" stroke="#3a3aff" stroke-width="0.9" stroke-dasharray="1,1.6"/><line x1="242" y1="182" x2="250" y2="182" stroke="#3a3aff" stroke-width="0.9" stroke-dasharray="1,1.6"/><line x1="243" y1="186" x2="249" y2="186" stroke="#3a3aff" stroke-width="0.9" stroke-dasharray="1,1.6"/><line x1="246" y1="100.5" x2="252" y2="100.5" stroke="#3a3aff" stroke-width="0.9" stroke-dasharray="1,1.6"/><line x1="241.5" y1="66.5" x2="247" y2="66.5" stroke="#3a3aff" stroke-width="0.9" stroke-dasharray="1,1.6"/><line x1="241.5" y1="75.5" x2="247" y2="75.5" stroke="#3a3aff" stroke-width="0.9" stroke-dasharray="1,1.6"/><line x1="250" y1="92" x2="256" y2="92" stroke="#3a3aff" stroke-width="0.9" stroke-dasharray="1,1.6"/><line x1="241.5" y1="121" x2="246" y2="121" stroke="#3a3aff" stroke-width="0.9" stroke-dasharray="1,1.6"/><line x1="266" y1="88.6" x2="274" y2="88.6" stroke="#3a3aff" stroke-width="0.9" stroke-dasharray="1,1.6"/><line x1="272" y1="60.5" x2="278" y2="60.5" stroke="#3a3aff" stroke-width="0.9" stroke-dasharray="1,1.6"/><line x1="284" y1="15.5" x2="288" y2="15.5" stroke="#3a3aff" stroke-width="0.9" stroke-dasharray="1,1.6"/></g><rect x="300.5" y="12.5" width="25.8" height="9" fill="#fff" stroke="#888" stroke-width="0.7"/><text x="313.3" y="19.7" font-family="'Liberation Sans', sans-serif" stroke="#000" stroke-width="0.22" fill="#000" font-size="7" text-anchor="middle">37 GHz</text><rect x="278.5" y="134.2" width="47.5" height="51.3" fill="#fff" stroke="#888" stroke-width="0.7"/><line x1="279.5" y1="138.3" x2="292" y2="138.3" stroke="#ee1111" stroke-width="1"/><text x="293.9" y="140.6" font-family="'Liberation Sans', sans-serif" stroke="#000" stroke-width="0.22" fill="#000" font-size="5.6">WWZ power</text><line x1="294" y1="135.8" x2="308.5" y2="135.8" stroke="#222" stroke-width="0.6"/><line x1="279.5" y1="145.6" x2="292" y2="145.6" stroke="#3030ff" stroke-width="1" stroke-dasharray="1.5,1,0.5,1"/><text x="293.9" y="147.9" font-family="'Liberation Sans', sans-serif" stroke="#000" stroke-width="0.22" fill="#000" font-size="5.6">LSP power</text><line x1="279.5" y1="152.8" x2="292" y2="152.8" stroke="#ff9a9a" stroke-width="1"/><text x="293.9" y="155.1" font-family="'Liberation Sans', sans-serif" stroke="#000" stroke-width="0.22" fill="#000" font-size="5.6">WWZ 4-σ</text><line x1="294" y1="150.3" x2="308.5" y2="150.3" stroke="#222" stroke-width="0.6"/><line x1="279.5" y1="160.1" x2="292" y2="160.1" stroke="#3030ff" stroke-width="1" stroke-dasharray="0.8,1.2"/><text x="293.9" y="162.4" font-family="'Liberation Sans', sans-serif" stroke="#000" stroke-width="0.22" fill="#000" font-size="5.6">LSP 4-σ</text><line x1="279.5" y1="167.3" x2="292" y2="167.3" stroke="#ff80ff" stroke-width="1"/><text x="293.9" y="169.6" font-family="'Liberation Sans', sans-serif" stroke="#000" stroke-width="0.22" fill="#000" font-size="5.6">WWZ 3-σ</text><line x1="294" y1="164.8" x2="308.5" y2="164.8" stroke="#222" stroke-width="0.6"/><line x1="279.5" y1="174.6" x2="292" y2="174.6" stroke="#333" stroke-width="1" stroke-dasharray="0.8,1.2"/><text x="293.9" y="176.9" font-family="'Liberation Sans', sans-serif" stroke="#000" stroke-width="0.22" fill="#000" font-size="5.6">LSP 3-σ</text><line x1="279.5" y1="181.8" x2="292" y2="181.8" stroke="#3cb43c" stroke-width="1"/><text x="293.9" y="184.1" font-family="'Liberation Sans', sans-serif" stroke="#000" stroke-width="0.22" fill="#000" font-size="5.6">PSD</text>
</svg></body></html>
